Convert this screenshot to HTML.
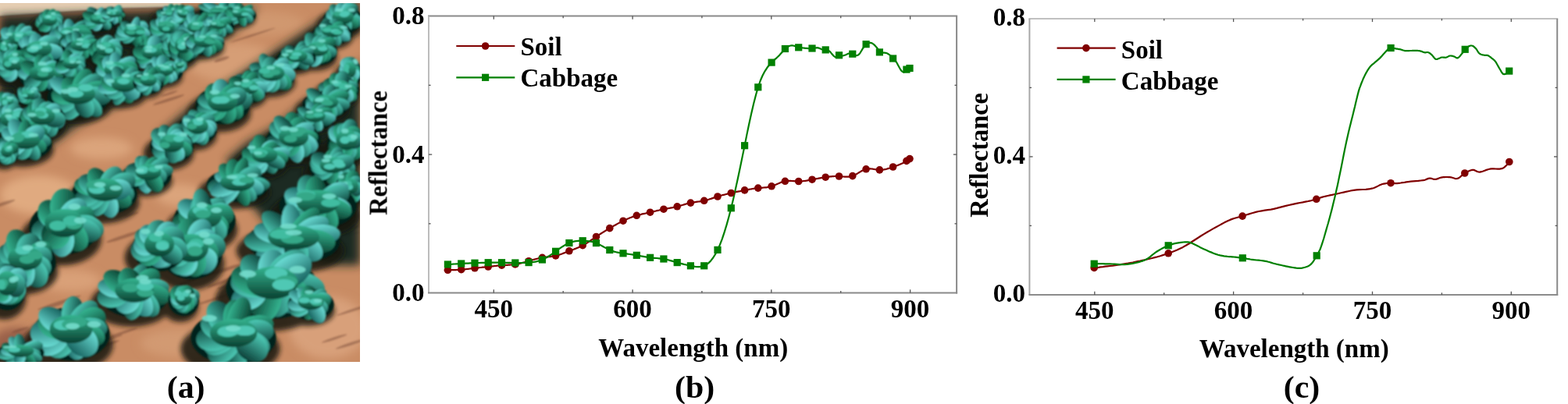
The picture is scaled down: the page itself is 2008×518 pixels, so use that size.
<!DOCTYPE html>
<html><head><meta charset="utf-8"><title>Figure</title>
<style>
html,body{margin:0;padding:0;background:#fff;}
body{width:2008px;height:518px;overflow:hidden;position:relative;}
svg{position:absolute;left:0;top:0;display:block;}
</style></head><body>
<svg width="2008" height="518" viewBox="0 0 2008 518">
<defs><filter id="soft" x="0" y="0" width="100%" height="100%" filterUnits="userSpaceOnUse"><feGaussianBlur stdDeviation="0.45"/></filter></defs>
<defs>
<clipPath id="pc"><rect x="0" y="4" width="461" height="460"/></clipPath>
<filter id="b3" x="-30%" y="-30%" width="160%" height="160%"><feGaussianBlur stdDeviation="3"/></filter>
<filter id="b2" x="-30%" y="-30%" width="160%" height="160%"><feGaussianBlur stdDeviation="1.3"/></filter>
<filter id="b6" x="-30%" y="-30%" width="160%" height="160%"><feGaussianBlur stdDeviation="6"/></filter>
<linearGradient id="lg" x1="0" y1="0" x2="0" y2="1"><stop offset="0" stop-color="#4cc8b4"/><stop offset="1" stop-color="#0c4038"/></linearGradient>
<linearGradient id="lg2" x1="0" y1="0" x2="0" y2="1"><stop offset="0" stop-color="#34b490"/><stop offset="1" stop-color="#0a4030"/></linearGradient>
<linearGradient id="lg3" x1="0" y1="0" x2="0" y2="1"><stop offset="0" stop-color="#6adcd4"/><stop offset="1" stop-color="#186460"/></linearGradient>
</defs>
<g clip-path="url(#pc)">
<rect x="0" y="4" width="461" height="460" fill="#c98c64"/>
<g filter="url(#b6)">
<ellipse cx="50" cy="250" rx="50" ry="25" fill="#e0aa80"/>
<ellipse cx="130" cy="190" rx="40" ry="14" fill="#dba47c"/>
<ellipse cx="90" cy="360" rx="40" ry="14" fill="#d9a078"/>
<ellipse cx="230" cy="250" rx="30" ry="14" fill="#dba47c"/>
<ellipse cx="420" cy="420" rx="50" ry="40" fill="#d8a07a"/>
<ellipse cx="300" cy="80" rx="60" ry="25" fill="#d69e76"/>
<ellipse cx="340" cy="30" rx="50" ry="15" fill="#d09870"/>
<ellipse cx="230" cy="440" rx="50" ry="18" fill="#d29a72"/>
<ellipse cx="60" cy="20" rx="60" ry="8" fill="#b87258"/>
<ellipse cx="20" cy="440" rx="30" ry="20" fill="#9a6048"/>
</g>
<g filter="url(#b2)" opacity="0.45">
<ellipse cx="287" cy="346" rx="26" ry="2.3" fill="#6e4232" transform="rotate(-18 287 346)"/>
<ellipse cx="340" cy="426" rx="11" ry="1.8" fill="#6e4232" transform="rotate(-18 340 426)"/>
<ellipse cx="434" cy="306" rx="28" ry="1.3" fill="#6e4232" transform="rotate(-18 434 306)"/>
<ellipse cx="216" cy="128" rx="21" ry="1.9" fill="#6e4232" transform="rotate(-18 216 128)"/>
<ellipse cx="6" cy="115" rx="16" ry="2.3" fill="#6e4232" transform="rotate(-18 6 115)"/>
<ellipse cx="352" cy="90" rx="26" ry="1.4" fill="#6e4232" transform="rotate(-18 352 90)"/>
<ellipse cx="284" cy="76" rx="10" ry="2.2" fill="#6e4232" transform="rotate(-18 284 76)"/>
<ellipse cx="96" cy="115" rx="30" ry="2.2" fill="#6e4232" transform="rotate(-18 96 115)"/>
<ellipse cx="133" cy="443" rx="21" ry="2.0" fill="#6e4232" transform="rotate(-18 133 443)"/>
<ellipse cx="94" cy="434" rx="24" ry="2.4" fill="#6e4232" transform="rotate(-18 94 434)"/>
<ellipse cx="411" cy="151" rx="17" ry="1.4" fill="#6e4232" transform="rotate(-18 411 151)"/>
<ellipse cx="67" cy="49" rx="16" ry="1.9" fill="#6e4232" transform="rotate(-18 67 49)"/>
<ellipse cx="2" cy="318" rx="17" ry="1.6" fill="#6e4232" transform="rotate(-18 2 318)"/>
<ellipse cx="377" cy="232" rx="16" ry="1.8" fill="#6e4232" transform="rotate(-18 377 232)"/>
<ellipse cx="324" cy="45" rx="30" ry="1.2" fill="#6e4232" transform="rotate(-18 324 45)"/>
<ellipse cx="345" cy="392" rx="10" ry="2.1" fill="#6e4232" transform="rotate(-18 345 392)"/>
<ellipse cx="168" cy="275" rx="10" ry="1.3" fill="#6e4232" transform="rotate(-18 168 275)"/>
<ellipse cx="83" cy="440" rx="14" ry="2.1" fill="#6e4232" transform="rotate(-18 83 440)"/>
<ellipse cx="428" cy="434" rx="17" ry="1.6" fill="#6e4232" transform="rotate(-18 428 434)"/>
<ellipse cx="241" cy="361" rx="12" ry="2.1" fill="#6e4232" transform="rotate(-18 241 361)"/>
<ellipse cx="367" cy="398" rx="11" ry="2.3" fill="#6e4232" transform="rotate(-18 367 398)"/>
<ellipse cx="42" cy="170" rx="22" ry="2.3" fill="#6e4232" transform="rotate(-18 42 170)"/>
<ellipse cx="156" cy="427" rx="21" ry="1.6" fill="#6e4232" transform="rotate(-18 156 427)"/>
<ellipse cx="146" cy="98" rx="12" ry="1.4" fill="#6e4232" transform="rotate(-18 146 98)"/>
<ellipse cx="317" cy="459" rx="13" ry="1.3" fill="#6e4232" transform="rotate(-18 317 459)"/>
<ellipse cx="454" cy="255" rx="18" ry="1.5" fill="#6e4232" transform="rotate(-18 454 255)"/>
<ellipse cx="273" cy="384" rx="19" ry="1.7" fill="#6e4232" transform="rotate(-18 273 384)"/>
<ellipse cx="26" cy="423" rx="11" ry="1.8" fill="#6e4232" transform="rotate(-18 26 423)"/>
<ellipse cx="386" cy="77" rx="25" ry="2.3" fill="#6e4232" transform="rotate(-18 386 77)"/>
<ellipse cx="290" cy="367" rx="12" ry="1.7" fill="#6e4232" transform="rotate(-18 290 367)"/>
<ellipse cx="69" cy="392" rx="16" ry="1.7" fill="#6e4232" transform="rotate(-18 69 392)"/>
<ellipse cx="460" cy="395" rx="30" ry="1.7" fill="#6e4232" transform="rotate(-18 460 395)"/>
<ellipse cx="225" cy="341" rx="20" ry="1.5" fill="#6e4232" transform="rotate(-18 225 341)"/>
<ellipse cx="186" cy="84" rx="18" ry="2.4" fill="#6e4232" transform="rotate(-18 186 84)"/>
<ellipse cx="442" cy="296" rx="20" ry="1.6" fill="#6e4232" transform="rotate(-18 442 296)"/>
<ellipse cx="41" cy="140" rx="26" ry="2.2" fill="#6e4232" transform="rotate(-18 41 140)"/>
<ellipse cx="166" cy="366" rx="25" ry="2.0" fill="#6e4232" transform="rotate(-18 166 366)"/>
<ellipse cx="305" cy="354" rx="17" ry="2.0" fill="#6e4232" transform="rotate(-18 305 354)"/>
<ellipse cx="129" cy="234" rx="25" ry="2.0" fill="#6e4232" transform="rotate(-18 129 234)"/>
<ellipse cx="135" cy="436" rx="23" ry="1.9" fill="#6e4232" transform="rotate(-18 135 436)"/>
<ellipse cx="5" cy="261" rx="15" ry="2.0" fill="#6e4232" transform="rotate(-18 5 261)"/>
<ellipse cx="213" cy="379" rx="23" ry="2.2" fill="#6e4232" transform="rotate(-18 213 379)"/>
<ellipse cx="160" cy="303" rx="25" ry="2.2" fill="#6e4232" transform="rotate(-18 160 303)"/>
<ellipse cx="161" cy="391" rx="27" ry="2.0" fill="#6e4232" transform="rotate(-18 161 391)"/>
<ellipse cx="449" cy="441" rx="20" ry="1.8" fill="#6e4232" transform="rotate(-18 449 441)"/>
<ellipse cx="76" cy="388" rx="29" ry="1.8" fill="#6e4232" transform="rotate(-18 76 388)"/>
<ellipse cx="318" cy="337" rx="25" ry="1.4" fill="#6e4232" transform="rotate(-18 318 337)"/>
<ellipse cx="359" cy="276" rx="23" ry="1.7" fill="#6e4232" transform="rotate(-18 359 276)"/>
<ellipse cx="287" cy="361" rx="23" ry="2.1" fill="#6e4232" transform="rotate(-18 287 361)"/>
<ellipse cx="13" cy="90" rx="19" ry="2.0" fill="#6e4232" transform="rotate(-18 13 90)"/>
<ellipse cx="101" cy="322" rx="23" ry="1.3" fill="#6e4232" transform="rotate(-18 101 322)"/>
<ellipse cx="217" cy="120" rx="11" ry="1.4" fill="#6e4232" transform="rotate(-18 217 120)"/>
<ellipse cx="146" cy="100" rx="14" ry="1.2" fill="#6e4232" transform="rotate(-18 146 100)"/>
<ellipse cx="214" cy="187" rx="22" ry="1.9" fill="#6e4232" transform="rotate(-18 214 187)"/>
<ellipse cx="109" cy="417" rx="10" ry="1.7" fill="#6e4232" transform="rotate(-18 109 417)"/>
</g>
<polygon points="-6,3 232,3 232,10 160,11.5 100,15 40,19 -6,22" fill="#e6cfb4" filter="url(#b2)"/>
<path d="M-6,22.4 L40,19 L100,15 L160,11.5 L232,10" stroke="#5a3a2c" stroke-width="2" fill="none" opacity="0.7" filter="url(#b2)"/>
<polygon points="-6,23 100,16 232,11 232,30 -6,40" fill="#b87050" opacity="0.8" filter="url(#b2)"/>
<g filter="url(#b6)">
<polygon points="461,78 435,102 398,125 353,162 317,182 290,205 300,240 330,272 350,300 385,330 420,340 461,340" fill="#1c2c22"/>
<polygon points="461,0 461,40 420,60 380,85 340,105 300,130 270,150 240,175 220,190 200,175 240,140 300,100 360,60 420,20" fill="#1c2c22"/>
<polygon points="0,20 330,10 300,40 250,75 200,100 150,135 100,160 60,190 0,205" fill="#1c2c22"/>
</g>
<g filter="url(#b3)" opacity="0.85">
<ellipse cx="59.5" cy="34.2" rx="20.8" ry="13.7" fill="#141810"/>
<ellipse cx="123" cy="32.2" rx="25.4" ry="13.7" fill="#141810"/>
<ellipse cx="141" cy="23.2" rx="17.3" ry="9.8" fill="#141810"/>
<ellipse cx="214" cy="23.2" rx="20.8" ry="9.8" fill="#141810"/>
<ellipse cx="20" cy="58.3" rx="27.7" ry="15.6" fill="#141810"/>
<ellipse cx="87" cy="50.8" rx="28.9" ry="14.7" fill="#141810"/>
<ellipse cx="168" cy="48.8" rx="28.9" ry="14.7" fill="#141810"/>
<ellipse cx="209" cy="43.8" rx="23.1" ry="14.7" fill="#141810"/>
<ellipse cx="1" cy="69.2" rx="13.9" ry="13.7" fill="#141810"/>
<ellipse cx="46" cy="74.3" rx="34.6" ry="19.6" fill="#141810"/>
<ellipse cx="100" cy="66.8" rx="28.9" ry="14.7" fill="#141810"/>
<ellipse cx="132" cy="73.3" rx="25.4" ry="17.6" fill="#141810"/>
<ellipse cx="191" cy="77.3" rx="28.9" ry="17.6" fill="#141810"/>
<ellipse cx="218" cy="66.8" rx="17.3" ry="14.7" fill="#141810"/>
<ellipse cx="10" cy="92.3" rx="23.1" ry="19.6" fill="#141810"/>
<ellipse cx="50" cy="105.3" rx="34.6" ry="19.6" fill="#141810"/>
<ellipse cx="87" cy="89.8" rx="23.1" ry="14.7" fill="#141810"/>
<ellipse cx="146" cy="101.3" rx="34.6" ry="19.6" fill="#141810"/>
<ellipse cx="205" cy="98.8" rx="28.9" ry="14.7" fill="#141810"/>
<ellipse cx="96" cy="134.9" rx="46.2" ry="24.4" fill="#141810"/>
<ellipse cx="155" cy="119.3" rx="34.6" ry="19.6" fill="#141810"/>
<ellipse cx="186" cy="111.8" rx="23.1" ry="14.7" fill="#141810"/>
<ellipse cx="32" cy="128.2" rx="17.3" ry="11.7" fill="#141810"/>
<ellipse cx="5" cy="139.8" rx="17.3" ry="14.7" fill="#141810"/>
<ellipse cx="10" cy="164.3" rx="28.9" ry="19.6" fill="#141810"/>
<ellipse cx="50" cy="161.4" rx="34.6" ry="21.5" fill="#141810"/>
<ellipse cx="28" cy="192.4" rx="40.4" ry="21.5" fill="#141810"/>
<ellipse cx="5" cy="202.8" rx="17.3" ry="14.7" fill="#141810"/>
<ellipse cx="231" cy="24.2" rx="17.3" ry="11.7" fill="#141810"/>
<ellipse cx="281" cy="19.2" rx="34.6" ry="9.8" fill="#141810"/>
<ellipse cx="304" cy="24.2" rx="23.1" ry="11.7" fill="#141810"/>
<ellipse cx="249" cy="43.8" rx="28.9" ry="14.7" fill="#141810"/>
<ellipse cx="276" cy="38.2" rx="23.1" ry="11.7" fill="#141810"/>
<ellipse cx="231" cy="69.3" rx="23.1" ry="19.6" fill="#141810"/>
<ellipse cx="258" cy="61.8" rx="28.9" ry="14.7" fill="#141810"/>
<ellipse cx="226" cy="88.1" rx="11.6" ry="7.8" fill="#141810"/>
<ellipse cx="435" cy="32.3" rx="28.9" ry="17.6" fill="#141810"/>
<ellipse cx="422" cy="48.8" rx="28.9" ry="14.7" fill="#141810"/>
<ellipse cx="403" cy="73.3" rx="28.9" ry="17.6" fill="#141810"/>
<ellipse cx="376" cy="80.8" rx="28.9" ry="14.7" fill="#141810"/>
<ellipse cx="344" cy="105.3" rx="34.6" ry="19.6" fill="#141810"/>
<ellipse cx="313" cy="122.3" rx="28.9" ry="17.6" fill="#141810"/>
<ellipse cx="281" cy="144.9" rx="40.4" ry="24.4" fill="#141810"/>
<ellipse cx="249" cy="173.3" rx="28.9" ry="19.6" fill="#141810"/>
<ellipse cx="216" cy="196.4" rx="32.3" ry="21.5" fill="#141810"/>
<ellipse cx="186" cy="232.3" rx="34.6" ry="19.6" fill="#141810"/>
<ellipse cx="130" cy="259.5" rx="48.5" ry="27.4" fill="#141810"/>
<ellipse cx="78" cy="306.1" rx="52.0" ry="34.2" fill="#141810"/>
<ellipse cx="28" cy="348.5" rx="46.2" ry="29.3" fill="#141810"/>
<ellipse cx="5" cy="380.5" rx="28.9" ry="29.3" fill="#141810"/>
<ellipse cx="444" cy="101.3" rx="17.3" ry="19.6" fill="#141810"/>
<ellipse cx="431" cy="122.3" rx="28.9" ry="17.6" fill="#141810"/>
<ellipse cx="413" cy="141.3" rx="34.6" ry="17.6" fill="#141810"/>
<ellipse cx="399" cy="157.8" rx="28.9" ry="14.7" fill="#141810"/>
<ellipse cx="372" cy="189.9" rx="40.4" ry="24.4" fill="#141810"/>
<ellipse cx="335" cy="210.3" rx="34.6" ry="19.6" fill="#141810"/>
<ellipse cx="300" cy="246.4" rx="46.2" ry="21.5" fill="#141810"/>
<ellipse cx="258" cy="294.5" rx="46.2" ry="29.3" fill="#141810"/>
<ellipse cx="241" cy="338.1" rx="46.2" ry="34.2" fill="#141810"/>
<ellipse cx="200" cy="330.5" rx="40.4" ry="29.3" fill="#141810"/>
<ellipse cx="168" cy="389.5" rx="52.0" ry="29.3" fill="#141810"/>
<ellipse cx="231" cy="393.4" rx="23.1" ry="19.6" fill="#141810"/>
<ellipse cx="87" cy="442.1" rx="57.8" ry="34.2" fill="#141810"/>
<ellipse cx="23" cy="458.8" rx="34.6" ry="14.7" fill="#141810"/>
<ellipse cx="440" cy="193.9" rx="28.9" ry="24.4" fill="#141810"/>
<ellipse cx="422" cy="223.3" rx="34.6" ry="19.6" fill="#141810"/>
<ellipse cx="444" cy="250.3" rx="23.1" ry="19.6" fill="#141810"/>
<ellipse cx="403" cy="276.5" rx="57.8" ry="29.3" fill="#141810"/>
<ellipse cx="372" cy="321.5" rx="69.3" ry="29.3" fill="#141810"/>
<ellipse cx="345" cy="385.7" rx="69.3" ry="39.1" fill="#141810"/>
<ellipse cx="394" cy="398.4" rx="34.6" ry="19.6" fill="#141810"/>
<ellipse cx="295" cy="447.1" rx="63.5" ry="34.2" fill="#141810"/>
</g>
<g filter="url(#b2)">
<ellipse cx="63.5" cy="28.6" rx="17.8" ry="13.7" fill="#06241a"/>
<ellipse cx="52.8" cy="29.4" rx="8.2" ry="6.5" fill="url(#lg2)" transform="rotate(167 52.8 29.4)"/>
<ellipse cx="54.3" cy="26.5" rx="8.6" ry="7.0" fill="url(#lg)" transform="rotate(-177 54.3 26.5)"/>
<ellipse cx="57.8" cy="22.9" rx="8.4" ry="7.2" fill="url(#lg)" transform="rotate(-145 57.8 22.9)"/>
<ellipse cx="61.3" cy="20.1" rx="8.2" ry="6.9" fill="url(#lg2)" transform="rotate(-108 61.3 20.1)"/>
<ellipse cx="66.5" cy="18.6" rx="7.3" ry="5.5" fill="url(#lg2)" transform="rotate(-70 66.5 18.6)"/>
<ellipse cx="71.0" cy="21.0" rx="7.9" ry="6.6" fill="url(#lg2)" transform="rotate(-39 71.0 21.0)"/>
<ellipse cx="72.9" cy="24.7" rx="8.3" ry="6.8" fill="url(#lg)" transform="rotate(-14 72.9 24.7)"/>
<ellipse cx="71.9" cy="29.1" rx="8.4" ry="7.3" fill="url(#lg)" transform="rotate(14 71.9 29.1)"/>
<ellipse cx="69.0" cy="32.1" rx="7.7" ry="6.0" fill="url(#lg)" transform="rotate(43 69.0 32.1)"/>
<ellipse cx="65.5" cy="32.8" rx="7.4" ry="6.0" fill="url(#lg)" transform="rotate(71 65.5 32.8)"/>
<ellipse cx="58.8" cy="34.9" rx="7.1" ry="5.9" fill="url(#lg)" transform="rotate(121 58.8 34.9)"/>
<ellipse cx="55.9" cy="33.9" rx="8.1" ry="5.6" fill="url(#lg2)" transform="rotate(138 55.9 33.9)"/>
<ellipse cx="63.5" cy="26.2" rx="9.9" ry="7.2" fill="url(#lg2)"/>
<ellipse cx="66.8" cy="23.1" rx="4.4" ry="2.6" fill="#40bca0"/>
<ellipse cx="61.3" cy="21.5" rx="4.4" ry="2.6" fill="#50c8b4"/>
<ellipse cx="66.6" cy="22.1" rx="4.4" ry="2.6" fill="#40bca0"/>
<ellipse cx="68.0" cy="17.4" rx="3.2" ry="1.6" fill="#74dccc" opacity="0.9"/>
<ellipse cx="62.7" cy="21.3" rx="3.2" ry="1.6" fill="#74dccc" opacity="0.9"/>
<ellipse cx="127" cy="26.6" rx="21.8" ry="13.7" fill="#06241a"/>
<ellipse cx="120.8" cy="18.7" rx="11.6" ry="7.0" fill="url(#lg)" transform="rotate(-135 120.8 18.7)"/>
<ellipse cx="128.5" cy="19.0" rx="9.9" ry="5.9" fill="url(#lg3)" transform="rotate(-76 128.5 19.0)"/>
<ellipse cx="137.0" cy="18.6" rx="10.4" ry="7.4" fill="url(#lg)" transform="rotate(-33 137.0 18.6)"/>
<ellipse cx="136.0" cy="21.1" rx="11.2" ry="6.7" fill="url(#lg)" transform="rotate(-23 136.0 21.1)"/>
<ellipse cx="136.2" cy="24.2" rx="10.0" ry="5.5" fill="url(#lg3)" transform="rotate(-5 136.2 24.2)"/>
<ellipse cx="134.5" cy="30.0" rx="8.9" ry="5.9" fill="url(#lg2)" transform="rotate(34 134.5 30.0)"/>
<ellipse cx="133.5" cy="30.5" rx="10.5" ry="5.7" fill="url(#lg)" transform="rotate(40 133.5 30.5)"/>
<ellipse cx="124.6" cy="30.9" rx="9.8" ry="6.7" fill="url(#lg3)" transform="rotate(112 124.6 30.9)"/>
<ellipse cx="117.5" cy="30.9" rx="9.4" ry="5.8" fill="url(#lg2)" transform="rotate(148 117.5 30.9)"/>
<ellipse cx="117.0" cy="27.3" rx="10.1" ry="5.6" fill="url(#lg)" transform="rotate(167 117.0 27.3)"/>
<ellipse cx="118.4" cy="25.6" rx="11.5" ry="5.9" fill="url(#lg)" transform="rotate(176 118.4 25.6)"/>
<ellipse cx="115.5" cy="20.9" rx="10.4" ry="6.0" fill="url(#lg2)" transform="rotate(-160 115.5 20.9)"/>
<ellipse cx="127" cy="24.2" rx="12.1" ry="7.2" fill="url(#lg2)"/>
<ellipse cx="133.2" cy="25.7" rx="5.3" ry="2.6" fill="#40bca0"/>
<ellipse cx="123.1" cy="23.0" rx="5.3" ry="2.6" fill="#34a888"/>
<ellipse cx="128.7" cy="21.2" rx="5.3" ry="2.6" fill="#40bca0"/>
<ellipse cx="133.6" cy="15.9" rx="3.9" ry="1.6" fill="#74dccc" opacity="0.9"/>
<ellipse cx="124.6" cy="17.3" rx="3.9" ry="1.6" fill="#74dccc" opacity="0.9"/>
<ellipse cx="145" cy="19.1" rx="14.8" ry="9.8" fill="#06241a"/>
<ellipse cx="152.7" cy="19.0" rx="7.9" ry="4.0" fill="url(#lg2)" transform="rotate(7 152.7 19.0)"/>
<ellipse cx="150.0" cy="23.6" rx="7.2" ry="4.9" fill="url(#lg2)" transform="rotate(48 150.0 23.6)"/>
<ellipse cx="146.7" cy="24.4" rx="6.9" ry="4.4" fill="url(#lg3)" transform="rotate(75 146.7 24.4)"/>
<ellipse cx="142.1" cy="21.5" rx="7.2" ry="4.6" fill="url(#lg3)" transform="rotate(130 142.1 21.5)"/>
<ellipse cx="138.7" cy="23.0" rx="6.1" ry="4.7" fill="url(#lg)" transform="rotate(142 138.7 23.0)"/>
<ellipse cx="136.4" cy="18.2" rx="7.3" ry="5.0" fill="url(#lg3)" transform="rotate(179 136.4 18.2)"/>
<ellipse cx="136.8" cy="16.7" rx="7.7" ry="5.1" fill="url(#lg)" transform="rotate(-171 136.8 16.7)"/>
<ellipse cx="142.0" cy="14.5" rx="6.9" ry="3.9" fill="url(#lg)" transform="rotate(-130 142.0 14.5)"/>
<ellipse cx="143.3" cy="14.1" rx="6.1" ry="4.0" fill="url(#lg)" transform="rotate(-113 143.3 14.1)"/>
<ellipse cx="149.7" cy="12.5" rx="7.4" ry="4.4" fill="url(#lg)" transform="rotate(-49 149.7 12.5)"/>
<ellipse cx="151.3" cy="13.6" rx="6.1" ry="4.9" fill="url(#lg)" transform="rotate(-35 151.3 13.6)"/>
<ellipse cx="150.8" cy="16.6" rx="6.0" ry="5.2" fill="url(#lg)" transform="rotate(-13 150.8 16.6)"/>
<ellipse cx="145" cy="17.4" rx="8.2" ry="5.2" fill="url(#lg2)"/>
<ellipse cx="145.0" cy="16.8" rx="3.6" ry="1.8" fill="#50c8b4"/>
<ellipse cx="142.6" cy="14.0" rx="3.6" ry="1.8" fill="#50c8b4"/>
<ellipse cx="141.5" cy="16.8" rx="3.6" ry="1.8" fill="#34a888"/>
<ellipse cx="139.0" cy="16.3" rx="2.6" ry="1.2" fill="#74dccc" opacity="0.9"/>
<ellipse cx="147.9" cy="13.6" rx="2.6" ry="1.2" fill="#74dccc" opacity="0.9"/>
<ellipse cx="218" cy="19.1" rx="17.8" ry="9.8" fill="#06241a"/>
<ellipse cx="225.2" cy="14.0" rx="7.6" ry="4.5" fill="url(#lg2)" transform="rotate(-29 225.2 14.0)"/>
<ellipse cx="226.7" cy="18.2" rx="8.5" ry="4.3" fill="url(#lg2)" transform="rotate(1 226.7 18.2)"/>
<ellipse cx="226.4" cy="18.9" rx="9.3" ry="4.0" fill="url(#lg)" transform="rotate(6 226.4 18.9)"/>
<ellipse cx="221.6" cy="22.3" rx="7.5" ry="4.5" fill="url(#lg3)" transform="rotate(50 221.6 22.3)"/>
<ellipse cx="217.4" cy="24.2" rx="8.0" ry="4.6" fill="url(#lg3)" transform="rotate(95 217.4 24.2)"/>
<ellipse cx="213.1" cy="23.6" rx="8.6" ry="4.4" fill="url(#lg)" transform="rotate(131 213.1 23.6)"/>
<ellipse cx="211.2" cy="22.0" rx="8.7" ry="4.3" fill="url(#lg3)" transform="rotate(149 211.2 22.0)"/>
<ellipse cx="207.8" cy="19.5" rx="7.2" ry="4.1" fill="url(#lg)" transform="rotate(171 207.8 19.5)"/>
<ellipse cx="207.8" cy="16.7" rx="7.8" ry="5.0" fill="url(#lg)" transform="rotate(-173 207.8 16.7)"/>
<ellipse cx="214.8" cy="14.1" rx="7.4" ry="4.6" fill="url(#lg3)" transform="rotate(-129 214.8 14.1)"/>
<ellipse cx="218.7" cy="12.2" rx="7.6" ry="4.6" fill="url(#lg2)" transform="rotate(-83 218.7 12.2)"/>
<ellipse cx="222.7" cy="12.6" rx="8.4" ry="4.0" fill="url(#lg2)" transform="rotate(-49 222.7 12.6)"/>
<ellipse cx="218" cy="17.4" rx="9.9" ry="5.2" fill="url(#lg2)"/>
<ellipse cx="215.3" cy="15.6" rx="4.4" ry="1.8" fill="#34a888"/>
<ellipse cx="223.3" cy="16.3" rx="4.4" ry="1.8" fill="#40bca0"/>
<ellipse cx="216.7" cy="17.6" rx="4.4" ry="1.8" fill="#40bca0"/>
<ellipse cx="209.0" cy="16.5" rx="3.2" ry="1.2" fill="#74dccc" opacity="0.9"/>
<ellipse cx="222.8" cy="11.8" rx="3.2" ry="1.2" fill="#74dccc" opacity="0.9"/>
<ellipse cx="24" cy="51.8" rx="23.8" ry="15.6" fill="#06241a"/>
<ellipse cx="9.6" cy="52.4" rx="10.7" ry="7.5" fill="url(#lg3)" transform="rotate(171 9.6 52.4)"/>
<ellipse cx="11.1" cy="48.1" rx="10.2" ry="7.9" fill="url(#lg)" transform="rotate(-171 11.1 48.1)"/>
<ellipse cx="12.0" cy="44.1" rx="12.6" ry="8.4" fill="url(#lg3)" transform="rotate(-154 12.0 44.1)"/>
<ellipse cx="18.5" cy="41.3" rx="9.6" ry="7.4" fill="url(#lg)" transform="rotate(-122 18.5 41.3)"/>
<ellipse cx="26.5" cy="41.4" rx="11.9" ry="7.3" fill="url(#lg)" transform="rotate(-74 26.5 41.4)"/>
<ellipse cx="32.3" cy="41.7" rx="10.9" ry="6.3" fill="url(#lg3)" transform="rotate(-45 32.3 41.7)"/>
<ellipse cx="38.5" cy="47.9" rx="11.0" ry="8.5" fill="url(#lg)" transform="rotate(-8 38.5 47.9)"/>
<ellipse cx="35.0" cy="53.7" rx="12.5" ry="6.4" fill="url(#lg2)" transform="rotate(19 35.0 53.7)"/>
<ellipse cx="33.5" cy="55.8" rx="12.1" ry="7.5" fill="url(#lg2)" transform="rotate(32 33.5 55.8)"/>
<ellipse cx="28.0" cy="59.6" rx="11.3" ry="6.9" fill="url(#lg)" transform="rotate(67 28.0 59.6)"/>
<ellipse cx="17.6" cy="59.1" rx="11.4" ry="6.9" fill="url(#lg2)" transform="rotate(125 17.6 59.1)"/>
<ellipse cx="13.6" cy="54.8" rx="11.3" ry="6.7" fill="url(#lg)" transform="rotate(155 13.6 54.8)"/>
<ellipse cx="24" cy="49.1" rx="13.2" ry="8.3" fill="url(#lg2)"/>
<ellipse cx="24.1" cy="48.0" rx="5.8" ry="2.9" fill="#40bca0"/>
<ellipse cx="24.6" cy="43.9" rx="5.8" ry="2.9" fill="#50c8b4"/>
<ellipse cx="24.7" cy="50.8" rx="5.8" ry="2.9" fill="#40bca0"/>
<ellipse cx="23.7" cy="45.3" rx="4.2" ry="1.8" fill="#74dccc" opacity="0.9"/>
<ellipse cx="11.4" cy="43.9" rx="4.2" ry="1.8" fill="#74dccc" opacity="0.9"/>
<ellipse cx="91" cy="44.7" rx="24.8" ry="14.7" fill="#06241a"/>
<ellipse cx="76.3" cy="46.0" rx="10.8" ry="6.8" fill="url(#lg2)" transform="rotate(168 76.3 46.0)"/>
<ellipse cx="75.8" cy="44.0" rx="13.0" ry="7.8" fill="url(#lg3)" transform="rotate(176 75.8 44.0)"/>
<ellipse cx="79.3" cy="40.7" rx="10.0" ry="6.4" fill="url(#lg)" transform="rotate(-169 79.3 40.7)"/>
<ellipse cx="83.6" cy="38.2" rx="9.9" ry="6.5" fill="url(#lg3)" transform="rotate(-147 83.6 38.2)"/>
<ellipse cx="89.1" cy="35.1" rx="11.5" ry="7.1" fill="url(#lg3)" transform="rotate(-103 89.1 35.1)"/>
<ellipse cx="99.1" cy="35.8" rx="12.8" ry="5.9" fill="url(#lg)" transform="rotate(-42 99.1 35.8)"/>
<ellipse cx="103.6" cy="39.8" rx="11.7" ry="7.7" fill="url(#lg2)" transform="rotate(-14 103.6 39.8)"/>
<ellipse cx="106.0" cy="43.0" rx="11.9" ry="7.6" fill="url(#lg2)" transform="rotate(-0 106.0 43.0)"/>
<ellipse cx="101.3" cy="48.6" rx="11.0" ry="6.2" fill="url(#lg3)" transform="rotate(28 101.3 48.6)"/>
<ellipse cx="94.7" cy="49.4" rx="12.5" ry="6.3" fill="url(#lg)" transform="rotate(60 94.7 49.4)"/>
<ellipse cx="93.2" cy="49.8" rx="12.3" ry="6.4" fill="url(#lg)" transform="rotate(72 93.2 49.8)"/>
<ellipse cx="83.9" cy="51.7" rx="11.7" ry="7.3" fill="url(#lg2)" transform="rotate(129 83.9 51.7)"/>
<ellipse cx="91" cy="42.1" rx="13.8" ry="7.8" fill="url(#lg2)"/>
<ellipse cx="89.4" cy="41.7" rx="6.1" ry="2.8" fill="#40bca0"/>
<ellipse cx="84.3" cy="40.9" rx="6.1" ry="2.8" fill="#50c8b4"/>
<ellipse cx="97.8" cy="43.6" rx="6.1" ry="2.8" fill="#40bca0"/>
<ellipse cx="97.2" cy="38.1" rx="4.4" ry="1.7" fill="#74dccc" opacity="0.9"/>
<ellipse cx="86.3" cy="41.3" rx="4.4" ry="1.7" fill="#74dccc" opacity="0.9"/>
<ellipse cx="172" cy="42.7" rx="24.8" ry="14.7" fill="#06241a"/>
<ellipse cx="179.9" cy="34.8" rx="10.0" ry="7.4" fill="url(#lg)" transform="rotate(-38 179.9 34.8)"/>
<ellipse cx="180.2" cy="36.6" rx="10.6" ry="7.6" fill="url(#lg3)" transform="rotate(-28 180.2 36.6)"/>
<ellipse cx="182.0" cy="42.3" rx="10.1" ry="7.8" fill="url(#lg)" transform="rotate(8 182.0 42.3)"/>
<ellipse cx="181.8" cy="42.9" rx="11.2" ry="6.7" fill="url(#lg3)" transform="rotate(11 181.8 42.9)"/>
<ellipse cx="179.2" cy="48.1" rx="9.9" ry="7.3" fill="url(#lg2)" transform="rotate(45 179.2 48.1)"/>
<ellipse cx="174.0" cy="48.7" rx="12.3" ry="6.7" fill="url(#lg2)" transform="rotate(75 174.0 48.7)"/>
<ellipse cx="166.5" cy="46.4" rx="12.5" ry="6.5" fill="url(#lg)" transform="rotate(136 166.5 46.4)"/>
<ellipse cx="158.9" cy="44.3" rx="12.7" ry="7.2" fill="url(#lg)" transform="rotate(166 158.9 44.3)"/>
<ellipse cx="161.2" cy="40.8" rx="11.8" ry="6.6" fill="url(#lg3)" transform="rotate(-179 161.2 40.8)"/>
<ellipse cx="162.5" cy="38.4" rx="12.4" ry="6.2" fill="url(#lg)" transform="rotate(-165 162.5 38.4)"/>
<ellipse cx="164.3" cy="35.4" rx="11.7" ry="6.6" fill="url(#lg)" transform="rotate(-144 164.3 35.4)"/>
<ellipse cx="173.5" cy="33.4" rx="12.3" ry="6.0" fill="url(#lg3)" transform="rotate(-78 173.5 33.4)"/>
<ellipse cx="172" cy="40.1" rx="13.8" ry="7.8" fill="url(#lg2)"/>
<ellipse cx="168.7" cy="35.7" rx="6.1" ry="2.8" fill="#50c8b4"/>
<ellipse cx="180.1" cy="41.2" rx="6.1" ry="2.8" fill="#40bca0"/>
<ellipse cx="167.6" cy="41.5" rx="6.1" ry="2.8" fill="#34a888"/>
<ellipse cx="165.9" cy="32.5" rx="4.4" ry="1.7" fill="#74dccc" opacity="0.9"/>
<ellipse cx="169.2" cy="32.2" rx="4.4" ry="1.7" fill="#74dccc" opacity="0.9"/>
<ellipse cx="213" cy="37.7" rx="19.8" ry="14.7" fill="#06241a"/>
<ellipse cx="222.0" cy="39.8" rx="8.5" ry="6.1" fill="url(#lg)" transform="rotate(23 222.0 39.8)"/>
<ellipse cx="215.5" cy="41.8" rx="9.5" ry="7.4" fill="url(#lg3)" transform="rotate(67 215.5 41.8)"/>
<ellipse cx="213.7" cy="44.0" rx="9.9" ry="7.2" fill="url(#lg)" transform="rotate(85 213.7 44.0)"/>
<ellipse cx="210.5" cy="42.8" rx="10.3" ry="7.0" fill="url(#lg)" transform="rotate(110 210.5 42.8)"/>
<ellipse cx="203.0" cy="38.7" rx="10.5" ry="7.2" fill="url(#lg)" transform="rotate(165 203.0 38.7)"/>
<ellipse cx="201.9" cy="36.1" rx="10.4" ry="6.7" fill="url(#lg2)" transform="rotate(179 201.9 36.1)"/>
<ellipse cx="201.5" cy="31.9" rx="10.2" ry="7.0" fill="url(#lg)" transform="rotate(-160 201.5 31.9)"/>
<ellipse cx="207.2" cy="29.4" rx="8.7" ry="6.7" fill="url(#lg3)" transform="rotate(-131 207.2 29.4)"/>
<ellipse cx="212.0" cy="28.9" rx="9.6" ry="7.0" fill="url(#lg3)" transform="rotate(-98 212.0 28.9)"/>
<ellipse cx="219.1" cy="28.4" rx="8.0" ry="7.5" fill="url(#lg)" transform="rotate(-51 219.1 28.4)"/>
<ellipse cx="221.6" cy="32.3" rx="9.7" ry="6.0" fill="url(#lg3)" transform="rotate(-23 221.6 32.3)"/>
<ellipse cx="220.9" cy="36.5" rx="10.5" ry="7.8" fill="url(#lg)" transform="rotate(4 220.9 36.5)"/>
<ellipse cx="213" cy="35.1" rx="11.0" ry="7.8" fill="url(#lg2)"/>
<ellipse cx="216.9" cy="31.5" rx="4.8" ry="2.8" fill="#34a888"/>
<ellipse cx="212.7" cy="36.7" rx="4.8" ry="2.8" fill="#40bca0"/>
<ellipse cx="207.0" cy="30.6" rx="4.8" ry="2.8" fill="#34a888"/>
<ellipse cx="222.9" cy="26.9" rx="3.5" ry="1.7" fill="#74dccc" opacity="0.9"/>
<ellipse cx="224.1" cy="27.8" rx="3.5" ry="1.7" fill="#74dccc" opacity="0.9"/>
<ellipse cx="5" cy="63.6" rx="11.9" ry="13.7" fill="#06241a"/>
<ellipse cx="2.2" cy="55.7" rx="4.9" ry="7.1" fill="url(#lg3)" transform="rotate(-114 2.2 55.7)"/>
<ellipse cx="6.3" cy="56.1" rx="5.5" ry="6.8" fill="url(#lg)" transform="rotate(-78 6.3 56.1)"/>
<ellipse cx="9.8" cy="56.5" rx="5.8" ry="6.2" fill="url(#lg2)" transform="rotate(-49 9.8 56.5)"/>
<ellipse cx="11.8" cy="61.6" rx="5.1" ry="5.7" fill="url(#lg3)" transform="rotate(-3 11.8 61.6)"/>
<ellipse cx="11.0" cy="65.0" rx="5.3" ry="6.0" fill="url(#lg2)" transform="rotate(27 11.0 65.0)"/>
<ellipse cx="9.6" cy="68.3" rx="5.1" ry="6.0" fill="url(#lg2)" transform="rotate(54 9.6 68.3)"/>
<ellipse cx="5.4" cy="67.8" rx="4.8" ry="6.0" fill="url(#lg)" transform="rotate(86 5.4 67.8)"/>
<ellipse cx="4.9" cy="67.8" rx="5.1" ry="6.0" fill="url(#lg)" transform="rotate(91 4.9 67.8)"/>
<ellipse cx="0.8" cy="65.5" rx="5.1" ry="7.4" fill="url(#lg)" transform="rotate(141 0.8 65.5)"/>
<ellipse cx="-0.0" cy="63.8" rx="5.3" ry="6.9" fill="url(#lg)" transform="rotate(160 -0.0 63.8)"/>
<ellipse cx="-0.5" cy="59.2" rx="6.1" ry="7.1" fill="url(#lg2)" transform="rotate(-153 -0.5 59.2)"/>
<ellipse cx="-0.1" cy="56.3" rx="5.4" ry="5.8" fill="url(#lg2)" transform="rotate(-132 -0.1 56.3)"/>
<ellipse cx="5" cy="61.2" rx="6.6" ry="7.2" fill="url(#lg2)"/>
<ellipse cx="6.2" cy="62.7" rx="2.9" ry="2.6" fill="#50c8b4"/>
<ellipse cx="3.3" cy="61.3" rx="2.9" ry="2.6" fill="#40bca0"/>
<ellipse cx="4.4" cy="58.7" rx="2.9" ry="2.6" fill="#40bca0"/>
<ellipse cx="4.4" cy="54.9" rx="2.1" ry="1.6" fill="#74dccc" opacity="0.9"/>
<ellipse cx="5.6" cy="55.8" rx="2.1" ry="1.6" fill="#74dccc" opacity="0.9"/>
<ellipse cx="50" cy="66.3" rx="29.7" ry="19.6" fill="#06241a"/>
<ellipse cx="37.4" cy="58.2" rx="15.1" ry="7.8" fill="url(#lg3)" transform="rotate(-155 37.4 58.2)"/>
<ellipse cx="38.5" cy="55.7" rx="12.2" ry="8.7" fill="url(#lg3)" transform="rotate(-144 38.5 55.7)"/>
<ellipse cx="47.4" cy="55.4" rx="13.3" ry="9.8" fill="url(#lg3)" transform="rotate(-107 47.4 55.4)"/>
<ellipse cx="58.2" cy="56.1" rx="13.6" ry="9.5" fill="url(#lg3)" transform="rotate(-44 58.2 56.1)"/>
<ellipse cx="64.0" cy="56.5" rx="13.1" ry="8.7" fill="url(#lg)" transform="rotate(-28 64.0 56.5)"/>
<ellipse cx="66.9" cy="65.6" rx="13.9" ry="8.1" fill="url(#lg3)" transform="rotate(5 66.9 65.6)"/>
<ellipse cx="66.4" cy="66.2" rx="14.2" ry="10.0" fill="url(#lg3)" transform="rotate(8 66.4 66.2)"/>
<ellipse cx="57.1" cy="73.7" rx="15.2" ry="9.4" fill="url(#lg2)" transform="rotate(54 57.1 73.7)"/>
<ellipse cx="54.5" cy="74.0" rx="15.3" ry="10.1" fill="url(#lg2)" transform="rotate(66 54.5 74.0)"/>
<ellipse cx="43.4" cy="73.9" rx="14.1" ry="10.5" fill="url(#lg)" transform="rotate(124 43.4 73.9)"/>
<ellipse cx="39.5" cy="72.1" rx="15.0" ry="8.1" fill="url(#lg)" transform="rotate(142 39.5 72.1)"/>
<ellipse cx="37.9" cy="65.8" rx="13.1" ry="7.9" fill="url(#lg2)" transform="rotate(171 37.9 65.8)"/>
<ellipse cx="50" cy="62.9" rx="16.5" ry="10.3" fill="url(#lg2)"/>
<ellipse cx="42.0" cy="63.5" rx="7.3" ry="3.7" fill="#50c8b4"/>
<ellipse cx="45.0" cy="58.0" rx="7.3" ry="3.7" fill="#34a888"/>
<ellipse cx="46.8" cy="60.2" rx="7.3" ry="3.7" fill="#50c8b4"/>
<ellipse cx="44.1" cy="61.3" rx="5.3" ry="2.3" fill="#74dccc" opacity="0.9"/>
<ellipse cx="56.3" cy="55.9" rx="5.3" ry="2.3" fill="#74dccc" opacity="0.9"/>
<ellipse cx="104" cy="60.7" rx="24.8" ry="14.7" fill="#06241a"/>
<ellipse cx="90.7" cy="56.0" rx="12.9" ry="6.7" fill="url(#lg3)" transform="rotate(-167 90.7 56.0)"/>
<ellipse cx="95.2" cy="51.6" rx="12.7" ry="7.7" fill="url(#lg)" transform="rotate(-140 95.2 51.6)"/>
<ellipse cx="100.1" cy="50.5" rx="12.5" ry="6.7" fill="url(#lg)" transform="rotate(-115 100.1 50.5)"/>
<ellipse cx="108.8" cy="52.7" rx="10.4" ry="7.2" fill="url(#lg2)" transform="rotate(-53 108.8 52.7)"/>
<ellipse cx="111.5" cy="53.0" rx="11.6" ry="6.4" fill="url(#lg)" transform="rotate(-39 111.5 53.0)"/>
<ellipse cx="117.6" cy="56.3" rx="10.9" ry="6.2" fill="url(#lg2)" transform="rotate(-11 117.6 56.3)"/>
<ellipse cx="117.0" cy="62.8" rx="10.0" ry="6.9" fill="url(#lg)" transform="rotate(16 117.0 62.8)"/>
<ellipse cx="112.6" cy="63.2" rx="11.1" ry="7.1" fill="url(#lg)" transform="rotate(26 112.6 63.2)"/>
<ellipse cx="106.7" cy="65.7" rx="10.5" ry="6.4" fill="url(#lg2)" transform="rotate(68 106.7 65.7)"/>
<ellipse cx="97.4" cy="67.8" rx="12.0" ry="7.8" fill="url(#lg)" transform="rotate(127 97.4 67.8)"/>
<ellipse cx="93.8" cy="63.7" rx="11.2" ry="7.8" fill="url(#lg)" transform="rotate(155 93.8 63.7)"/>
<ellipse cx="93.5" cy="61.0" rx="10.1" ry="7.8" fill="url(#lg)" transform="rotate(169 93.5 61.0)"/>
<ellipse cx="104" cy="58.1" rx="13.8" ry="7.8" fill="url(#lg2)"/>
<ellipse cx="111.9" cy="58.4" rx="6.1" ry="2.8" fill="#50c8b4"/>
<ellipse cx="108.7" cy="53.4" rx="6.1" ry="2.8" fill="#40bca0"/>
<ellipse cx="110.5" cy="59.0" rx="6.1" ry="2.8" fill="#50c8b4"/>
<ellipse cx="102.5" cy="50.8" rx="4.4" ry="1.7" fill="#74dccc" opacity="0.9"/>
<ellipse cx="101.6" cy="56.2" rx="4.4" ry="1.7" fill="#74dccc" opacity="0.9"/>
<ellipse cx="136" cy="66.1" rx="21.8" ry="17.6" fill="#06241a"/>
<ellipse cx="127.4" cy="67.0" rx="11.3" ry="9.1" fill="url(#lg2)" transform="rotate(160 127.4 67.0)"/>
<ellipse cx="122.0" cy="63.3" rx="9.5" ry="8.4" fill="url(#lg2)" transform="rotate(-177 122.0 63.3)"/>
<ellipse cx="127.9" cy="59.8" rx="9.3" ry="9.3" fill="url(#lg2)" transform="rotate(-152 127.9 59.8)"/>
<ellipse cx="132.8" cy="56.9" rx="9.5" ry="8.8" fill="url(#lg)" transform="rotate(-114 132.8 56.9)"/>
<ellipse cx="138.3" cy="53.6" rx="9.0" ry="8.9" fill="url(#lg3)" transform="rotate(-77 138.3 53.6)"/>
<ellipse cx="138.6" cy="56.2" rx="9.3" ry="8.7" fill="url(#lg)" transform="rotate(-72 138.6 56.2)"/>
<ellipse cx="145.0" cy="57.8" rx="10.2" ry="7.4" fill="url(#lg3)" transform="rotate(-34 145.0 57.8)"/>
<ellipse cx="146.7" cy="63.1" rx="10.3" ry="9.5" fill="url(#lg)" transform="rotate(-5 146.7 63.1)"/>
<ellipse cx="147.1" cy="68.5" rx="9.0" ry="8.0" fill="url(#lg)" transform="rotate(22 147.1 68.5)"/>
<ellipse cx="141.1" cy="74.1" rx="9.1" ry="8.1" fill="url(#lg)" transform="rotate(63 141.1 74.1)"/>
<ellipse cx="134.9" cy="73.5" rx="9.6" ry="7.3" fill="url(#lg)" transform="rotate(97 134.9 73.5)"/>
<ellipse cx="127.6" cy="72.7" rx="10.8" ry="9.3" fill="url(#lg2)" transform="rotate(134 127.6 72.7)"/>
<ellipse cx="136" cy="63.0" rx="12.1" ry="9.3" fill="url(#lg2)"/>
<ellipse cx="133.0" cy="59.9" rx="5.3" ry="3.3" fill="#34a888"/>
<ellipse cx="139.6" cy="64.7" rx="5.3" ry="3.3" fill="#50c8b4"/>
<ellipse cx="136.8" cy="57.5" rx="5.3" ry="3.3" fill="#40bca0"/>
<ellipse cx="128.0" cy="59.2" rx="3.9" ry="2.1" fill="#74dccc" opacity="0.9"/>
<ellipse cx="131.5" cy="61.4" rx="3.9" ry="2.1" fill="#74dccc" opacity="0.9"/>
<ellipse cx="195" cy="70.1" rx="24.8" ry="17.6" fill="#06241a"/>
<ellipse cx="184.7" cy="63.7" rx="12.6" ry="7.3" fill="url(#lg2)" transform="rotate(-157 184.7 63.7)"/>
<ellipse cx="189.2" cy="61.5" rx="12.0" ry="7.5" fill="url(#lg2)" transform="rotate(-132 189.2 61.5)"/>
<ellipse cx="192.3" cy="57.0" rx="11.9" ry="7.3" fill="url(#lg2)" transform="rotate(-104 192.3 57.0)"/>
<ellipse cx="197.5" cy="56.2" rx="11.3" ry="9.0" fill="url(#lg3)" transform="rotate(-78 197.5 56.2)"/>
<ellipse cx="206.1" cy="64.0" rx="11.6" ry="8.6" fill="url(#lg2)" transform="rotate(-20 206.1 64.0)"/>
<ellipse cx="207.1" cy="68.3" rx="11.0" ry="8.1" fill="url(#lg)" transform="rotate(1 207.1 68.3)"/>
<ellipse cx="206.8" cy="72.9" rx="10.9" ry="9.0" fill="url(#lg2)" transform="rotate(23 206.8 72.9)"/>
<ellipse cx="202.3" cy="76.5" rx="10.0" ry="7.9" fill="url(#lg3)" transform="rotate(49 202.3 76.5)"/>
<ellipse cx="197.8" cy="77.1" rx="11.7" ry="7.5" fill="url(#lg3)" transform="rotate(73 197.8 77.1)"/>
<ellipse cx="187.4" cy="77.6" rx="11.9" ry="7.4" fill="url(#lg3)" transform="rotate(128 187.4 77.6)"/>
<ellipse cx="185.4" cy="73.3" rx="11.6" ry="7.4" fill="url(#lg2)" transform="rotate(151 185.4 73.3)"/>
<ellipse cx="182.2" cy="66.9" rx="12.3" ry="9.1" fill="url(#lg2)" transform="rotate(-175 182.2 66.9)"/>
<ellipse cx="195" cy="67.0" rx="13.8" ry="9.3" fill="url(#lg2)"/>
<ellipse cx="196.1" cy="61.0" rx="6.1" ry="3.3" fill="#34a888"/>
<ellipse cx="190.0" cy="61.4" rx="6.1" ry="3.3" fill="#40bca0"/>
<ellipse cx="194.6" cy="64.2" rx="6.1" ry="3.3" fill="#50c8b4"/>
<ellipse cx="189.8" cy="65.2" rx="4.4" ry="2.1" fill="#74dccc" opacity="0.9"/>
<ellipse cx="190.8" cy="60.4" rx="4.4" ry="2.1" fill="#74dccc" opacity="0.9"/>
<ellipse cx="222" cy="60.7" rx="14.8" ry="14.7" fill="#06241a"/>
<ellipse cx="225.3" cy="64.6" rx="7.7" ry="7.0" fill="url(#lg)" transform="rotate(59 225.3 64.6)"/>
<ellipse cx="223.6" cy="65.9" rx="7.7" ry="7.9" fill="url(#lg3)" transform="rotate(77 223.6 65.9)"/>
<ellipse cx="220.1" cy="65.2" rx="7.6" ry="6.5" fill="url(#lg3)" transform="rotate(107 220.1 65.2)"/>
<ellipse cx="217.2" cy="65.6" rx="7.6" ry="6.2" fill="url(#lg)" transform="rotate(126 217.2 65.6)"/>
<ellipse cx="215.0" cy="61.2" rx="7.5" ry="7.8" fill="url(#lg2)" transform="rotate(163 215.0 61.2)"/>
<ellipse cx="213.8" cy="57.6" rx="7.4" ry="6.7" fill="url(#lg)" transform="rotate(-170 213.8 57.6)"/>
<ellipse cx="216.0" cy="54.6" rx="6.0" ry="7.0" fill="url(#lg)" transform="rotate(-144 216.0 54.6)"/>
<ellipse cx="220.5" cy="52.5" rx="7.0" ry="6.4" fill="url(#lg3)" transform="rotate(-103 220.5 52.5)"/>
<ellipse cx="222.3" cy="49.9" rx="7.4" ry="7.5" fill="url(#lg)" transform="rotate(-88 222.3 49.9)"/>
<ellipse cx="228.8" cy="54.5" rx="6.9" ry="6.7" fill="url(#lg)" transform="rotate(-33 228.8 54.5)"/>
<ellipse cx="229.5" cy="57.9" rx="7.9" ry="7.6" fill="url(#lg)" transform="rotate(-9 229.5 57.9)"/>
<ellipse cx="227.7" cy="61.6" rx="6.2" ry="7.8" fill="url(#lg3)" transform="rotate(25 227.7 61.6)"/>
<ellipse cx="222" cy="58.1" rx="8.2" ry="7.8" fill="url(#lg2)"/>
<ellipse cx="222.2" cy="55.9" rx="3.6" ry="2.8" fill="#40bca0"/>
<ellipse cx="220.2" cy="53.3" rx="3.6" ry="2.8" fill="#34a888"/>
<ellipse cx="223.2" cy="56.0" rx="3.6" ry="2.8" fill="#50c8b4"/>
<ellipse cx="223.8" cy="55.1" rx="2.6" ry="1.7" fill="#74dccc" opacity="0.9"/>
<ellipse cx="218.5" cy="53.8" rx="2.6" ry="1.7" fill="#74dccc" opacity="0.9"/>
<ellipse cx="14" cy="84.3" rx="19.8" ry="19.6" fill="#06241a"/>
<ellipse cx="23.7" cy="84.6" rx="9.2" ry="8.9" fill="url(#lg)" transform="rotate(15 23.7 84.6)"/>
<ellipse cx="18.8" cy="89.0" rx="10.3" ry="9.3" fill="url(#lg)" transform="rotate(56 18.8 89.0)"/>
<ellipse cx="12.4" cy="94.6" rx="10.6" ry="9.8" fill="url(#lg3)" transform="rotate(97 12.4 94.6)"/>
<ellipse cx="8.3" cy="90.4" rx="10.0" ry="8.4" fill="url(#lg)" transform="rotate(124 8.3 90.4)"/>
<ellipse cx="3.7" cy="89.0" rx="8.2" ry="10.0" fill="url(#lg)" transform="rotate(146 3.7 89.0)"/>
<ellipse cx="3.4" cy="80.8" rx="9.1" ry="8.6" fill="url(#lg3)" transform="rotate(-174 3.4 80.8)"/>
<ellipse cx="5.6" cy="80.2" rx="9.1" ry="9.1" fill="url(#lg)" transform="rotate(-168 5.6 80.2)"/>
<ellipse cx="6.1" cy="73.7" rx="8.5" ry="8.7" fill="url(#lg)" transform="rotate(-134 6.1 73.7)"/>
<ellipse cx="15.1" cy="72.4" rx="9.2" ry="10.4" fill="url(#lg)" transform="rotate(-84 15.1 72.4)"/>
<ellipse cx="19.1" cy="74.6" rx="10.2" ry="9.7" fill="url(#lg)" transform="rotate(-55 19.1 74.6)"/>
<ellipse cx="22.6" cy="73.4" rx="8.9" ry="9.1" fill="url(#lg2)" transform="rotate(-45 22.6 73.4)"/>
<ellipse cx="25.2" cy="81.8" rx="9.4" ry="9.3" fill="url(#lg2)" transform="rotate(-1 25.2 81.8)"/>
<ellipse cx="14" cy="80.8" rx="11.0" ry="10.3" fill="url(#lg2)"/>
<ellipse cx="9.9" cy="82.0" rx="4.8" ry="3.7" fill="#40bca0"/>
<ellipse cx="16.0" cy="76.8" rx="4.8" ry="3.7" fill="#50c8b4"/>
<ellipse cx="20.1" cy="76.5" rx="4.8" ry="3.7" fill="#50c8b4"/>
<ellipse cx="19.2" cy="69.8" rx="3.5" ry="2.3" fill="#74dccc" opacity="0.9"/>
<ellipse cx="18.7" cy="79.0" rx="3.5" ry="2.3" fill="#74dccc" opacity="0.9"/>
<ellipse cx="54" cy="97.3" rx="29.7" ry="19.6" fill="#06241a"/>
<ellipse cx="42.8" cy="99.9" rx="13.1" ry="9.8" fill="url(#lg2)" transform="rotate(157 42.8 99.9)"/>
<ellipse cx="37.0" cy="94.3" rx="13.9" ry="8.6" fill="url(#lg3)" transform="rotate(-178 37.0 94.3)"/>
<ellipse cx="40.7" cy="88.1" rx="15.4" ry="9.4" fill="url(#lg2)" transform="rotate(-153 40.7 88.1)"/>
<ellipse cx="52.0" cy="82.3" rx="12.6" ry="8.4" fill="url(#lg2)" transform="rotate(-99 52.0 82.3)"/>
<ellipse cx="57.0" cy="86.7" rx="15.8" ry="9.0" fill="url(#lg)" transform="rotate(-70 57.0 86.7)"/>
<ellipse cx="61.8" cy="88.7" rx="14.3" ry="8.6" fill="url(#lg3)" transform="rotate(-39 61.8 88.7)"/>
<ellipse cx="68.7" cy="90.9" rx="12.5" ry="10.5" fill="url(#lg2)" transform="rotate(-16 68.7 90.9)"/>
<ellipse cx="67.7" cy="95.5" rx="14.1" ry="8.3" fill="url(#lg2)" transform="rotate(2 67.7 95.5)"/>
<ellipse cx="60.9" cy="101.7" rx="13.7" ry="9.9" fill="url(#lg)" transform="rotate(44 60.9 101.7)"/>
<ellipse cx="64.3" cy="105.6" rx="12.1" ry="8.0" fill="url(#lg3)" transform="rotate(46 64.3 105.6)"/>
<ellipse cx="52.7" cy="105.6" rx="12.0" ry="8.6" fill="url(#lg2)" transform="rotate(97 52.7 105.6)"/>
<ellipse cx="42.2" cy="103.9" rx="12.3" ry="9.0" fill="url(#lg)" transform="rotate(143 42.2 103.9)"/>
<ellipse cx="54" cy="93.8" rx="16.5" ry="10.3" fill="url(#lg2)"/>
<ellipse cx="54.9" cy="89.3" rx="7.3" ry="3.7" fill="#34a888"/>
<ellipse cx="59.8" cy="89.1" rx="7.3" ry="3.7" fill="#50c8b4"/>
<ellipse cx="54.9" cy="94.8" rx="7.3" ry="3.7" fill="#34a888"/>
<ellipse cx="54.0" cy="81.6" rx="5.3" ry="2.3" fill="#74dccc" opacity="0.9"/>
<ellipse cx="57.5" cy="89.4" rx="5.3" ry="2.3" fill="#74dccc" opacity="0.9"/>
<ellipse cx="91" cy="83.7" rx="19.8" ry="14.7" fill="#06241a"/>
<ellipse cx="84.1" cy="78.0" rx="8.3" ry="5.9" fill="url(#lg)" transform="rotate(-150 84.1 78.0)"/>
<ellipse cx="86.6" cy="74.7" rx="9.8" ry="7.6" fill="url(#lg)" transform="rotate(-121 86.6 74.7)"/>
<ellipse cx="87.6" cy="72.7" rx="9.4" ry="7.0" fill="url(#lg2)" transform="rotate(-110 87.6 72.7)"/>
<ellipse cx="94.9" cy="76.6" rx="9.0" ry="7.3" fill="url(#lg3)" transform="rotate(-54 94.9 76.6)"/>
<ellipse cx="100.2" cy="78.4" rx="9.6" ry="6.9" fill="url(#lg)" transform="rotate(-21 100.2 78.4)"/>
<ellipse cx="99.4" cy="80.7" rx="9.7" ry="7.6" fill="url(#lg)" transform="rotate(-9 99.4 80.7)"/>
<ellipse cx="100.5" cy="83.8" rx="8.9" ry="6.3" fill="url(#lg)" transform="rotate(11 100.5 83.8)"/>
<ellipse cx="99.1" cy="88.4" rx="9.5" ry="6.1" fill="url(#lg)" transform="rotate(38 99.1 88.4)"/>
<ellipse cx="91.7" cy="91.9" rx="7.9" ry="6.7" fill="url(#lg2)" transform="rotate(86 91.7 91.9)"/>
<ellipse cx="88.4" cy="90.0" rx="9.2" ry="7.8" fill="url(#lg)" transform="rotate(108 88.4 90.0)"/>
<ellipse cx="81.1" cy="86.3" rx="10.5" ry="7.1" fill="url(#lg3)" transform="rotate(157 81.1 86.3)"/>
<ellipse cx="80.7" cy="83.6" rx="8.6" ry="6.8" fill="url(#lg2)" transform="rotate(171 80.7 83.6)"/>
<ellipse cx="91" cy="81.1" rx="11.0" ry="7.8" fill="url(#lg2)"/>
<ellipse cx="89.2" cy="78.3" rx="4.8" ry="2.8" fill="#34a888"/>
<ellipse cx="87.3" cy="77.1" rx="4.8" ry="2.8" fill="#34a888"/>
<ellipse cx="93.0" cy="76.4" rx="4.8" ry="2.8" fill="#50c8b4"/>
<ellipse cx="92.6" cy="79.5" rx="3.5" ry="1.7" fill="#74dccc" opacity="0.9"/>
<ellipse cx="100.3" cy="79.6" rx="3.5" ry="1.7" fill="#74dccc" opacity="0.9"/>
<ellipse cx="150" cy="93.3" rx="29.7" ry="19.6" fill="#06241a"/>
<ellipse cx="155.1" cy="103.5" rx="12.7" ry="8.9" fill="url(#lg)" transform="rotate(68 155.1 103.5)"/>
<ellipse cx="151.1" cy="100.9" rx="12.6" ry="9.3" fill="url(#lg2)" transform="rotate(84 151.1 100.9)"/>
<ellipse cx="142.0" cy="99.5" rx="14.2" ry="9.9" fill="url(#lg)" transform="rotate(133 142.0 99.5)"/>
<ellipse cx="133.1" cy="97.2" rx="14.6" ry="10.2" fill="url(#lg2)" transform="rotate(160 133.1 97.2)"/>
<ellipse cx="135.3" cy="90.1" rx="12.1" ry="8.6" fill="url(#lg3)" transform="rotate(-177 135.3 90.1)"/>
<ellipse cx="137.7" cy="84.5" rx="14.8" ry="9.2" fill="url(#lg2)" transform="rotate(-152 137.7 84.5)"/>
<ellipse cx="142.2" cy="82.6" rx="12.5" ry="10.4" fill="url(#lg3)" transform="rotate(-133 142.2 82.6)"/>
<ellipse cx="148.5" cy="81.7" rx="15.2" ry="8.1" fill="url(#lg3)" transform="rotate(-99 148.5 81.7)"/>
<ellipse cx="160.3" cy="83.4" rx="15.3" ry="8.9" fill="url(#lg3)" transform="rotate(-36 160.3 83.4)"/>
<ellipse cx="164.7" cy="87.6" rx="12.1" ry="8.9" fill="url(#lg2)" transform="rotate(-13 164.7 87.6)"/>
<ellipse cx="163.0" cy="91.5" rx="13.9" ry="8.2" fill="url(#lg2)" transform="rotate(2 163.0 91.5)"/>
<ellipse cx="163.0" cy="95.9" rx="14.0" ry="8.2" fill="url(#lg3)" transform="rotate(21 163.0 95.9)"/>
<ellipse cx="150" cy="89.8" rx="16.5" ry="10.3" fill="url(#lg2)"/>
<ellipse cx="146.3" cy="87.1" rx="7.3" ry="3.7" fill="#50c8b4"/>
<ellipse cx="143.0" cy="84.8" rx="7.3" ry="3.7" fill="#50c8b4"/>
<ellipse cx="150.7" cy="87.1" rx="7.3" ry="3.7" fill="#40bca0"/>
<ellipse cx="145.9" cy="87.2" rx="5.3" ry="2.3" fill="#74dccc" opacity="0.9"/>
<ellipse cx="140.1" cy="80.6" rx="5.3" ry="2.3" fill="#74dccc" opacity="0.9"/>
<ellipse cx="209" cy="92.7" rx="24.8" ry="14.7" fill="#06241a"/>
<ellipse cx="204.7" cy="96.6" rx="10.0" ry="7.2" fill="url(#lg)" transform="rotate(128 204.7 96.6)"/>
<ellipse cx="193.9" cy="93.9" rx="10.9" ry="7.3" fill="url(#lg2)" transform="rotate(169 193.9 93.9)"/>
<ellipse cx="197.2" cy="90.3" rx="10.3" ry="7.5" fill="url(#lg3)" transform="rotate(-176 197.2 90.3)"/>
<ellipse cx="196.8" cy="87.2" rx="10.2" ry="6.8" fill="url(#lg)" transform="rotate(-163 196.8 87.2)"/>
<ellipse cx="203.4" cy="83.8" rx="13.0" ry="6.5" fill="url(#lg3)" transform="rotate(-128 203.4 83.8)"/>
<ellipse cx="208.0" cy="81.3" rx="10.6" ry="7.5" fill="url(#lg3)" transform="rotate(-96 208.0 81.3)"/>
<ellipse cx="216.0" cy="85.6" rx="10.2" ry="6.6" fill="url(#lg)" transform="rotate(-38 216.0 85.6)"/>
<ellipse cx="221.1" cy="88.7" rx="10.7" ry="7.6" fill="url(#lg3)" transform="rotate(-11 221.1 88.7)"/>
<ellipse cx="218.6" cy="92.0" rx="11.2" ry="6.6" fill="url(#lg)" transform="rotate(6 218.6 92.0)"/>
<ellipse cx="216.9" cy="96.1" rx="11.1" ry="7.6" fill="url(#lg3)" transform="rotate(33 216.9 96.1)"/>
<ellipse cx="214.3" cy="97.5" rx="10.7" ry="5.9" fill="url(#lg3)" transform="rotate(51 214.3 97.5)"/>
<ellipse cx="209.2" cy="98.5" rx="10.9" ry="7.6" fill="url(#lg2)" transform="rotate(88 209.2 98.5)"/>
<ellipse cx="209" cy="90.1" rx="13.8" ry="7.8" fill="url(#lg2)"/>
<ellipse cx="211.3" cy="87.6" rx="6.1" ry="2.8" fill="#50c8b4"/>
<ellipse cx="216.5" cy="87.5" rx="6.1" ry="2.8" fill="#34a888"/>
<ellipse cx="212.4" cy="86.5" rx="6.1" ry="2.8" fill="#40bca0"/>
<ellipse cx="212.9" cy="86.0" rx="4.4" ry="1.7" fill="#74dccc" opacity="0.9"/>
<ellipse cx="206.3" cy="84.2" rx="4.4" ry="1.7" fill="#74dccc" opacity="0.9"/>
<ellipse cx="100" cy="124.9" rx="39.6" ry="24.4" fill="#06241a"/>
<ellipse cx="92.2" cy="137.0" rx="17.9" ry="12.9" fill="url(#lg)" transform="rotate(118 92.2 137.0)"/>
<ellipse cx="83.4" cy="131.7" rx="17.3" ry="11.5" fill="url(#lg)" transform="rotate(150 83.4 131.7)"/>
<ellipse cx="83.2" cy="123.3" rx="16.9" ry="10.6" fill="url(#lg2)" transform="rotate(175 83.2 123.3)"/>
<ellipse cx="84.6" cy="121.7" rx="18.7" ry="11.1" fill="url(#lg2)" transform="rotate(-179 84.6 121.7)"/>
<ellipse cx="81.8" cy="111.8" rx="19.9" ry="10.0" fill="url(#lg3)" transform="rotate(-151 81.8 111.8)"/>
<ellipse cx="92.4" cy="112.5" rx="15.9" ry="12.6" fill="url(#lg2)" transform="rotate(-128 92.4 112.5)"/>
<ellipse cx="105.8" cy="107.9" rx="20.9" ry="12.6" fill="url(#lg2)" transform="rotate(-68 105.8 107.9)"/>
<ellipse cx="112.7" cy="110.0" rx="20.1" ry="10.8" fill="url(#lg)" transform="rotate(-43 112.7 110.0)"/>
<ellipse cx="120.5" cy="115.2" rx="18.7" ry="10.6" fill="url(#lg2)" transform="rotate(-18 120.5 115.2)"/>
<ellipse cx="122.4" cy="123.4" rx="20.7" ry="12.3" fill="url(#lg)" transform="rotate(4 122.4 123.4)"/>
<ellipse cx="114.1" cy="134.4" rx="20.5" ry="10.8" fill="url(#lg)" transform="rotate(41 114.1 134.4)"/>
<ellipse cx="107.7" cy="135.7" rx="16.1" ry="11.9" fill="url(#lg)" transform="rotate(61 107.7 135.7)"/>
<ellipse cx="100" cy="120.6" rx="22.0" ry="12.9" fill="url(#lg2)"/>
<ellipse cx="109.8" cy="112.6" rx="9.7" ry="4.6" fill="#50c8b4"/>
<ellipse cx="97.3" cy="120.4" rx="9.7" ry="4.6" fill="#34a888"/>
<ellipse cx="97.2" cy="120.2" rx="9.7" ry="4.6" fill="#50c8b4"/>
<ellipse cx="93.6" cy="114.6" rx="7.0" ry="2.9" fill="#74dccc" opacity="0.9"/>
<ellipse cx="84.7" cy="117.1" rx="7.0" ry="2.9" fill="#74dccc" opacity="0.9"/>
<ellipse cx="159" cy="111.3" rx="29.7" ry="19.6" fill="#06241a"/>
<ellipse cx="162.1" cy="117.5" rx="15.8" ry="9.6" fill="url(#lg2)" transform="rotate(70 162.1 117.5)"/>
<ellipse cx="153.7" cy="120.9" rx="15.1" ry="8.2" fill="url(#lg)" transform="rotate(114 153.7 120.9)"/>
<ellipse cx="148.9" cy="115.5" rx="14.5" ry="10.5" fill="url(#lg)" transform="rotate(147 148.9 115.5)"/>
<ellipse cx="140.9" cy="112.1" rx="15.7" ry="8.2" fill="url(#lg3)" transform="rotate(170 140.9 112.1)"/>
<ellipse cx="143.0" cy="106.8" rx="13.5" ry="10.4" fill="url(#lg2)" transform="rotate(-172 143.0 106.8)"/>
<ellipse cx="144.4" cy="103.0" rx="12.3" ry="7.9" fill="url(#lg3)" transform="rotate(-157 144.4 103.0)"/>
<ellipse cx="153.5" cy="98.8" rx="15.1" ry="8.9" fill="url(#lg)" transform="rotate(-118 153.5 98.8)"/>
<ellipse cx="166.1" cy="97.4" rx="12.6" ry="8.0" fill="url(#lg)" transform="rotate(-58 166.1 97.4)"/>
<ellipse cx="173.2" cy="101.4" rx="13.0" ry="8.9" fill="url(#lg)" transform="rotate(-28 173.2 101.4)"/>
<ellipse cx="177.8" cy="107.0" rx="13.4" ry="9.7" fill="url(#lg3)" transform="rotate(-6 177.8 107.0)"/>
<ellipse cx="170.7" cy="112.3" rx="12.6" ry="8.1" fill="url(#lg3)" transform="rotate(16 170.7 112.3)"/>
<ellipse cx="167.6" cy="117.4" rx="12.5" ry="10.3" fill="url(#lg3)" transform="rotate(44 167.6 117.4)"/>
<ellipse cx="159" cy="107.8" rx="16.5" ry="10.3" fill="url(#lg2)"/>
<ellipse cx="160.3" cy="102.3" rx="7.3" ry="3.7" fill="#34a888"/>
<ellipse cx="157.0" cy="103.9" rx="7.3" ry="3.7" fill="#40bca0"/>
<ellipse cx="158.6" cy="104.3" rx="7.3" ry="3.7" fill="#50c8b4"/>
<ellipse cx="161.1" cy="96.9" rx="5.3" ry="2.3" fill="#74dccc" opacity="0.9"/>
<ellipse cx="141.1" cy="103.9" rx="5.3" ry="2.3" fill="#74dccc" opacity="0.9"/>
<ellipse cx="190" cy="105.7" rx="19.8" ry="14.7" fill="#06241a"/>
<ellipse cx="183.6" cy="98.6" rx="8.3" ry="7.5" fill="url(#lg)" transform="rotate(-140 183.6 98.6)"/>
<ellipse cx="190.1" cy="96.3" rx="10.1" ry="6.7" fill="url(#lg)" transform="rotate(-89 190.1 96.3)"/>
<ellipse cx="194.2" cy="96.2" rx="10.1" ry="6.4" fill="url(#lg2)" transform="rotate(-62 194.2 96.2)"/>
<ellipse cx="201.6" cy="101.3" rx="10.5" ry="6.8" fill="url(#lg)" transform="rotate(-13 201.6 101.3)"/>
<ellipse cx="197.8" cy="103.1" rx="8.4" ry="6.1" fill="url(#lg)" transform="rotate(-6 197.8 103.1)"/>
<ellipse cx="197.1" cy="106.6" rx="9.4" ry="6.0" fill="url(#lg)" transform="rotate(20 197.1 106.6)"/>
<ellipse cx="196.0" cy="109.0" rx="10.5" ry="5.9" fill="url(#lg3)" transform="rotate(40 196.0 109.0)"/>
<ellipse cx="188.0" cy="113.0" rx="9.9" ry="6.7" fill="url(#lg)" transform="rotate(103 188.0 113.0)"/>
<ellipse cx="183.0" cy="109.8" rx="10.1" ry="6.7" fill="url(#lg)" transform="rotate(141 183.0 109.8)"/>
<ellipse cx="183.8" cy="108.5" rx="8.8" ry="7.4" fill="url(#lg3)" transform="rotate(144 183.8 108.5)"/>
<ellipse cx="180.6" cy="102.7" rx="9.6" ry="6.6" fill="url(#lg3)" transform="rotate(-172 180.6 102.7)"/>
<ellipse cx="179.6" cy="101.2" rx="9.5" ry="6.4" fill="url(#lg2)" transform="rotate(-165 179.6 101.2)"/>
<ellipse cx="190" cy="103.1" rx="11.0" ry="7.8" fill="url(#lg2)"/>
<ellipse cx="193.2" cy="99.4" rx="4.8" ry="2.8" fill="#34a888"/>
<ellipse cx="185.1" cy="100.1" rx="4.8" ry="2.8" fill="#40bca0"/>
<ellipse cx="185.7" cy="98.7" rx="4.8" ry="2.8" fill="#40bca0"/>
<ellipse cx="186.9" cy="95.2" rx="3.5" ry="1.7" fill="#74dccc" opacity="0.9"/>
<ellipse cx="178.4" cy="97.1" rx="3.5" ry="1.7" fill="#74dccc" opacity="0.9"/>
<ellipse cx="36" cy="123.4" rx="14.8" ry="11.7" fill="#06241a"/>
<ellipse cx="45.3" cy="123.0" rx="7.6" ry="6.0" fill="url(#lg)" transform="rotate(6 45.3 123.0)"/>
<ellipse cx="39.5" cy="127.0" rx="7.4" ry="4.9" fill="url(#lg3)" transform="rotate(55 39.5 127.0)"/>
<ellipse cx="38.2" cy="129.7" rx="6.4" ry="5.4" fill="url(#lg2)" transform="rotate(74 38.2 129.7)"/>
<ellipse cx="33.2" cy="126.5" rx="6.7" ry="6.2" fill="url(#lg2)" transform="rotate(122 33.2 126.5)"/>
<ellipse cx="29.5" cy="125.6" rx="6.0" ry="5.9" fill="url(#lg)" transform="rotate(151 29.5 125.6)"/>
<ellipse cx="30.0" cy="122.0" rx="7.2" ry="5.3" fill="url(#lg)" transform="rotate(-180 30.0 122.0)"/>
<ellipse cx="28.9" cy="118.7" rx="6.9" ry="5.6" fill="url(#lg)" transform="rotate(-155 28.9 118.7)"/>
<ellipse cx="29.2" cy="117.6" rx="7.4" ry="5.4" fill="url(#lg)" transform="rotate(-147 29.2 117.6)"/>
<ellipse cx="34.3" cy="116.1" rx="6.4" ry="5.7" fill="url(#lg)" transform="rotate(-106 34.3 116.1)"/>
<ellipse cx="37.9" cy="117.3" rx="7.2" ry="5.4" fill="url(#lg)" transform="rotate(-67 37.9 117.3)"/>
<ellipse cx="43.3" cy="117.2" rx="6.2" ry="5.5" fill="url(#lg3)" transform="rotate(-34 43.3 117.2)"/>
<ellipse cx="42.9" cy="121.6" rx="7.4" ry="6.3" fill="url(#lg)" transform="rotate(-4 42.9 121.6)"/>
<ellipse cx="36" cy="121.3" rx="8.2" ry="6.2" fill="url(#lg2)"/>
<ellipse cx="31.6" cy="122.5" rx="3.6" ry="2.2" fill="#50c8b4"/>
<ellipse cx="32.1" cy="118.2" rx="3.6" ry="2.2" fill="#34a888"/>
<ellipse cx="38.9" cy="118.0" rx="3.6" ry="2.2" fill="#40bca0"/>
<ellipse cx="41.4" cy="117.3" rx="2.6" ry="1.4" fill="#74dccc" opacity="0.9"/>
<ellipse cx="45.0" cy="114.2" rx="2.6" ry="1.4" fill="#74dccc" opacity="0.9"/>
<ellipse cx="9" cy="133.7" rx="14.8" ry="14.7" fill="#06241a"/>
<ellipse cx="14.1" cy="127.4" rx="7.5" ry="6.8" fill="url(#lg)" transform="rotate(-42 14.1 127.4)"/>
<ellipse cx="15.5" cy="131.2" rx="6.5" ry="7.2" fill="url(#lg)" transform="rotate(-7 15.5 131.2)"/>
<ellipse cx="16.4" cy="132.2" rx="7.4" ry="7.7" fill="url(#lg)" transform="rotate(2 16.4 132.2)"/>
<ellipse cx="14.6" cy="139.4" rx="7.5" ry="7.0" fill="url(#lg)" transform="rotate(53 14.6 139.4)"/>
<ellipse cx="9.9" cy="138.6" rx="6.7" ry="6.1" fill="url(#lg)" transform="rotate(82 9.9 138.6)"/>
<ellipse cx="5.0" cy="140.9" rx="6.4" ry="6.5" fill="url(#lg)" transform="rotate(114 5.0 140.9)"/>
<ellipse cx="5.0" cy="138.3" rx="7.6" ry="7.1" fill="url(#lg)" transform="rotate(123 5.0 138.3)"/>
<ellipse cx="0.7" cy="136.9" rx="6.3" ry="7.2" fill="url(#lg2)" transform="rotate(150 0.7 136.9)"/>
<ellipse cx="-0.2" cy="129.5" rx="6.7" ry="7.6" fill="url(#lg3)" transform="rotate(-165 -0.2 129.5)"/>
<ellipse cx="3.4" cy="124.2" rx="7.2" ry="6.3" fill="url(#lg2)" transform="rotate(-126 3.4 124.2)"/>
<ellipse cx="6.2" cy="126.1" rx="7.3" ry="6.8" fill="url(#lg2)" transform="rotate(-115 6.2 126.1)"/>
<ellipse cx="9.8" cy="125.0" rx="6.6" ry="7.2" fill="url(#lg3)" transform="rotate(-84 9.8 125.0)"/>
<ellipse cx="9" cy="131.1" rx="8.2" ry="7.8" fill="url(#lg2)"/>
<ellipse cx="6.0" cy="132.8" rx="3.6" ry="2.8" fill="#34a888"/>
<ellipse cx="6.1" cy="130.9" rx="3.6" ry="2.8" fill="#50c8b4"/>
<ellipse cx="11.7" cy="127.3" rx="3.6" ry="2.8" fill="#40bca0"/>
<ellipse cx="11.4" cy="125.3" rx="2.6" ry="1.7" fill="#74dccc" opacity="0.9"/>
<ellipse cx="14.8" cy="125.2" rx="2.6" ry="1.7" fill="#74dccc" opacity="0.9"/>
<ellipse cx="14" cy="156.3" rx="24.8" ry="19.6" fill="#06241a"/>
<ellipse cx="-1.0" cy="157.5" rx="11.0" ry="9.8" fill="url(#lg2)" transform="rotate(167 -1.0 157.5)"/>
<ellipse cx="3.9" cy="151.9" rx="10.3" ry="10.2" fill="url(#lg)" transform="rotate(-168 3.9 151.9)"/>
<ellipse cx="5.9" cy="146.1" rx="13.0" ry="8.9" fill="url(#lg)" transform="rotate(-136 5.9 146.1)"/>
<ellipse cx="11.3" cy="143.8" rx="10.1" ry="9.0" fill="url(#lg3)" transform="rotate(-105 11.3 143.8)"/>
<ellipse cx="18.0" cy="143.0" rx="10.8" ry="9.6" fill="url(#lg)" transform="rotate(-70 18.0 143.0)"/>
<ellipse cx="22.5" cy="147.9" rx="11.3" ry="8.2" fill="url(#lg3)" transform="rotate(-36 22.5 147.9)"/>
<ellipse cx="24.8" cy="150.9" rx="10.2" ry="10.2" fill="url(#lg)" transform="rotate(-16 24.8 150.9)"/>
<ellipse cx="23.9" cy="156.3" rx="12.9" ry="8.1" fill="url(#lg3)" transform="rotate(13 23.9 156.3)"/>
<ellipse cx="22.5" cy="158.2" rx="11.8" ry="9.7" fill="url(#lg)" transform="rotate(26 22.5 158.2)"/>
<ellipse cx="16.0" cy="162.7" rx="10.1" ry="8.3" fill="url(#lg3)" transform="rotate(77 16.0 162.7)"/>
<ellipse cx="10.7" cy="165.2" rx="10.1" ry="8.4" fill="url(#lg)" transform="rotate(106 10.7 165.2)"/>
<ellipse cx="3.7" cy="159.3" rx="12.6" ry="9.6" fill="url(#lg)" transform="rotate(153 3.7 159.3)"/>
<ellipse cx="14" cy="152.8" rx="13.8" ry="10.3" fill="url(#lg2)"/>
<ellipse cx="22.2" cy="146.6" rx="6.1" ry="3.7" fill="#50c8b4"/>
<ellipse cx="16.6" cy="153.2" rx="6.1" ry="3.7" fill="#40bca0"/>
<ellipse cx="14.3" cy="151.3" rx="6.1" ry="3.7" fill="#50c8b4"/>
<ellipse cx="10.1" cy="141.8" rx="4.4" ry="2.3" fill="#74dccc" opacity="0.9"/>
<ellipse cx="10.8" cy="148.7" rx="4.4" ry="2.3" fill="#74dccc" opacity="0.9"/>
<ellipse cx="54" cy="152.5" rx="29.7" ry="21.5" fill="#06241a"/>
<ellipse cx="69.4" cy="154.4" rx="14.3" ry="10.9" fill="url(#lg3)" transform="rotate(16 69.4 154.4)"/>
<ellipse cx="62.1" cy="163.1" rx="13.8" ry="11.3" fill="url(#lg)" transform="rotate(58 62.1 163.1)"/>
<ellipse cx="54.2" cy="158.9" rx="15.3" ry="11.5" fill="url(#lg)" transform="rotate(89 54.2 158.9)"/>
<ellipse cx="49.3" cy="160.7" rx="14.1" ry="11.6" fill="url(#lg)" transform="rotate(114 49.3 160.7)"/>
<ellipse cx="41.5" cy="156.9" rx="12.4" ry="10.3" fill="url(#lg2)" transform="rotate(151 41.5 156.9)"/>
<ellipse cx="38.6" cy="149.0" rx="13.1" ry="9.7" fill="url(#lg2)" transform="rotate(-176 38.6 149.0)"/>
<ellipse cx="40.5" cy="145.6" rx="12.1" ry="9.3" fill="url(#lg)" transform="rotate(-162 40.5 145.6)"/>
<ellipse cx="46.2" cy="142.7" rx="12.4" ry="11.3" fill="url(#lg2)" transform="rotate(-137 46.2 142.7)"/>
<ellipse cx="51.2" cy="138.1" rx="12.6" ry="10.5" fill="url(#lg)" transform="rotate(-103 51.2 138.1)"/>
<ellipse cx="59.4" cy="142.1" rx="12.5" ry="11.1" fill="url(#lg)" transform="rotate(-56 59.4 142.1)"/>
<ellipse cx="66.0" cy="142.4" rx="12.0" ry="8.9" fill="url(#lg3)" transform="rotate(-33 66.0 142.4)"/>
<ellipse cx="69.3" cy="152.5" rx="14.9" ry="11.0" fill="url(#lg)" transform="rotate(9 69.3 152.5)"/>
<ellipse cx="54" cy="148.7" rx="16.5" ry="11.4" fill="url(#lg2)"/>
<ellipse cx="52.3" cy="141.9" rx="7.3" ry="4.0" fill="#50c8b4"/>
<ellipse cx="54.7" cy="147.8" rx="7.3" ry="4.0" fill="#50c8b4"/>
<ellipse cx="50.6" cy="146.1" rx="7.3" ry="4.0" fill="#34a888"/>
<ellipse cx="71.9" cy="141.9" rx="5.3" ry="2.5" fill="#74dccc" opacity="0.9"/>
<ellipse cx="40.9" cy="147.2" rx="5.3" ry="2.5" fill="#74dccc" opacity="0.9"/>
<ellipse cx="32" cy="183.5" rx="34.6" ry="21.5" fill="#06241a"/>
<ellipse cx="47.0" cy="173.3" rx="15.1" ry="10.4" fill="url(#lg2)" transform="rotate(-27 47.0 173.3)"/>
<ellipse cx="49.3" cy="181.0" rx="16.1" ry="9.7" fill="url(#lg)" transform="rotate(-0 49.3 181.0)"/>
<ellipse cx="44.7" cy="185.6" rx="15.3" ry="10.2" fill="url(#lg2)" transform="rotate(20 44.7 185.6)"/>
<ellipse cx="39.9" cy="191.9" rx="15.7" ry="9.3" fill="url(#lg)" transform="rotate(54 39.9 191.9)"/>
<ellipse cx="29.7" cy="189.9" rx="15.5" ry="11.5" fill="url(#lg)" transform="rotate(105 29.7 189.9)"/>
<ellipse cx="21.2" cy="189.4" rx="16.6" ry="8.9" fill="url(#lg3)" transform="rotate(142 21.2 189.4)"/>
<ellipse cx="15.7" cy="183.5" rx="16.6" ry="9.7" fill="url(#lg3)" transform="rotate(171 15.7 183.5)"/>
<ellipse cx="11.8" cy="182.1" rx="14.1" ry="9.2" fill="url(#lg)" transform="rotate(177 11.8 182.1)"/>
<ellipse cx="15.3" cy="173.6" rx="14.1" ry="8.9" fill="url(#lg3)" transform="rotate(-156 15.3 173.6)"/>
<ellipse cx="23.7" cy="168.6" rx="18.2" ry="10.6" fill="url(#lg3)" transform="rotate(-124 23.7 168.6)"/>
<ellipse cx="32.2" cy="170.5" rx="17.0" ry="8.9" fill="url(#lg2)" transform="rotate(-89 32.2 170.5)"/>
<ellipse cx="43.2" cy="173.1" rx="15.3" ry="11.1" fill="url(#lg3)" transform="rotate(-35 43.2 173.1)"/>
<ellipse cx="32" cy="179.7" rx="19.2" ry="11.4" fill="url(#lg2)"/>
<ellipse cx="35.3" cy="172.7" rx="8.5" ry="4.0" fill="#50c8b4"/>
<ellipse cx="21.6" cy="178.5" rx="8.5" ry="4.0" fill="#34a888"/>
<ellipse cx="23.6" cy="175.6" rx="8.5" ry="4.0" fill="#34a888"/>
<ellipse cx="11.8" cy="177.6" rx="6.2" ry="2.5" fill="#74dccc" opacity="0.9"/>
<ellipse cx="42.7" cy="173.2" rx="6.2" ry="2.5" fill="#74dccc" opacity="0.9"/>
<ellipse cx="9" cy="196.7" rx="14.8" ry="14.7" fill="#06241a"/>
<ellipse cx="16.3" cy="196.2" rx="7.3" ry="7.9" fill="url(#lg)" transform="rotate(9 16.3 196.2)"/>
<ellipse cx="14.6" cy="197.4" rx="7.3" ry="6.2" fill="url(#lg)" transform="rotate(24 14.6 197.4)"/>
<ellipse cx="12.4" cy="203.5" rx="6.8" ry="7.7" fill="url(#lg)" transform="rotate(68 12.4 203.5)"/>
<ellipse cx="7.1" cy="204.6" rx="6.6" ry="7.6" fill="url(#lg)" transform="rotate(101 7.1 204.6)"/>
<ellipse cx="4.5" cy="201.0" rx="7.3" ry="7.2" fill="url(#lg)" transform="rotate(127 4.5 201.0)"/>
<ellipse cx="2.7" cy="196.9" rx="6.8" ry="7.0" fill="url(#lg)" transform="rotate(163 2.7 196.9)"/>
<ellipse cx="2.2" cy="196.0" rx="6.7" ry="7.7" fill="url(#lg)" transform="rotate(172 2.2 196.0)"/>
<ellipse cx="1.3" cy="191.5" rx="6.9" ry="6.8" fill="url(#lg)" transform="rotate(-156 1.3 191.5)"/>
<ellipse cx="5.5" cy="188.0" rx="7.0" ry="7.6" fill="url(#lg3)" transform="rotate(-117 5.5 188.0)"/>
<ellipse cx="8.2" cy="187.6" rx="6.3" ry="6.6" fill="url(#lg)" transform="rotate(-96 8.2 187.6)"/>
<ellipse cx="13.1" cy="187.8" rx="6.9" ry="7.5" fill="url(#lg2)" transform="rotate(-60 13.1 187.8)"/>
<ellipse cx="17.3" cy="190.3" rx="6.6" ry="7.3" fill="url(#lg2)" transform="rotate(-30 17.3 190.3)"/>
<ellipse cx="9" cy="194.1" rx="8.2" ry="7.8" fill="url(#lg2)"/>
<ellipse cx="10.3" cy="191.4" rx="3.6" ry="2.8" fill="#50c8b4"/>
<ellipse cx="9.7" cy="190.7" rx="3.6" ry="2.8" fill="#40bca0"/>
<ellipse cx="12.0" cy="190.7" rx="3.6" ry="2.8" fill="#40bca0"/>
<ellipse cx="12.9" cy="188.4" rx="2.6" ry="1.7" fill="#74dccc" opacity="0.9"/>
<ellipse cx="11.1" cy="189.5" rx="2.6" ry="1.7" fill="#74dccc" opacity="0.9"/>
<ellipse cx="235" cy="19.4" rx="14.8" ry="11.7" fill="#06241a"/>
<ellipse cx="242.5" cy="18.3" rx="6.9" ry="5.1" fill="url(#lg)" transform="rotate(2 242.5 18.3)"/>
<ellipse cx="241.9" cy="20.8" rx="6.2" ry="6.3" fill="url(#lg3)" transform="rotate(22 241.9 20.8)"/>
<ellipse cx="239.7" cy="23.3" rx="6.6" ry="4.9" fill="url(#lg3)" transform="rotate(48 239.7 23.3)"/>
<ellipse cx="235.0" cy="23.1" rx="7.5" ry="5.1" fill="url(#lg2)" transform="rotate(90 235.0 23.1)"/>
<ellipse cx="230.5" cy="24.1" rx="6.6" ry="5.0" fill="url(#lg2)" transform="rotate(126 230.5 24.1)"/>
<ellipse cx="227.6" cy="22.6" rx="7.8" ry="5.8" fill="url(#lg3)" transform="rotate(148 227.6 22.6)"/>
<ellipse cx="226.8" cy="20.5" rx="7.5" ry="5.7" fill="url(#lg3)" transform="rotate(163 226.8 20.5)"/>
<ellipse cx="228.0" cy="17.0" rx="6.3" ry="6.2" fill="url(#lg3)" transform="rotate(-172 228.0 17.0)"/>
<ellipse cx="229.4" cy="13.3" rx="6.5" ry="4.8" fill="url(#lg)" transform="rotate(-140 229.4 13.3)"/>
<ellipse cx="233.2" cy="12.5" rx="6.9" ry="6.1" fill="url(#lg2)" transform="rotate(-108 233.2 12.5)"/>
<ellipse cx="239.0" cy="12.3" rx="6.2" ry="4.8" fill="url(#lg2)" transform="rotate(-55 239.0 12.3)"/>
<ellipse cx="241.5" cy="13.7" rx="7.8" ry="6.0" fill="url(#lg3)" transform="rotate(-33 241.5 13.7)"/>
<ellipse cx="235" cy="17.3" rx="8.2" ry="6.2" fill="url(#lg2)"/>
<ellipse cx="233.1" cy="15.5" rx="3.6" ry="2.2" fill="#50c8b4"/>
<ellipse cx="236.5" cy="16.2" rx="3.6" ry="2.2" fill="#50c8b4"/>
<ellipse cx="234.5" cy="15.2" rx="3.6" ry="2.2" fill="#34a888"/>
<ellipse cx="229.8" cy="14.1" rx="2.6" ry="1.4" fill="#74dccc" opacity="0.9"/>
<ellipse cx="230.8" cy="14.7" rx="2.6" ry="1.4" fill="#74dccc" opacity="0.9"/>
<ellipse cx="285" cy="15.2" rx="29.7" ry="9.8" fill="#06241a"/>
<ellipse cx="294.3" cy="9.6" rx="14.2" ry="5.2" fill="url(#lg)" transform="rotate(-25 294.3 9.6)"/>
<ellipse cx="296.1" cy="12.8" rx="15.6" ry="5.2" fill="url(#lg2)" transform="rotate(-6 296.1 12.8)"/>
<ellipse cx="296.7" cy="16.6" rx="15.3" ry="4.0" fill="url(#lg)" transform="rotate(13 296.7 16.6)"/>
<ellipse cx="296.5" cy="17.2" rx="12.4" ry="5.2" fill="url(#lg)" transform="rotate(15 296.5 17.2)"/>
<ellipse cx="288.8" cy="19.7" rx="12.2" ry="4.9" fill="url(#lg)" transform="rotate(56 288.8 19.7)"/>
<ellipse cx="275.7" cy="19.5" rx="12.3" ry="4.1" fill="url(#lg2)" transform="rotate(150 275.7 19.5)"/>
<ellipse cx="275.9" cy="18.3" rx="14.1" ry="5.3" fill="url(#lg)" transform="rotate(155 275.9 18.3)"/>
<ellipse cx="272.2" cy="15.8" rx="13.2" ry="4.9" fill="url(#lg2)" transform="rotate(172 272.2 15.8)"/>
<ellipse cx="269.1" cy="10.5" rx="15.5" ry="5.1" fill="url(#lg)" transform="rotate(-168 269.1 10.5)"/>
<ellipse cx="274.1" cy="9.2" rx="15.8" ry="4.7" fill="url(#lg3)" transform="rotate(-156 274.1 9.2)"/>
<ellipse cx="285.2" cy="9.7" rx="13.9" ry="5.2" fill="url(#lg)" transform="rotate(-87 285.2 9.7)"/>
<ellipse cx="286.8" cy="9.2" rx="13.1" ry="5.3" fill="url(#lg)" transform="rotate(-70 286.8 9.2)"/>
<ellipse cx="285" cy="13.4" rx="16.5" ry="5.2" fill="url(#lg2)"/>
<ellipse cx="275.7" cy="13.8" rx="7.3" ry="1.8" fill="#34a888"/>
<ellipse cx="287.1" cy="13.9" rx="7.3" ry="1.8" fill="#34a888"/>
<ellipse cx="291.1" cy="10.0" rx="7.3" ry="1.8" fill="#40bca0"/>
<ellipse cx="301.6" cy="8.3" rx="5.3" ry="1.2" fill="#74dccc" opacity="0.9"/>
<ellipse cx="281.2" cy="8.4" rx="5.3" ry="1.2" fill="#74dccc" opacity="0.9"/>
<ellipse cx="308" cy="19.4" rx="19.8" ry="11.7" fill="#06241a"/>
<ellipse cx="303.4" cy="23.4" rx="10.3" ry="5.1" fill="url(#lg)" transform="rotate(130 303.4 23.4)"/>
<ellipse cx="298.4" cy="20.4" rx="8.8" ry="5.8" fill="url(#lg)" transform="rotate(166 298.4 20.4)"/>
<ellipse cx="295.8" cy="16.6" rx="9.0" ry="5.0" fill="url(#lg2)" transform="rotate(-173 295.8 16.6)"/>
<ellipse cx="299.2" cy="14.9" rx="10.0" ry="5.2" fill="url(#lg2)" transform="rotate(-161 299.2 14.9)"/>
<ellipse cx="304.5" cy="11.6" rx="9.5" ry="5.6" fill="url(#lg)" transform="rotate(-118 304.5 11.6)"/>
<ellipse cx="307.6" cy="12.4" rx="8.7" ry="5.2" fill="url(#lg2)" transform="rotate(-95 307.6 12.4)"/>
<ellipse cx="315.7" cy="12.5" rx="9.3" ry="4.8" fill="url(#lg2)" transform="rotate(-36 315.7 12.5)"/>
<ellipse cx="315.2" cy="15.9" rx="9.4" ry="4.9" fill="url(#lg3)" transform="rotate(-17 315.2 15.9)"/>
<ellipse cx="316.0" cy="17.5" rx="10.1" ry="6.3" fill="url(#lg)" transform="rotate(-4 316.0 17.5)"/>
<ellipse cx="316.3" cy="23.1" rx="8.8" ry="6.0" fill="url(#lg)" transform="rotate(32 316.3 23.1)"/>
<ellipse cx="310.2" cy="24.5" rx="10.4" ry="4.8" fill="url(#lg)" transform="rotate(71 310.2 24.5)"/>
<ellipse cx="308.9" cy="22.9" rx="10.4" ry="5.4" fill="url(#lg2)" transform="rotate(79 308.9 22.9)"/>
<ellipse cx="308" cy="17.3" rx="11.0" ry="6.2" fill="url(#lg2)"/>
<ellipse cx="303.3" cy="14.3" rx="4.8" ry="2.2" fill="#50c8b4"/>
<ellipse cx="314.1" cy="18.3" rx="4.8" ry="2.2" fill="#50c8b4"/>
<ellipse cx="303.2" cy="13.9" rx="4.8" ry="2.2" fill="#34a888"/>
<ellipse cx="303.6" cy="10.0" rx="3.5" ry="1.4" fill="#74dccc" opacity="0.9"/>
<ellipse cx="301.6" cy="14.6" rx="3.5" ry="1.4" fill="#74dccc" opacity="0.9"/>
<ellipse cx="253" cy="37.7" rx="24.8" ry="14.7" fill="#06241a"/>
<ellipse cx="251.6" cy="45.5" rx="12.1" ry="6.6" fill="url(#lg)" transform="rotate(98 251.6 45.5)"/>
<ellipse cx="246.6" cy="41.3" rx="12.8" ry="7.9" fill="url(#lg3)" transform="rotate(141 246.6 41.3)"/>
<ellipse cx="244.0" cy="39.2" rx="11.0" ry="7.1" fill="url(#lg3)" transform="rotate(160 244.0 39.2)"/>
<ellipse cx="240.0" cy="36.6" rx="11.8" ry="7.4" fill="url(#lg3)" transform="rotate(178 240.0 36.6)"/>
<ellipse cx="245.0" cy="32.1" rx="10.6" ry="6.0" fill="url(#lg3)" transform="rotate(-154 245.0 32.1)"/>
<ellipse cx="247.4" cy="26.9" rx="12.1" ry="6.2" fill="url(#lg3)" transform="rotate(-122 247.4 26.9)"/>
<ellipse cx="252.9" cy="29.5" rx="11.5" ry="7.7" fill="url(#lg)" transform="rotate(-91 252.9 29.5)"/>
<ellipse cx="258.7" cy="26.7" rx="11.5" ry="5.9" fill="url(#lg2)" transform="rotate(-59 258.7 26.7)"/>
<ellipse cx="267.7" cy="32.3" rx="10.0" ry="7.4" fill="url(#lg)" transform="rotate(-14 267.7 32.3)"/>
<ellipse cx="264.4" cy="35.6" rx="10.1" ry="6.7" fill="url(#lg2)" transform="rotate(-2 264.4 35.6)"/>
<ellipse cx="260.7" cy="39.8" rx="11.3" ry="7.9" fill="url(#lg)" transform="rotate(26 260.7 39.8)"/>
<ellipse cx="259.3" cy="41.5" rx="10.0" ry="6.5" fill="url(#lg)" transform="rotate(41 259.3 41.5)"/>
<ellipse cx="253" cy="35.1" rx="13.8" ry="7.8" fill="url(#lg2)"/>
<ellipse cx="250.3" cy="35.8" rx="6.1" ry="2.8" fill="#34a888"/>
<ellipse cx="250.8" cy="33.2" rx="6.1" ry="2.8" fill="#34a888"/>
<ellipse cx="257.0" cy="31.1" rx="6.1" ry="2.8" fill="#40bca0"/>
<ellipse cx="264.6" cy="30.7" rx="4.4" ry="1.7" fill="#74dccc" opacity="0.9"/>
<ellipse cx="250.5" cy="30.3" rx="4.4" ry="1.7" fill="#74dccc" opacity="0.9"/>
<ellipse cx="280" cy="33.4" rx="19.8" ry="11.7" fill="#06241a"/>
<ellipse cx="268.4" cy="34.5" rx="8.5" ry="6.2" fill="url(#lg2)" transform="rotate(168 268.4 34.5)"/>
<ellipse cx="269.8" cy="30.3" rx="10.3" ry="6.0" fill="url(#lg3)" transform="rotate(-171 269.8 30.3)"/>
<ellipse cx="271.6" cy="27.9" rx="8.3" ry="6.3" fill="url(#lg3)" transform="rotate(-154 271.6 27.9)"/>
<ellipse cx="278.0" cy="25.3" rx="7.9" ry="5.5" fill="url(#lg)" transform="rotate(-106 278.0 25.3)"/>
<ellipse cx="283.3" cy="24.5" rx="9.3" ry="5.3" fill="url(#lg)" transform="rotate(-66 283.3 24.5)"/>
<ellipse cx="287.5" cy="28.1" rx="9.2" ry="6.1" fill="url(#lg)" transform="rotate(-28 287.5 28.1)"/>
<ellipse cx="288.3" cy="29.3" rx="9.6" ry="4.8" fill="url(#lg2)" transform="rotate(-18 288.3 29.3)"/>
<ellipse cx="288.0" cy="34.8" rx="9.1" ry="4.8" fill="url(#lg)" transform="rotate(19 288.0 34.8)"/>
<ellipse cx="289.4" cy="36.6" rx="10.0" ry="5.1" fill="url(#lg)" transform="rotate(26 289.4 36.6)"/>
<ellipse cx="283.0" cy="38.3" rx="10.4" ry="5.5" fill="url(#lg)" transform="rotate(65 283.0 38.3)"/>
<ellipse cx="279.1" cy="37.8" rx="9.7" ry="5.5" fill="url(#lg2)" transform="rotate(99 279.1 37.8)"/>
<ellipse cx="271.4" cy="36.5" rx="9.1" ry="5.2" fill="url(#lg2)" transform="rotate(152 271.4 36.5)"/>
<ellipse cx="280" cy="31.3" rx="11.0" ry="6.2" fill="url(#lg2)"/>
<ellipse cx="282.4" cy="31.6" rx="4.8" ry="2.2" fill="#34a888"/>
<ellipse cx="277.0" cy="28.8" rx="4.8" ry="2.2" fill="#40bca0"/>
<ellipse cx="275.0" cy="29.8" rx="4.8" ry="2.2" fill="#34a888"/>
<ellipse cx="273.8" cy="30.1" rx="3.5" ry="1.4" fill="#74dccc" opacity="0.9"/>
<ellipse cx="268.5" cy="27.3" rx="3.5" ry="1.4" fill="#74dccc" opacity="0.9"/>
<ellipse cx="235" cy="61.3" rx="19.8" ry="19.6" fill="#06241a"/>
<ellipse cx="227.8" cy="67.4" rx="10.3" ry="10.4" fill="url(#lg)" transform="rotate(131 227.8 67.4)"/>
<ellipse cx="226.7" cy="61.0" rx="8.6" ry="8.6" fill="url(#lg)" transform="rotate(167 226.7 61.0)"/>
<ellipse cx="226.4" cy="59.3" rx="9.8" ry="9.9" fill="url(#lg2)" transform="rotate(178 226.4 59.3)"/>
<ellipse cx="226.6" cy="51.5" rx="9.1" ry="8.9" fill="url(#lg)" transform="rotate(-138 226.6 51.5)"/>
<ellipse cx="231.2" cy="47.0" rx="9.4" ry="10.4" fill="url(#lg)" transform="rotate(-108 231.2 47.0)"/>
<ellipse cx="234.1" cy="47.2" rx="8.0" ry="10.3" fill="url(#lg)" transform="rotate(-94 234.1 47.2)"/>
<ellipse cx="240.9" cy="52.1" rx="9.6" ry="10.0" fill="url(#lg2)" transform="rotate(-49 240.9 52.1)"/>
<ellipse cx="243.4" cy="54.7" rx="8.6" ry="8.3" fill="url(#lg3)" transform="rotate(-27 243.4 54.7)"/>
<ellipse cx="247.3" cy="61.0" rx="8.8" ry="10.4" fill="url(#lg)" transform="rotate(9 247.3 61.0)"/>
<ellipse cx="246.1" cy="65.0" rx="9.6" ry="10.5" fill="url(#lg)" transform="rotate(29 246.1 65.0)"/>
<ellipse cx="239.7" cy="67.1" rx="9.3" ry="9.2" fill="url(#lg)" transform="rotate(60 239.7 67.1)"/>
<ellipse cx="236.6" cy="70.7" rx="8.1" ry="9.9" fill="url(#lg2)" transform="rotate(82 236.6 70.7)"/>
<ellipse cx="235" cy="57.9" rx="11.0" ry="10.3" fill="url(#lg2)"/>
<ellipse cx="232.2" cy="59.5" rx="4.8" ry="3.7" fill="#50c8b4"/>
<ellipse cx="231.6" cy="54.0" rx="4.8" ry="3.7" fill="#40bca0"/>
<ellipse cx="232.9" cy="59.8" rx="4.8" ry="3.7" fill="#50c8b4"/>
<ellipse cx="235.7" cy="56.1" rx="3.5" ry="2.3" fill="#74dccc" opacity="0.9"/>
<ellipse cx="238.4" cy="50.0" rx="3.5" ry="2.3" fill="#74dccc" opacity="0.9"/>
<ellipse cx="262" cy="55.7" rx="24.8" ry="14.7" fill="#06241a"/>
<ellipse cx="252.5" cy="59.2" rx="13.1" ry="6.1" fill="url(#lg)" transform="rotate(151 252.5 59.2)"/>
<ellipse cx="249.8" cy="54.6" rx="12.0" ry="7.5" fill="url(#lg3)" transform="rotate(177 249.8 54.6)"/>
<ellipse cx="251.2" cy="50.3" rx="9.9" ry="6.0" fill="url(#lg2)" transform="rotate(-161 251.2 50.3)"/>
<ellipse cx="257.6" cy="48.4" rx="10.4" ry="7.0" fill="url(#lg3)" transform="rotate(-128 257.6 48.4)"/>
<ellipse cx="263.1" cy="45.7" rx="13.0" ry="6.4" fill="url(#lg)" transform="rotate(-83 263.1 45.7)"/>
<ellipse cx="268.7" cy="47.4" rx="11.3" ry="6.1" fill="url(#lg)" transform="rotate(-45 268.7 47.4)"/>
<ellipse cx="270.3" cy="49.3" rx="12.9" ry="7.0" fill="url(#lg)" transform="rotate(-30 270.3 49.3)"/>
<ellipse cx="275.8" cy="52.4" rx="11.3" ry="6.1" fill="url(#lg)" transform="rotate(-6 275.8 52.4)"/>
<ellipse cx="275.1" cy="58.1" rx="10.7" ry="7.6" fill="url(#lg2)" transform="rotate(17 275.1 58.1)"/>
<ellipse cx="268.4" cy="61.5" rx="10.1" ry="7.3" fill="url(#lg2)" transform="rotate(49 268.4 61.5)"/>
<ellipse cx="264.5" cy="62.1" rx="11.2" ry="6.7" fill="url(#lg)" transform="rotate(73 264.5 62.1)"/>
<ellipse cx="254.6" cy="61.1" rx="10.6" ry="6.4" fill="url(#lg)" transform="rotate(136 254.6 61.1)"/>
<ellipse cx="262" cy="53.1" rx="13.8" ry="7.8" fill="url(#lg2)"/>
<ellipse cx="270.0" cy="54.0" rx="6.1" ry="2.8" fill="#34a888"/>
<ellipse cx="255.7" cy="50.1" rx="6.1" ry="2.8" fill="#40bca0"/>
<ellipse cx="267.5" cy="52.9" rx="6.1" ry="2.8" fill="#34a888"/>
<ellipse cx="259.3" cy="47.1" rx="4.4" ry="1.7" fill="#74dccc" opacity="0.9"/>
<ellipse cx="273.7" cy="45.9" rx="4.4" ry="1.7" fill="#74dccc" opacity="0.9"/>
<ellipse cx="230" cy="84.9" rx="9.9" ry="7.8" fill="#06241a"/>
<ellipse cx="231.8" cy="80.1" rx="4.4" ry="3.6" fill="url(#lg)" transform="rotate(-66 231.8 80.1)"/>
<ellipse cx="233.0" cy="81.3" rx="4.0" ry="4.1" fill="url(#lg)" transform="rotate(-42 233.0 81.3)"/>
<ellipse cx="234.8" cy="82.8" rx="5.1" ry="3.6" fill="url(#lg)" transform="rotate(-14 234.8 82.8)"/>
<ellipse cx="234.8" cy="85.5" rx="5.0" ry="4.2" fill="url(#lg)" transform="rotate(17 234.8 85.5)"/>
<ellipse cx="232.9" cy="87.0" rx="4.9" ry="4.2" fill="url(#lg)" transform="rotate(47 232.9 87.0)"/>
<ellipse cx="231.6" cy="88.4" rx="4.3" ry="4.0" fill="url(#lg3)" transform="rotate(70 231.6 88.4)"/>
<ellipse cx="228.6" cy="87.9" rx="5.1" ry="3.5" fill="url(#lg)" transform="rotate(110 228.6 87.9)"/>
<ellipse cx="226.7" cy="87.6" rx="4.3" ry="3.6" fill="url(#lg2)" transform="rotate(133 226.7 87.6)"/>
<ellipse cx="225.1" cy="84.6" rx="4.6" ry="3.2" fill="url(#lg2)" transform="rotate(173 225.1 84.6)"/>
<ellipse cx="225.6" cy="82.3" rx="4.7" ry="3.9" fill="url(#lg3)" transform="rotate(-159 225.6 82.3)"/>
<ellipse cx="226.7" cy="80.5" rx="4.3" ry="3.9" fill="url(#lg)" transform="rotate(-133 226.7 80.5)"/>
<ellipse cx="228.5" cy="78.8" rx="4.1" ry="4.0" fill="url(#lg3)" transform="rotate(-107 228.5 78.8)"/>
<ellipse cx="230" cy="83.5" rx="5.5" ry="4.1" fill="url(#lg2)"/>
<ellipse cx="232.0" cy="82.7" rx="2.4" ry="1.5" fill="#40bca0"/>
<ellipse cx="228.5" cy="82.9" rx="2.4" ry="1.5" fill="#34a888"/>
<ellipse cx="233.0" cy="82.0" rx="2.4" ry="1.5" fill="#34a888"/>
<ellipse cx="233.6" cy="80.8" rx="1.8" ry="0.9" fill="#74dccc" opacity="0.9"/>
<ellipse cx="229.8" cy="82.6" rx="1.8" ry="0.9" fill="#74dccc" opacity="0.9"/>
<ellipse cx="439" cy="25.1" rx="24.8" ry="17.6" fill="#06241a"/>
<ellipse cx="449.2" cy="22.1" rx="10.1" ry="8.2" fill="url(#lg)" transform="rotate(-5 449.2 22.1)"/>
<ellipse cx="453.7" cy="27.0" rx="11.1" ry="8.9" fill="url(#lg)" transform="rotate(15 453.7 27.0)"/>
<ellipse cx="449.8" cy="28.5" rx="10.5" ry="7.9" fill="url(#lg2)" transform="rotate(27 449.8 28.5)"/>
<ellipse cx="442.0" cy="31.2" rx="11.1" ry="8.4" fill="url(#lg)" transform="rotate(70 442.0 31.2)"/>
<ellipse cx="435.0" cy="31.6" rx="11.2" ry="9.0" fill="url(#lg2)" transform="rotate(115 435.0 31.6)"/>
<ellipse cx="432.8" cy="28.7" rx="12.9" ry="8.6" fill="url(#lg)" transform="rotate(138 432.8 28.7)"/>
<ellipse cx="427.7" cy="23.8" rx="11.5" ry="8.8" fill="url(#lg)" transform="rotate(176 427.7 23.8)"/>
<ellipse cx="428.4" cy="19.7" rx="11.0" ry="8.6" fill="url(#lg3)" transform="rotate(-162 428.4 19.7)"/>
<ellipse cx="432.0" cy="15.9" rx="12.8" ry="7.6" fill="url(#lg)" transform="rotate(-134 432.0 15.9)"/>
<ellipse cx="437.9" cy="15.7" rx="12.9" ry="9.0" fill="url(#lg3)" transform="rotate(-98 437.9 15.7)"/>
<ellipse cx="444.7" cy="11.9" rx="10.6" ry="7.6" fill="url(#lg3)" transform="rotate(-63 444.7 11.9)"/>
<ellipse cx="448.7" cy="13.7" rx="11.0" ry="8.1" fill="url(#lg)" transform="rotate(-44 448.7 13.7)"/>
<ellipse cx="439" cy="22.0" rx="13.8" ry="9.3" fill="url(#lg2)"/>
<ellipse cx="433.6" cy="17.3" rx="6.1" ry="3.3" fill="#34a888"/>
<ellipse cx="441.9" cy="17.2" rx="6.1" ry="3.3" fill="#50c8b4"/>
<ellipse cx="440.7" cy="18.6" rx="6.1" ry="3.3" fill="#50c8b4"/>
<ellipse cx="450.3" cy="12.9" rx="4.4" ry="2.1" fill="#74dccc" opacity="0.9"/>
<ellipse cx="434.9" cy="12.9" rx="4.4" ry="2.1" fill="#74dccc" opacity="0.9"/>
<ellipse cx="426" cy="42.7" rx="24.8" ry="14.7" fill="#06241a"/>
<ellipse cx="420.2" cy="33.0" rx="10.1" ry="7.6" fill="url(#lg)" transform="rotate(-126 420.2 33.0)"/>
<ellipse cx="427.2" cy="34.8" rx="11.1" ry="7.9" fill="url(#lg)" transform="rotate(-79 427.2 34.8)"/>
<ellipse cx="432.0" cy="35.8" rx="10.0" ry="7.3" fill="url(#lg2)" transform="rotate(-41 432.0 35.8)"/>
<ellipse cx="435.8" cy="39.9" rx="10.4" ry="7.3" fill="url(#lg)" transform="rotate(-6 435.8 39.9)"/>
<ellipse cx="436.9" cy="43.2" rx="11.8" ry="6.6" fill="url(#lg3)" transform="rotate(11 436.9 43.2)"/>
<ellipse cx="438.8" cy="46.5" rx="10.9" ry="5.9" fill="url(#lg3)" transform="rotate(23 438.8 46.5)"/>
<ellipse cx="429.9" cy="49.0" rx="10.8" ry="6.1" fill="url(#lg)" transform="rotate(64 429.9 49.0)"/>
<ellipse cx="422.1" cy="48.7" rx="10.9" ry="7.7" fill="url(#lg)" transform="rotate(117 422.1 48.7)"/>
<ellipse cx="415.6" cy="45.7" rx="11.3" ry="6.7" fill="url(#lg3)" transform="rotate(156 415.6 45.7)"/>
<ellipse cx="413.3" cy="42.7" rx="11.7" ry="7.5" fill="url(#lg2)" transform="rotate(172 413.3 42.7)"/>
<ellipse cx="414.8" cy="39.5" rx="11.2" ry="7.2" fill="url(#lg)" transform="rotate(-172 414.8 39.5)"/>
<ellipse cx="419.0" cy="35.4" rx="10.5" ry="7.7" fill="url(#lg)" transform="rotate(-141 419.0 35.4)"/>
<ellipse cx="426" cy="40.1" rx="13.8" ry="7.8" fill="url(#lg2)"/>
<ellipse cx="429.2" cy="40.1" rx="6.1" ry="2.8" fill="#50c8b4"/>
<ellipse cx="419.2" cy="38.4" rx="6.1" ry="2.8" fill="#40bca0"/>
<ellipse cx="432.3" cy="41.8" rx="6.1" ry="2.8" fill="#40bca0"/>
<ellipse cx="413.1" cy="32.8" rx="4.4" ry="1.7" fill="#74dccc" opacity="0.9"/>
<ellipse cx="440.2" cy="35.3" rx="4.4" ry="1.7" fill="#74dccc" opacity="0.9"/>
<ellipse cx="407" cy="66.1" rx="24.8" ry="17.6" fill="#06241a"/>
<ellipse cx="391.9" cy="64.0" rx="11.6" ry="9.5" fill="url(#lg)" transform="rotate(180 391.9 64.0)"/>
<ellipse cx="398.7" cy="59.4" rx="12.8" ry="9.0" fill="url(#lg)" transform="rotate(-151 398.7 59.4)"/>
<ellipse cx="400.0" cy="53.3" rx="12.9" ry="8.5" fill="url(#lg)" transform="rotate(-123 400.0 53.3)"/>
<ellipse cx="408.4" cy="56.0" rx="11.4" ry="9.3" fill="url(#lg)" transform="rotate(-80 408.4 56.0)"/>
<ellipse cx="412.7" cy="55.7" rx="11.7" ry="7.9" fill="url(#lg)" transform="rotate(-56 412.7 55.7)"/>
<ellipse cx="418.1" cy="57.3" rx="13.0" ry="8.5" fill="url(#lg2)" transform="rotate(-31 418.1 57.3)"/>
<ellipse cx="418.4" cy="65.9" rx="13.1" ry="8.4" fill="url(#lg)" transform="rotate(10 418.4 65.9)"/>
<ellipse cx="414.1" cy="70.1" rx="10.5" ry="9.0" fill="url(#lg2)" transform="rotate(41 414.1 70.1)"/>
<ellipse cx="410.0" cy="71.2" rx="10.0" ry="9.0" fill="url(#lg2)" transform="rotate(67 410.0 71.2)"/>
<ellipse cx="403.8" cy="74.0" rx="12.3" ry="9.2" fill="url(#lg3)" transform="rotate(108 403.8 74.0)"/>
<ellipse cx="396.4" cy="72.3" rx="12.3" ry="7.8" fill="url(#lg)" transform="rotate(142 396.4 72.3)"/>
<ellipse cx="392.5" cy="68.3" rx="10.0" ry="8.4" fill="url(#lg)" transform="rotate(164 392.5 68.3)"/>
<ellipse cx="407" cy="63.0" rx="13.8" ry="9.3" fill="url(#lg2)"/>
<ellipse cx="413.3" cy="62.2" rx="6.1" ry="3.3" fill="#50c8b4"/>
<ellipse cx="410.5" cy="58.3" rx="6.1" ry="3.3" fill="#50c8b4"/>
<ellipse cx="409.6" cy="57.0" rx="6.1" ry="3.3" fill="#34a888"/>
<ellipse cx="400.3" cy="61.1" rx="4.4" ry="2.1" fill="#74dccc" opacity="0.9"/>
<ellipse cx="412.3" cy="52.3" rx="4.4" ry="2.1" fill="#74dccc" opacity="0.9"/>
<ellipse cx="380" cy="74.7" rx="24.8" ry="14.7" fill="#06241a"/>
<ellipse cx="385.8" cy="79.2" rx="12.7" ry="7.3" fill="url(#lg)" transform="rotate(47 385.8 79.2)"/>
<ellipse cx="376.1" cy="79.9" rx="9.9" ry="6.7" fill="url(#lg)" transform="rotate(120 376.1 79.9)"/>
<ellipse cx="375.0" cy="79.3" rx="10.3" ry="6.6" fill="url(#lg3)" transform="rotate(128 375.0 79.3)"/>
<ellipse cx="368.7" cy="75.7" rx="13.0" ry="7.2" fill="url(#lg2)" transform="rotate(166 368.7 75.7)"/>
<ellipse cx="370.3" cy="73.1" rx="12.1" ry="7.2" fill="url(#lg2)" transform="rotate(179 370.3 73.1)"/>
<ellipse cx="369.7" cy="68.4" rx="10.0" ry="7.0" fill="url(#lg)" transform="rotate(-156 369.7 68.4)"/>
<ellipse cx="373.3" cy="66.7" rx="10.6" ry="6.8" fill="url(#lg)" transform="rotate(-137 373.3 66.7)"/>
<ellipse cx="383.5" cy="64.2" rx="12.3" ry="6.0" fill="url(#lg)" transform="rotate(-68 383.5 64.2)"/>
<ellipse cx="384.8" cy="67.0" rx="10.0" ry="5.9" fill="url(#lg)" transform="rotate(-51 384.8 67.0)"/>
<ellipse cx="391.8" cy="68.2" rx="10.4" ry="6.6" fill="url(#lg)" transform="rotate(-22 391.8 68.2)"/>
<ellipse cx="390.9" cy="74.2" rx="10.5" ry="6.8" fill="url(#lg)" transform="rotate(6 390.9 74.2)"/>
<ellipse cx="392.0" cy="77.1" rx="10.5" ry="6.2" fill="url(#lg)" transform="rotate(19 392.0 77.1)"/>
<ellipse cx="380" cy="72.1" rx="13.8" ry="7.8" fill="url(#lg2)"/>
<ellipse cx="378.5" cy="69.6" rx="6.1" ry="2.8" fill="#34a888"/>
<ellipse cx="380.1" cy="69.6" rx="6.1" ry="2.8" fill="#50c8b4"/>
<ellipse cx="376.8" cy="73.8" rx="6.1" ry="2.8" fill="#40bca0"/>
<ellipse cx="370.7" cy="65.5" rx="4.4" ry="1.7" fill="#74dccc" opacity="0.9"/>
<ellipse cx="365.2" cy="70.3" rx="4.4" ry="1.7" fill="#74dccc" opacity="0.9"/>
<ellipse cx="348" cy="97.3" rx="29.7" ry="19.6" fill="#06241a"/>
<ellipse cx="334.2" cy="89.8" rx="15.6" ry="8.2" fill="url(#lg)" transform="rotate(-159 334.2 89.8)"/>
<ellipse cx="341.8" cy="83.1" rx="15.5" ry="8.1" fill="url(#lg)" transform="rotate(-118 341.8 83.1)"/>
<ellipse cx="346.7" cy="85.4" rx="12.8" ry="10.6" fill="url(#lg)" transform="rotate(-98 346.7 85.4)"/>
<ellipse cx="359.2" cy="84.7" rx="12.6" ry="8.9" fill="url(#lg3)" transform="rotate(-43 359.2 84.7)"/>
<ellipse cx="359.6" cy="91.9" rx="15.8" ry="9.9" fill="url(#lg3)" transform="rotate(-15 359.6 91.9)"/>
<ellipse cx="364.6" cy="95.8" rx="14.2" ry="10.3" fill="url(#lg3)" transform="rotate(3 364.6 95.8)"/>
<ellipse cx="360.5" cy="103.9" rx="14.5" ry="10.5" fill="url(#lg2)" transform="rotate(36 360.5 103.9)"/>
<ellipse cx="356.9" cy="103.7" rx="12.2" ry="10.0" fill="url(#lg)" transform="rotate(44 356.9 103.7)"/>
<ellipse cx="348.1" cy="106.1" rx="12.7" ry="10.5" fill="url(#lg)" transform="rotate(89 348.1 106.1)"/>
<ellipse cx="342.3" cy="104.6" rx="15.3" ry="10.5" fill="url(#lg3)" transform="rotate(121 342.3 104.6)"/>
<ellipse cx="335.8" cy="101.5" rx="14.3" ry="9.3" fill="url(#lg3)" transform="rotate(152 335.8 101.5)"/>
<ellipse cx="332.3" cy="96.4" rx="13.2" ry="7.8" fill="url(#lg)" transform="rotate(175 332.3 96.4)"/>
<ellipse cx="348" cy="93.8" rx="16.5" ry="10.3" fill="url(#lg2)"/>
<ellipse cx="351.7" cy="92.7" rx="7.3" ry="3.7" fill="#34a888"/>
<ellipse cx="343.5" cy="96.1" rx="7.3" ry="3.7" fill="#34a888"/>
<ellipse cx="338.6" cy="90.9" rx="7.3" ry="3.7" fill="#40bca0"/>
<ellipse cx="358.9" cy="83.2" rx="5.3" ry="2.3" fill="#74dccc" opacity="0.9"/>
<ellipse cx="346.7" cy="86.7" rx="5.3" ry="2.3" fill="#74dccc" opacity="0.9"/>
<ellipse cx="317" cy="115.1" rx="24.8" ry="17.6" fill="#06241a"/>
<ellipse cx="309.5" cy="104.8" rx="10.7" ry="8.8" fill="url(#lg)" transform="rotate(-133 309.5 104.8)"/>
<ellipse cx="317.7" cy="102.8" rx="12.9" ry="8.7" fill="url(#lg2)" transform="rotate(-86 317.7 102.8)"/>
<ellipse cx="321.8" cy="103.6" rx="12.2" ry="8.1" fill="url(#lg2)" transform="rotate(-63 321.8 103.6)"/>
<ellipse cx="326.7" cy="109.3" rx="12.1" ry="7.9" fill="url(#lg)" transform="rotate(-21 326.7 109.3)"/>
<ellipse cx="332.5" cy="112.6" rx="10.4" ry="8.7" fill="url(#lg3)" transform="rotate(-1 332.5 112.6)"/>
<ellipse cx="327.4" cy="119.0" rx="12.7" ry="8.0" fill="url(#lg)" transform="rotate(30 327.4 119.0)"/>
<ellipse cx="326.0" cy="120.8" rx="11.5" ry="7.3" fill="url(#lg2)" transform="rotate(41 326.0 120.8)"/>
<ellipse cx="314.8" cy="120.8" rx="11.0" ry="7.3" fill="url(#lg3)" transform="rotate(106 314.8 120.8)"/>
<ellipse cx="308.7" cy="119.5" rx="12.0" ry="8.0" fill="url(#lg)" transform="rotate(142 308.7 119.5)"/>
<ellipse cx="305.1" cy="117.5" rx="12.7" ry="8.7" fill="url(#lg3)" transform="rotate(159 305.1 117.5)"/>
<ellipse cx="302.5" cy="113.8" rx="12.0" ry="8.2" fill="url(#lg)" transform="rotate(177 302.5 113.8)"/>
<ellipse cx="304.0" cy="107.3" rx="11.5" ry="9.3" fill="url(#lg2)" transform="rotate(-156 304.0 107.3)"/>
<ellipse cx="317" cy="112.0" rx="13.8" ry="9.3" fill="url(#lg2)"/>
<ellipse cx="317.2" cy="106.2" rx="6.1" ry="3.3" fill="#40bca0"/>
<ellipse cx="314.7" cy="108.8" rx="6.1" ry="3.3" fill="#40bca0"/>
<ellipse cx="325.1" cy="112.3" rx="6.1" ry="3.3" fill="#50c8b4"/>
<ellipse cx="304.1" cy="106.9" rx="4.4" ry="2.1" fill="#74dccc" opacity="0.9"/>
<ellipse cx="314.6" cy="103.5" rx="4.4" ry="2.1" fill="#74dccc" opacity="0.9"/>
<ellipse cx="285" cy="134.9" rx="34.6" ry="24.4" fill="#06241a"/>
<ellipse cx="306.4" cy="129.5" rx="17.0" ry="12.7" fill="url(#lg)" transform="rotate(-7 306.4 129.5)"/>
<ellipse cx="297.0" cy="137.2" rx="15.7" ry="10.0" fill="url(#lg2)" transform="rotate(23 297.0 137.2)"/>
<ellipse cx="298.3" cy="141.6" rx="14.3" ry="10.6" fill="url(#lg2)" transform="rotate(36 298.3 141.6)"/>
<ellipse cx="289.4" cy="143.6" rx="15.6" ry="12.8" fill="url(#lg2)" transform="rotate(69 289.4 143.6)"/>
<ellipse cx="279.9" cy="141.3" rx="14.6" ry="10.3" fill="url(#lg2)" transform="rotate(119 279.9 141.3)"/>
<ellipse cx="272.7" cy="145.0" rx="17.3" ry="10.0" fill="url(#lg2)" transform="rotate(133 272.7 145.0)"/>
<ellipse cx="268.9" cy="137.0" rx="16.7" ry="10.0" fill="url(#lg)" transform="rotate(163 268.9 137.0)"/>
<ellipse cx="270.5" cy="129.9" rx="17.5" ry="10.2" fill="url(#lg)" transform="rotate(-172 270.5 129.9)"/>
<ellipse cx="276.6" cy="121.5" rx="15.7" ry="13.0" fill="url(#lg2)" transform="rotate(-128 276.6 121.5)"/>
<ellipse cx="283.2" cy="116.0" rx="14.7" ry="11.5" fill="url(#lg3)" transform="rotate(-97 283.2 116.0)"/>
<ellipse cx="292.1" cy="121.9" rx="16.8" ry="10.0" fill="url(#lg2)" transform="rotate(-55 292.1 121.9)"/>
<ellipse cx="301.2" cy="124.6" rx="15.3" ry="12.3" fill="url(#lg)" transform="rotate(-25 301.2 124.6)"/>
<ellipse cx="285" cy="130.6" rx="19.2" ry="12.9" fill="url(#lg2)"/>
<ellipse cx="292.3" cy="124.7" rx="8.5" ry="4.6" fill="#34a888"/>
<ellipse cx="285.3" cy="128.2" rx="8.5" ry="4.6" fill="#50c8b4"/>
<ellipse cx="279.2" cy="128.3" rx="8.5" ry="4.6" fill="#50c8b4"/>
<ellipse cx="300.9" cy="123.3" rx="6.2" ry="2.9" fill="#74dccc" opacity="0.9"/>
<ellipse cx="274.9" cy="118.2" rx="6.2" ry="2.9" fill="#74dccc" opacity="0.9"/>
<ellipse cx="253" cy="165.3" rx="24.8" ry="19.6" fill="#06241a"/>
<ellipse cx="248.5" cy="150.5" rx="10.6" ry="8.0" fill="url(#lg)" transform="rotate(-110 248.5 150.5)"/>
<ellipse cx="252.0" cy="153.7" rx="11.3" ry="10.2" fill="url(#lg)" transform="rotate(-96 252.0 153.7)"/>
<ellipse cx="258.8" cy="154.2" rx="10.5" ry="10.5" fill="url(#lg2)" transform="rotate(-57 258.8 154.2)"/>
<ellipse cx="264.1" cy="155.8" rx="11.9" ry="9.5" fill="url(#lg)" transform="rotate(-33 264.1 155.8)"/>
<ellipse cx="266.7" cy="163.0" rx="11.1" ry="9.0" fill="url(#lg3)" transform="rotate(-0 266.7 163.0)"/>
<ellipse cx="263.4" cy="166.5" rx="11.4" ry="9.4" fill="url(#lg3)" transform="rotate(19 263.4 166.5)"/>
<ellipse cx="257.5" cy="174.0" rx="12.7" ry="8.9" fill="url(#lg)" transform="rotate(68 257.5 174.0)"/>
<ellipse cx="253.9" cy="172.7" rx="10.2" ry="10.0" fill="url(#lg3)" transform="rotate(85 253.9 172.7)"/>
<ellipse cx="245.1" cy="172.3" rx="12.2" ry="10.5" fill="url(#lg)" transform="rotate(130 245.1 172.3)"/>
<ellipse cx="240.0" cy="168.4" rx="11.5" ry="8.1" fill="url(#lg)" transform="rotate(157 240.0 168.4)"/>
<ellipse cx="240.4" cy="163.3" rx="10.6" ry="8.6" fill="url(#lg)" transform="rotate(179 240.4 163.3)"/>
<ellipse cx="244.3" cy="156.6" rx="11.5" ry="8.4" fill="url(#lg3)" transform="rotate(-144 244.3 156.6)"/>
<ellipse cx="253" cy="161.8" rx="13.8" ry="10.3" fill="url(#lg2)"/>
<ellipse cx="252.9" cy="155.1" rx="6.1" ry="3.7" fill="#50c8b4"/>
<ellipse cx="246.0" cy="162.2" rx="6.1" ry="3.7" fill="#34a888"/>
<ellipse cx="253.9" cy="157.2" rx="6.1" ry="3.7" fill="#50c8b4"/>
<ellipse cx="256.0" cy="152.9" rx="4.4" ry="2.3" fill="#74dccc" opacity="0.9"/>
<ellipse cx="238.9" cy="154.0" rx="4.4" ry="2.3" fill="#74dccc" opacity="0.9"/>
<ellipse cx="220" cy="187.5" rx="27.7" ry="21.5" fill="#06241a"/>
<ellipse cx="209.7" cy="191.9" rx="14.5" ry="11.2" fill="url(#lg)" transform="rotate(146 209.7 191.9)"/>
<ellipse cx="206.2" cy="192.5" rx="11.4" ry="10.3" fill="url(#lg)" transform="rotate(151 206.2 192.5)"/>
<ellipse cx="208.1" cy="183.7" rx="13.4" ry="9.5" fill="url(#lg3)" transform="rotate(-174 208.1 183.7)"/>
<ellipse cx="206.8" cy="176.1" rx="14.6" ry="10.9" fill="url(#lg)" transform="rotate(-146 206.8 176.1)"/>
<ellipse cx="213.5" cy="172.7" rx="13.6" ry="9.1" fill="url(#lg)" transform="rotate(-118 213.5 172.7)"/>
<ellipse cx="224.4" cy="172.3" rx="14.4" ry="10.4" fill="url(#lg)" transform="rotate(-71 224.4 172.3)"/>
<ellipse cx="225.1" cy="176.2" rx="11.3" ry="9.1" fill="url(#lg3)" transform="rotate(-60 225.1 176.2)"/>
<ellipse cx="229.8" cy="179.6" rx="11.7" ry="10.3" fill="url(#lg3)" transform="rotate(-29 229.8 179.6)"/>
<ellipse cx="233.1" cy="184.2" rx="12.6" ry="10.1" fill="url(#lg)" transform="rotate(-3 233.1 184.2)"/>
<ellipse cx="235.4" cy="191.0" rx="11.3" ry="9.4" fill="url(#lg2)" transform="rotate(21 235.4 191.0)"/>
<ellipse cx="226.2" cy="195.7" rx="11.8" ry="10.0" fill="url(#lg3)" transform="rotate(60 226.2 195.7)"/>
<ellipse cx="221.3" cy="196.5" rx="13.1" ry="10.4" fill="url(#lg)" transform="rotate(83 221.3 196.5)"/>
<ellipse cx="220" cy="183.7" rx="15.4" ry="11.4" fill="url(#lg2)"/>
<ellipse cx="210.8" cy="186.1" rx="6.8" ry="4.0" fill="#34a888"/>
<ellipse cx="217.8" cy="177.8" rx="6.8" ry="4.0" fill="#34a888"/>
<ellipse cx="228.8" cy="177.9" rx="6.8" ry="4.0" fill="#50c8b4"/>
<ellipse cx="234.8" cy="172.5" rx="4.9" ry="2.5" fill="#74dccc" opacity="0.9"/>
<ellipse cx="207.1" cy="171.9" rx="4.9" ry="2.5" fill="#74dccc" opacity="0.9"/>
<ellipse cx="190" cy="224.3" rx="29.7" ry="19.6" fill="#06241a"/>
<ellipse cx="188.5" cy="234.8" rx="13.8" ry="8.2" fill="url(#lg3)" transform="rotate(97 188.5 234.8)"/>
<ellipse cx="187.3" cy="231.4" rx="15.2" ry="9.3" fill="url(#lg3)" transform="rotate(106 187.3 231.4)"/>
<ellipse cx="178.3" cy="228.5" rx="13.7" ry="8.8" fill="url(#lg)" transform="rotate(151 178.3 228.5)"/>
<ellipse cx="171.4" cy="223.5" rx="15.3" ry="10.5" fill="url(#lg2)" transform="rotate(175 171.4 223.5)"/>
<ellipse cx="174.9" cy="219.5" rx="14.1" ry="10.4" fill="url(#lg)" transform="rotate(-171 174.9 219.5)"/>
<ellipse cx="182.8" cy="211.5" rx="12.8" ry="8.8" fill="url(#lg)" transform="rotate(-124 182.8 211.5)"/>
<ellipse cx="187.0" cy="212.2" rx="13.1" ry="8.2" fill="url(#lg)" transform="rotate(-107 187.0 212.2)"/>
<ellipse cx="194.1" cy="213.4" rx="13.2" ry="9.0" fill="url(#lg2)" transform="rotate(-64 194.1 213.4)"/>
<ellipse cx="202.4" cy="213.1" rx="15.6" ry="8.4" fill="url(#lg)" transform="rotate(-36 202.4 213.1)"/>
<ellipse cx="207.0" cy="219.5" rx="14.8" ry="8.7" fill="url(#lg)" transform="rotate(-8 207.0 219.5)"/>
<ellipse cx="201.3" cy="225.3" rx="12.3" ry="10.5" fill="url(#lg)" transform="rotate(16 201.3 225.3)"/>
<ellipse cx="196.7" cy="232.2" rx="15.7" ry="10.4" fill="url(#lg2)" transform="rotate(56 196.7 232.2)"/>
<ellipse cx="190" cy="220.8" rx="16.5" ry="10.3" fill="url(#lg2)"/>
<ellipse cx="197.0" cy="217.0" rx="7.3" ry="3.7" fill="#40bca0"/>
<ellipse cx="182.5" cy="216.7" rx="7.3" ry="3.7" fill="#50c8b4"/>
<ellipse cx="181.6" cy="219.4" rx="7.3" ry="3.7" fill="#50c8b4"/>
<ellipse cx="179.2" cy="218.5" rx="5.3" ry="2.3" fill="#74dccc" opacity="0.9"/>
<ellipse cx="203.3" cy="214.1" rx="5.3" ry="2.3" fill="#74dccc" opacity="0.9"/>
<ellipse cx="134" cy="248.2" rx="41.6" ry="27.4" fill="#06241a"/>
<ellipse cx="152.9" cy="247.8" rx="19.0" ry="14.6" fill="url(#lg)" transform="rotate(8 152.9 247.8)"/>
<ellipse cx="149.2" cy="252.7" rx="20.7" ry="12.3" fill="url(#lg2)" transform="rotate(27 149.2 252.7)"/>
<ellipse cx="139.0" cy="261.7" rx="18.3" ry="12.0" fill="url(#lg3)" transform="rotate(73 139.0 261.7)"/>
<ellipse cx="128.1" cy="259.9" rx="18.2" ry="11.0" fill="url(#lg)" transform="rotate(111 128.1 259.9)"/>
<ellipse cx="119.3" cy="255.8" rx="18.7" ry="12.0" fill="url(#lg)" transform="rotate(144 119.3 255.8)"/>
<ellipse cx="112.2" cy="252.4" rx="17.5" ry="11.9" fill="url(#lg)" transform="rotate(161 112.2 252.4)"/>
<ellipse cx="111.6" cy="239.0" rx="16.8" ry="11.0" fill="url(#lg2)" transform="rotate(-165 111.6 239.0)"/>
<ellipse cx="119.8" cy="238.2" rx="21.0" ry="13.1" fill="url(#lg)" transform="rotate(-154 119.8 238.2)"/>
<ellipse cx="126.0" cy="232.0" rx="18.1" ry="12.5" fill="url(#lg2)" transform="rotate(-122 126.0 232.0)"/>
<ellipse cx="142.3" cy="231.5" rx="19.6" ry="13.2" fill="url(#lg)" transform="rotate(-58 142.3 231.5)"/>
<ellipse cx="155.1" cy="235.7" rx="19.6" ry="13.1" fill="url(#lg)" transform="rotate(-24 155.1 235.7)"/>
<ellipse cx="151.4" cy="243.1" rx="16.7" ry="13.2" fill="url(#lg3)" transform="rotate(-6 151.4 243.1)"/>
<ellipse cx="134" cy="243.4" rx="23.1" ry="14.5" fill="url(#lg2)"/>
<ellipse cx="124.1" cy="243.4" rx="10.2" ry="5.2" fill="#50c8b4"/>
<ellipse cx="123.3" cy="241.9" rx="10.2" ry="5.2" fill="#50c8b4"/>
<ellipse cx="120.3" cy="236.6" rx="10.2" ry="5.2" fill="#34a888"/>
<ellipse cx="127.8" cy="236.8" rx="7.4" ry="3.2" fill="#74dccc" opacity="0.9"/>
<ellipse cx="148.1" cy="241.1" rx="7.4" ry="3.2" fill="#74dccc" opacity="0.9"/>
<ellipse cx="82" cy="292.0" rx="44.6" ry="34.2" fill="#06241a"/>
<ellipse cx="58.8" cy="300.6" rx="21.3" ry="17.1" fill="url(#lg)" transform="rotate(151 58.8 300.6)"/>
<ellipse cx="60.1" cy="293.1" rx="19.8" ry="14.2" fill="url(#lg)" transform="rotate(167 60.1 293.1)"/>
<ellipse cx="67.6" cy="278.3" rx="20.5" ry="15.0" fill="url(#lg)" transform="rotate(-146 67.6 278.3)"/>
<ellipse cx="67.5" cy="274.8" rx="20.9" ry="16.2" fill="url(#lg2)" transform="rotate(-138 67.5 274.8)"/>
<ellipse cx="82.0" cy="265.2" rx="23.4" ry="18.1" fill="url(#lg2)" transform="rotate(-90 82.0 265.2)"/>
<ellipse cx="92.7" cy="274.7" rx="23.2" ry="16.0" fill="url(#lg3)" transform="rotate(-51 92.7 274.7)"/>
<ellipse cx="100.2" cy="280.0" rx="21.7" ry="14.3" fill="url(#lg2)" transform="rotate(-24 100.2 280.0)"/>
<ellipse cx="109.6" cy="292.5" rx="23.4" ry="16.9" fill="url(#lg)" transform="rotate(9 109.6 292.5)"/>
<ellipse cx="106.7" cy="295.3" rx="23.2" ry="15.0" fill="url(#lg)" transform="rotate(16 106.7 295.3)"/>
<ellipse cx="93.5" cy="301.8" rx="23.2" ry="16.5" fill="url(#lg2)" transform="rotate(50 93.5 301.8)"/>
<ellipse cx="80.0" cy="309.1" rx="20.8" ry="15.0" fill="url(#lg3)" transform="rotate(95 80.0 309.1)"/>
<ellipse cx="71.4" cy="300.7" rx="19.3" ry="18.3" fill="url(#lg2)" transform="rotate(130 71.4 300.7)"/>
<ellipse cx="82" cy="286.0" rx="24.8" ry="18.1" fill="url(#lg2)"/>
<ellipse cx="73.9" cy="289.4" rx="10.9" ry="6.4" fill="#40bca0"/>
<ellipse cx="94.6" cy="287.5" rx="10.9" ry="6.4" fill="#34a888"/>
<ellipse cx="91.5" cy="283.0" rx="10.9" ry="6.4" fill="#40bca0"/>
<ellipse cx="102.8" cy="282.7" rx="7.9" ry="4.0" fill="#74dccc" opacity="0.9"/>
<ellipse cx="95.3" cy="265.0" rx="7.9" ry="4.0" fill="#74dccc" opacity="0.9"/>
<ellipse cx="32" cy="336.4" rx="39.6" ry="29.3" fill="#06241a"/>
<ellipse cx="13.9" cy="344.1" rx="16.1" ry="14.2" fill="url(#lg)" transform="rotate(148 13.9 344.1)"/>
<ellipse cx="14.6" cy="332.6" rx="17.5" ry="13.5" fill="url(#lg)" transform="rotate(-179 14.6 332.6)"/>
<ellipse cx="17.5" cy="327.6" rx="20.6" ry="14.7" fill="url(#lg)" transform="rotate(-160 17.5 327.6)"/>
<ellipse cx="20.9" cy="322.4" rx="18.2" ry="14.5" fill="url(#lg)" transform="rotate(-137 20.9 322.4)"/>
<ellipse cx="24.0" cy="314.1" rx="20.7" ry="15.2" fill="url(#lg2)" transform="rotate(-113 24.0 314.1)"/>
<ellipse cx="36.6" cy="318.1" rx="19.5" ry="15.5" fill="url(#lg)" transform="rotate(-73 36.6 318.1)"/>
<ellipse cx="50.8" cy="323.2" rx="16.8" ry="13.0" fill="url(#lg2)" transform="rotate(-28 50.8 323.2)"/>
<ellipse cx="50.4" cy="329.8" rx="16.2" ry="14.5" fill="url(#lg)" transform="rotate(-10 50.4 329.8)"/>
<ellipse cx="49.9" cy="341.6" rx="16.1" ry="13.7" fill="url(#lg)" transform="rotate(26 49.9 341.6)"/>
<ellipse cx="44.4" cy="350.1" rx="20.1" ry="15.8" fill="url(#lg)" transform="rotate(54 44.4 350.1)"/>
<ellipse cx="32.2" cy="349.8" rx="19.0" ry="12.4" fill="url(#lg3)" transform="rotate(89 32.2 349.8)"/>
<ellipse cx="27.3" cy="344.5" rx="20.2" ry="14.3" fill="url(#lg)" transform="rotate(112 27.3 344.5)"/>
<ellipse cx="32" cy="331.3" rx="22.0" ry="15.5" fill="url(#lg2)"/>
<ellipse cx="34.5" cy="332.7" rx="9.7" ry="5.5" fill="#34a888"/>
<ellipse cx="45.0" cy="327.3" rx="9.7" ry="5.5" fill="#34a888"/>
<ellipse cx="29.3" cy="321.1" rx="9.7" ry="5.5" fill="#50c8b4"/>
<ellipse cx="52.2" cy="313.3" rx="7.0" ry="3.5" fill="#74dccc" opacity="0.9"/>
<ellipse cx="35.4" cy="317.8" rx="7.0" ry="3.5" fill="#74dccc" opacity="0.9"/>
<ellipse cx="9" cy="368.4" rx="24.8" ry="29.3" fill="#06241a"/>
<ellipse cx="20.0" cy="374.3" rx="12.4" ry="14.8" fill="url(#lg)" transform="rotate(40 20.0 374.3)"/>
<ellipse cx="15.9" cy="377.8" rx="12.5" ry="13.1" fill="url(#lg2)" transform="rotate(62 15.9 377.8)"/>
<ellipse cx="9.9" cy="379.4" rx="11.0" ry="13.9" fill="url(#lg)" transform="rotate(86 9.9 379.4)"/>
<ellipse cx="2.5" cy="376.8" rx="11.5" ry="13.9" fill="url(#lg3)" transform="rotate(119 2.5 376.8)"/>
<ellipse cx="-1.2" cy="372.7" rx="11.2" ry="15.4" fill="url(#lg2)" transform="rotate(143 -1.2 372.7)"/>
<ellipse cx="-5.3" cy="363.8" rx="10.1" ry="12.3" fill="url(#lg)" transform="rotate(-175 -5.3 363.8)"/>
<ellipse cx="-4.3" cy="354.2" rx="12.5" ry="12.4" fill="url(#lg)" transform="rotate(-141 -4.3 354.2)"/>
<ellipse cx="1.6" cy="350.9" rx="10.3" ry="15.7" fill="url(#lg3)" transform="rotate(-118 1.6 350.9)"/>
<ellipse cx="4.9" cy="350.3" rx="12.6" ry="14.8" fill="url(#lg)" transform="rotate(-106 4.9 350.3)"/>
<ellipse cx="12.1" cy="351.8" rx="10.9" ry="14.2" fill="url(#lg3)" transform="rotate(-77 12.1 351.8)"/>
<ellipse cx="23.1" cy="356.1" rx="11.8" ry="12.6" fill="url(#lg3)" transform="rotate(-32 23.1 356.1)"/>
<ellipse cx="20.8" cy="366.2" rx="11.9" ry="15.1" fill="url(#lg)" transform="rotate(6 20.8 366.2)"/>
<ellipse cx="9" cy="363.3" rx="13.8" ry="15.5" fill="url(#lg2)"/>
<ellipse cx="2.4" cy="366.0" rx="6.1" ry="5.5" fill="#40bca0"/>
<ellipse cx="4.4" cy="362.9" rx="6.1" ry="5.5" fill="#34a888"/>
<ellipse cx="0.8" cy="363.9" rx="6.1" ry="5.5" fill="#40bca0"/>
<ellipse cx="19.4" cy="357.6" rx="4.4" ry="3.5" fill="#74dccc" opacity="0.9"/>
<ellipse cx="16.1" cy="359.1" rx="4.4" ry="3.5" fill="#74dccc" opacity="0.9"/>
<ellipse cx="448" cy="93.3" rx="14.8" ry="19.6" fill="#06241a"/>
<ellipse cx="441.2" cy="91.5" rx="7.2" ry="7.8" fill="url(#lg)" transform="rotate(175 441.2 91.5)"/>
<ellipse cx="442.8" cy="86.2" rx="7.4" ry="9.8" fill="url(#lg3)" transform="rotate(-137 442.8 86.2)"/>
<ellipse cx="444.1" cy="79.7" rx="6.2" ry="9.2" fill="url(#lg3)" transform="rotate(-109 444.1 79.7)"/>
<ellipse cx="449.3" cy="79.4" rx="6.5" ry="8.1" fill="url(#lg)" transform="rotate(-84 449.3 79.4)"/>
<ellipse cx="450.7" cy="82.8" rx="5.9" ry="10.5" fill="url(#lg)" transform="rotate(-72 450.7 82.8)"/>
<ellipse cx="452.6" cy="84.8" rx="6.0" ry="9.5" fill="url(#lg)" transform="rotate(-54 452.6 84.8)"/>
<ellipse cx="454.8" cy="92.9" rx="6.4" ry="8.4" fill="url(#lg2)" transform="rotate(16 454.8 92.9)"/>
<ellipse cx="453.0" cy="96.5" rx="7.1" ry="9.0" fill="url(#lg3)" transform="rotate(48 453.0 96.5)"/>
<ellipse cx="451.9" cy="98.2" rx="6.8" ry="9.1" fill="url(#lg3)" transform="rotate(61 451.9 98.2)"/>
<ellipse cx="447.8" cy="103.7" rx="6.0" ry="9.8" fill="url(#lg2)" transform="rotate(91 447.8 103.7)"/>
<ellipse cx="444.5" cy="102.5" rx="7.5" ry="8.4" fill="url(#lg3)" transform="rotate(107 444.5 102.5)"/>
<ellipse cx="440.9" cy="99.7" rx="7.8" ry="10.4" fill="url(#lg)" transform="rotate(129 440.9 99.7)"/>
<ellipse cx="448" cy="89.8" rx="8.2" ry="10.3" fill="url(#lg2)"/>
<ellipse cx="443.6" cy="86.3" rx="3.6" ry="3.7" fill="#40bca0"/>
<ellipse cx="443.7" cy="85.7" rx="3.6" ry="3.7" fill="#40bca0"/>
<ellipse cx="443.1" cy="91.4" rx="3.6" ry="3.7" fill="#40bca0"/>
<ellipse cx="454.7" cy="77.7" rx="2.6" ry="2.3" fill="#74dccc" opacity="0.9"/>
<ellipse cx="456.1" cy="79.9" rx="2.6" ry="2.3" fill="#74dccc" opacity="0.9"/>
<ellipse cx="435" cy="115.1" rx="24.8" ry="17.6" fill="#06241a"/>
<ellipse cx="440.8" cy="105.2" rx="10.9" ry="7.3" fill="url(#lg)" transform="rotate(-54 440.8 105.2)"/>
<ellipse cx="445.9" cy="110.9" rx="12.6" ry="7.6" fill="url(#lg)" transform="rotate(-11 445.9 110.9)"/>
<ellipse cx="445.9" cy="115.4" rx="11.7" ry="8.0" fill="url(#lg2)" transform="rotate(12 445.9 115.4)"/>
<ellipse cx="446.4" cy="121.0" rx="12.2" ry="7.6" fill="url(#lg2)" transform="rotate(35 446.4 121.0)"/>
<ellipse cx="443.3" cy="122.4" rx="10.6" ry="9.5" fill="url(#lg3)" transform="rotate(48 443.3 122.4)"/>
<ellipse cx="434.2" cy="120.5" rx="10.3" ry="9.4" fill="url(#lg)" transform="rotate(96 434.2 120.5)"/>
<ellipse cx="426.0" cy="119.1" rx="13.1" ry="7.5" fill="url(#lg)" transform="rotate(146 426.0 119.1)"/>
<ellipse cx="424.2" cy="114.5" rx="9.9" ry="7.4" fill="url(#lg)" transform="rotate(172 424.2 114.5)"/>
<ellipse cx="420.0" cy="112.5" rx="12.6" ry="8.1" fill="url(#lg)" transform="rotate(-178 420.0 112.5)"/>
<ellipse cx="425.6" cy="109.5" rx="11.9" ry="8.6" fill="url(#lg2)" transform="rotate(-159 425.6 109.5)"/>
<ellipse cx="430.6" cy="104.2" rx="11.2" ry="8.3" fill="url(#lg2)" transform="rotate(-117 430.6 104.2)"/>
<ellipse cx="438.1" cy="102.2" rx="11.5" ry="9.3" fill="url(#lg)" transform="rotate(-74 438.1 102.2)"/>
<ellipse cx="435" cy="112.0" rx="13.8" ry="9.3" fill="url(#lg2)"/>
<ellipse cx="440.4" cy="112.4" rx="6.1" ry="3.3" fill="#40bca0"/>
<ellipse cx="432.0" cy="107.4" rx="6.1" ry="3.3" fill="#50c8b4"/>
<ellipse cx="439.4" cy="109.7" rx="6.1" ry="3.3" fill="#40bca0"/>
<ellipse cx="428.6" cy="105.0" rx="4.4" ry="2.1" fill="#74dccc" opacity="0.9"/>
<ellipse cx="446.1" cy="110.6" rx="4.4" ry="2.1" fill="#74dccc" opacity="0.9"/>
<ellipse cx="417" cy="134.1" rx="29.7" ry="17.6" fill="#06241a"/>
<ellipse cx="421.3" cy="120.7" rx="13.0" ry="8.6" fill="url(#lg)" transform="rotate(-69 421.3 120.7)"/>
<ellipse cx="430.2" cy="124.1" rx="14.1" ry="8.6" fill="url(#lg)" transform="rotate(-31 430.2 124.1)"/>
<ellipse cx="433.3" cy="125.7" rx="14.9" ry="8.2" fill="url(#lg2)" transform="rotate(-21 433.3 125.7)"/>
<ellipse cx="434.8" cy="133.8" rx="13.7" ry="8.1" fill="url(#lg)" transform="rotate(6 434.8 133.8)"/>
<ellipse cx="425.8" cy="137.5" rx="14.3" ry="9.1" fill="url(#lg)" transform="rotate(32 425.8 137.5)"/>
<ellipse cx="421.6" cy="139.4" rx="13.9" ry="8.7" fill="url(#lg)" transform="rotate(58 421.6 139.4)"/>
<ellipse cx="419.5" cy="143.1" rx="14.3" ry="9.2" fill="url(#lg2)" transform="rotate(77 419.5 143.1)"/>
<ellipse cx="404.7" cy="140.7" rx="14.3" ry="9.4" fill="url(#lg)" transform="rotate(145 404.7 140.7)"/>
<ellipse cx="406.3" cy="137.9" rx="12.3" ry="8.9" fill="url(#lg2)" transform="rotate(151 406.3 137.9)"/>
<ellipse cx="403.5" cy="131.3" rx="12.1" ry="8.4" fill="url(#lg)" transform="rotate(-177 403.5 131.3)"/>
<ellipse cx="405.6" cy="125.5" rx="13.7" ry="7.6" fill="url(#lg)" transform="rotate(-150 405.6 125.5)"/>
<ellipse cx="405.4" cy="123.7" rx="15.3" ry="7.4" fill="url(#lg)" transform="rotate(-144 405.4 123.7)"/>
<ellipse cx="417" cy="131.0" rx="16.5" ry="9.3" fill="url(#lg2)"/>
<ellipse cx="414.0" cy="127.6" rx="7.3" ry="3.3" fill="#40bca0"/>
<ellipse cx="419.3" cy="132.3" rx="7.3" ry="3.3" fill="#34a888"/>
<ellipse cx="417.6" cy="130.8" rx="7.3" ry="3.3" fill="#34a888"/>
<ellipse cx="409.4" cy="127.4" rx="5.3" ry="2.1" fill="#74dccc" opacity="0.9"/>
<ellipse cx="408.2" cy="128.6" rx="5.3" ry="2.1" fill="#74dccc" opacity="0.9"/>
<ellipse cx="403" cy="151.7" rx="24.8" ry="14.7" fill="#06241a"/>
<ellipse cx="400.0" cy="142.8" rx="13.0" ry="7.1" fill="url(#lg3)" transform="rotate(-113 400.0 142.8)"/>
<ellipse cx="405.1" cy="144.0" rx="12.3" ry="7.5" fill="url(#lg2)" transform="rotate(-70 405.1 144.0)"/>
<ellipse cx="407.6" cy="144.3" rx="12.5" ry="6.2" fill="url(#lg)" transform="rotate(-51 407.6 144.3)"/>
<ellipse cx="413.1" cy="146.0" rx="13.0" ry="7.6" fill="url(#lg2)" transform="rotate(-22 413.1 146.0)"/>
<ellipse cx="418.4" cy="151.2" rx="12.0" ry="7.1" fill="url(#lg3)" transform="rotate(4 418.4 151.2)"/>
<ellipse cx="415.4" cy="153.2" rx="10.8" ry="7.9" fill="url(#lg)" transform="rotate(15 415.4 153.2)"/>
<ellipse cx="406.8" cy="158.6" rx="10.6" ry="5.9" fill="url(#lg3)" transform="rotate(66 406.8 158.6)"/>
<ellipse cx="404.3" cy="156.5" rx="12.6" ry="6.5" fill="url(#lg)" transform="rotate(79 404.3 156.5)"/>
<ellipse cx="394.7" cy="156.4" rx="11.7" ry="6.4" fill="url(#lg)" transform="rotate(142 394.7 156.4)"/>
<ellipse cx="392.4" cy="152.9" rx="10.3" ry="7.8" fill="url(#lg)" transform="rotate(165 392.4 152.9)"/>
<ellipse cx="390.2" cy="149.1" rx="11.4" ry="6.2" fill="url(#lg)" transform="rotate(-176 390.2 149.1)"/>
<ellipse cx="392.3" cy="144.4" rx="12.6" ry="5.9" fill="url(#lg)" transform="rotate(-153 392.3 144.4)"/>
<ellipse cx="403" cy="149.1" rx="13.8" ry="7.8" fill="url(#lg2)"/>
<ellipse cx="397.7" cy="148.9" rx="6.1" ry="2.8" fill="#34a888"/>
<ellipse cx="405.4" cy="148.1" rx="6.1" ry="2.8" fill="#34a888"/>
<ellipse cx="407.7" cy="147.2" rx="6.1" ry="2.8" fill="#40bca0"/>
<ellipse cx="396.8" cy="143.7" rx="4.4" ry="1.7" fill="#74dccc" opacity="0.9"/>
<ellipse cx="408.7" cy="141.5" rx="4.4" ry="1.7" fill="#74dccc" opacity="0.9"/>
<ellipse cx="376" cy="179.9" rx="34.6" ry="24.4" fill="#06241a"/>
<ellipse cx="374.6" cy="160.5" rx="16.7" ry="11.7" fill="url(#lg2)" transform="rotate(-95 374.6 160.5)"/>
<ellipse cx="381.1" cy="165.1" rx="15.9" ry="12.3" fill="url(#lg2)" transform="rotate(-67 381.1 165.1)"/>
<ellipse cx="387.3" cy="169.9" rx="16.2" ry="11.6" fill="url(#lg3)" transform="rotate(-32 387.3 169.9)"/>
<ellipse cx="392.9" cy="176.4" rx="14.3" ry="9.8" fill="url(#lg2)" transform="rotate(-2 392.9 176.4)"/>
<ellipse cx="390.7" cy="183.9" rx="17.3" ry="11.9" fill="url(#lg3)" transform="rotate(25 390.7 183.9)"/>
<ellipse cx="385.6" cy="188.8" rx="14.3" ry="12.1" fill="url(#lg)" transform="rotate(51 385.6 188.8)"/>
<ellipse cx="379.1" cy="193.3" rx="16.1" ry="10.3" fill="url(#lg3)" transform="rotate(79 379.1 193.3)"/>
<ellipse cx="371.7" cy="186.7" rx="14.6" ry="12.6" fill="url(#lg2)" transform="rotate(114 371.7 186.7)"/>
<ellipse cx="363.4" cy="186.6" rx="18.5" ry="10.1" fill="url(#lg)" transform="rotate(143 363.4 186.6)"/>
<ellipse cx="355.2" cy="182.7" rx="18.1" ry="11.3" fill="url(#lg)" transform="rotate(165 355.2 182.7)"/>
<ellipse cx="359.3" cy="167.5" rx="15.6" ry="10.8" fill="url(#lg)" transform="rotate(-150 359.3 167.5)"/>
<ellipse cx="364.0" cy="163.1" rx="17.6" ry="9.8" fill="url(#lg)" transform="rotate(-131 364.0 163.1)"/>
<ellipse cx="376" cy="175.6" rx="19.2" ry="12.9" fill="url(#lg2)"/>
<ellipse cx="371.9" cy="177.9" rx="8.5" ry="4.6" fill="#34a888"/>
<ellipse cx="380.2" cy="170.9" rx="8.5" ry="4.6" fill="#34a888"/>
<ellipse cx="384.5" cy="167.5" rx="8.5" ry="4.6" fill="#34a888"/>
<ellipse cx="364.9" cy="164.7" rx="6.2" ry="2.9" fill="#74dccc" opacity="0.9"/>
<ellipse cx="375.7" cy="166.1" rx="6.2" ry="2.9" fill="#74dccc" opacity="0.9"/>
<ellipse cx="339" cy="202.3" rx="29.7" ry="19.6" fill="#06241a"/>
<ellipse cx="344.5" cy="209.1" rx="15.4" ry="9.1" fill="url(#lg)" transform="rotate(59 344.5 209.1)"/>
<ellipse cx="333.0" cy="212.3" rx="12.6" ry="9.5" fill="url(#lg3)" transform="rotate(116 333.0 212.3)"/>
<ellipse cx="329.2" cy="207.8" rx="15.8" ry="9.2" fill="url(#lg3)" transform="rotate(141 329.2 207.8)"/>
<ellipse cx="323.1" cy="202.3" rx="13.4" ry="10.6" fill="url(#lg)" transform="rotate(172 323.1 202.3)"/>
<ellipse cx="323.4" cy="197.6" rx="14.0" ry="9.3" fill="url(#lg2)" transform="rotate(-171 323.4 197.6)"/>
<ellipse cx="329.9" cy="189.8" rx="12.2" ry="10.5" fill="url(#lg)" transform="rotate(-132 329.9 189.8)"/>
<ellipse cx="334.5" cy="187.7" rx="15.5" ry="10.5" fill="url(#lg2)" transform="rotate(-110 334.5 187.7)"/>
<ellipse cx="344.7" cy="192.4" rx="13.7" ry="10.5" fill="url(#lg3)" transform="rotate(-53 344.7 192.4)"/>
<ellipse cx="345.2" cy="192.9" rx="13.1" ry="9.2" fill="url(#lg2)" transform="rotate(-49 345.2 192.9)"/>
<ellipse cx="357.0" cy="197.3" rx="14.5" ry="8.5" fill="url(#lg3)" transform="rotate(-9 357.0 197.3)"/>
<ellipse cx="355.7" cy="202.3" rx="13.5" ry="9.0" fill="url(#lg2)" transform="rotate(8 355.7 202.3)"/>
<ellipse cx="351.3" cy="206.3" rx="15.1" ry="8.6" fill="url(#lg)" transform="rotate(27 351.3 206.3)"/>
<ellipse cx="339" cy="198.8" rx="16.5" ry="10.3" fill="url(#lg2)"/>
<ellipse cx="330.9" cy="194.2" rx="7.3" ry="3.7" fill="#40bca0"/>
<ellipse cx="335.7" cy="195.6" rx="7.3" ry="3.7" fill="#40bca0"/>
<ellipse cx="333.6" cy="198.3" rx="7.3" ry="3.7" fill="#34a888"/>
<ellipse cx="330.4" cy="196.3" rx="5.3" ry="2.3" fill="#74dccc" opacity="0.9"/>
<ellipse cx="322.0" cy="189.0" rx="5.3" ry="2.3" fill="#74dccc" opacity="0.9"/>
<ellipse cx="304" cy="237.5" rx="39.6" ry="21.5" fill="#06241a"/>
<ellipse cx="283.0" cy="238.3" rx="17.2" ry="10.9" fill="url(#lg)" transform="rotate(171 283.0 238.3)"/>
<ellipse cx="290.3" cy="229.7" rx="16.1" ry="8.7" fill="url(#lg3)" transform="rotate(-159 290.3 229.7)"/>
<ellipse cx="294.0" cy="224.2" rx="17.6" ry="10.0" fill="url(#lg2)" transform="rotate(-133 294.0 224.2)"/>
<ellipse cx="301.1" cy="223.1" rx="19.6" ry="11.1" fill="url(#lg2)" transform="rotate(-104 301.1 223.1)"/>
<ellipse cx="308.0" cy="221.6" rx="20.4" ry="8.9" fill="url(#lg2)" transform="rotate(-73 308.0 221.6)"/>
<ellipse cx="318.8" cy="226.4" rx="17.3" ry="11.5" fill="url(#lg)" transform="rotate(-30 318.8 226.4)"/>
<ellipse cx="326.7" cy="236.3" rx="19.4" ry="9.4" fill="url(#lg)" transform="rotate(3 326.7 236.3)"/>
<ellipse cx="321.9" cy="239.4" rx="16.5" ry="10.6" fill="url(#lg3)" transform="rotate(14 321.9 239.4)"/>
<ellipse cx="313.6" cy="244.2" rx="18.6" ry="9.7" fill="url(#lg)" transform="rotate(44 313.6 244.2)"/>
<ellipse cx="308.8" cy="245.6" rx="20.0" ry="9.5" fill="url(#lg2)" transform="rotate(66 308.8 245.6)"/>
<ellipse cx="295.9" cy="246.3" rx="20.5" ry="8.7" fill="url(#lg3)" transform="rotate(126 295.9 246.3)"/>
<ellipse cx="287.6" cy="241.3" rx="19.5" ry="9.9" fill="url(#lg3)" transform="rotate(159 287.6 241.3)"/>
<ellipse cx="304" cy="233.7" rx="22.0" ry="11.4" fill="url(#lg2)"/>
<ellipse cx="305.3" cy="227.2" rx="9.7" ry="4.0" fill="#50c8b4"/>
<ellipse cx="306.8" cy="233.8" rx="9.7" ry="4.0" fill="#50c8b4"/>
<ellipse cx="315.8" cy="231.0" rx="9.7" ry="4.0" fill="#34a888"/>
<ellipse cx="297.0" cy="227.1" rx="7.0" ry="2.5" fill="#74dccc" opacity="0.9"/>
<ellipse cx="323.5" cy="224.8" rx="7.0" ry="2.5" fill="#74dccc" opacity="0.9"/>
<ellipse cx="262" cy="282.4" rx="39.6" ry="29.3" fill="#06241a"/>
<ellipse cx="273.1" cy="269.1" rx="18.8" ry="13.0" fill="url(#lg)" transform="rotate(-42 273.1 269.1)"/>
<ellipse cx="281.4" cy="274.0" rx="16.7" ry="14.0" fill="url(#lg)" transform="rotate(-14 281.4 274.0)"/>
<ellipse cx="279.6" cy="277.0" rx="20.0" ry="14.9" fill="url(#lg2)" transform="rotate(-6 279.6 277.0)"/>
<ellipse cx="275.0" cy="285.7" rx="18.8" ry="12.5" fill="url(#lg2)" transform="rotate(27 275.0 285.7)"/>
<ellipse cx="274.8" cy="294.1" rx="17.4" ry="15.0" fill="url(#lg)" transform="rotate(50 274.8 294.1)"/>
<ellipse cx="260.8" cy="296.1" rx="18.8" ry="14.4" fill="url(#lg)" transform="rotate(94 260.8 296.1)"/>
<ellipse cx="249.0" cy="294.6" rx="17.8" ry="12.6" fill="url(#lg)" transform="rotate(130 249.0 294.6)"/>
<ellipse cx="239.7" cy="284.1" rx="19.5" ry="14.0" fill="url(#lg2)" transform="rotate(167 239.7 284.1)"/>
<ellipse cx="246.0" cy="277.5" rx="17.4" ry="14.4" fill="url(#lg2)" transform="rotate(-175 246.0 277.5)"/>
<ellipse cx="244.5" cy="269.1" rx="18.1" ry="12.7" fill="url(#lg3)" transform="rotate(-151 244.5 269.1)"/>
<ellipse cx="258.2" cy="267.2" rx="16.6" ry="13.7" fill="url(#lg)" transform="rotate(-108 258.2 267.2)"/>
<ellipse cx="259.0" cy="262.5" rx="20.6" ry="11.8" fill="url(#lg)" transform="rotate(-100 259.0 262.5)"/>
<ellipse cx="262" cy="277.3" rx="22.0" ry="15.5" fill="url(#lg2)"/>
<ellipse cx="260.6" cy="273.1" rx="9.7" ry="5.5" fill="#34a888"/>
<ellipse cx="256.3" cy="269.8" rx="9.7" ry="5.5" fill="#50c8b4"/>
<ellipse cx="259.8" cy="274.6" rx="9.7" ry="5.5" fill="#34a888"/>
<ellipse cx="258.6" cy="263.1" rx="7.0" ry="3.5" fill="#74dccc" opacity="0.9"/>
<ellipse cx="277.0" cy="269.6" rx="7.0" ry="3.5" fill="#74dccc" opacity="0.9"/>
<ellipse cx="245" cy="324.0" rx="39.6" ry="34.2" fill="#06241a"/>
<ellipse cx="230.0" cy="314.5" rx="21.1" ry="14.1" fill="url(#lg3)" transform="rotate(-160 230.0 314.5)"/>
<ellipse cx="231.5" cy="304.1" rx="16.7" ry="18.2" fill="url(#lg3)" transform="rotate(-130 231.5 304.1)"/>
<ellipse cx="243.6" cy="299.7" rx="20.2" ry="17.7" fill="url(#lg2)" transform="rotate(-94 243.6 299.7)"/>
<ellipse cx="255.5" cy="299.7" rx="19.8" ry="14.8" fill="url(#lg3)" transform="rotate(-63 255.5 299.7)"/>
<ellipse cx="259.6" cy="309.9" rx="19.4" ry="14.4" fill="url(#lg3)" transform="rotate(-35 259.6 309.9)"/>
<ellipse cx="270.1" cy="316.6" rx="19.0" ry="16.9" fill="url(#lg)" transform="rotate(-8 270.1 316.6)"/>
<ellipse cx="263.7" cy="324.0" rx="16.2" ry="16.4" fill="url(#lg2)" transform="rotate(12 263.7 324.0)"/>
<ellipse cx="261.4" cy="334.7" rx="16.2" ry="17.9" fill="url(#lg3)" transform="rotate(42 261.4 334.7)"/>
<ellipse cx="248.0" cy="334.2" rx="20.8" ry="15.9" fill="url(#lg2)" transform="rotate(78 248.0 334.2)"/>
<ellipse cx="236.5" cy="337.2" rx="16.6" ry="16.6" fill="url(#lg3)" transform="rotate(116 236.5 337.2)"/>
<ellipse cx="232.9" cy="334.8" rx="18.3" ry="15.4" fill="url(#lg)" transform="rotate(129 232.9 334.8)"/>
<ellipse cx="228.9" cy="327.3" rx="16.5" ry="13.8" fill="url(#lg)" transform="rotate(156 228.9 327.3)"/>
<ellipse cx="245" cy="318.0" rx="22.0" ry="18.1" fill="url(#lg2)"/>
<ellipse cx="251.3" cy="312.4" rx="9.7" ry="6.4" fill="#40bca0"/>
<ellipse cx="247.9" cy="316.5" rx="9.7" ry="6.4" fill="#50c8b4"/>
<ellipse cx="249.8" cy="321.9" rx="9.7" ry="6.4" fill="#34a888"/>
<ellipse cx="261.7" cy="300.8" rx="7.0" ry="4.0" fill="#74dccc" opacity="0.9"/>
<ellipse cx="266.9" cy="309.6" rx="7.0" ry="4.0" fill="#74dccc" opacity="0.9"/>
<ellipse cx="204" cy="318.4" rx="34.6" ry="29.3" fill="#06241a"/>
<ellipse cx="208.9" cy="327.6" rx="15.6" ry="13.3" fill="url(#lg3)" transform="rotate(69 208.9 327.6)"/>
<ellipse cx="204.4" cy="329.0" rx="14.6" ry="14.5" fill="url(#lg3)" transform="rotate(88 204.4 329.0)"/>
<ellipse cx="192.7" cy="325.9" rx="17.2" ry="13.5" fill="url(#lg2)" transform="rotate(136 192.7 325.9)"/>
<ellipse cx="184.9" cy="319.6" rx="17.7" ry="15.5" fill="url(#lg)" transform="rotate(167 184.9 319.6)"/>
<ellipse cx="185.3" cy="314.5" rx="14.2" ry="13.2" fill="url(#lg3)" transform="rotate(-178 185.3 314.5)"/>
<ellipse cx="189.8" cy="307.2" rx="18.3" ry="13.8" fill="url(#lg)" transform="rotate(-151 189.8 307.2)"/>
<ellipse cx="191.3" cy="301.3" rx="14.1" ry="12.1" fill="url(#lg3)" transform="rotate(-133 191.3 301.3)"/>
<ellipse cx="202.9" cy="298.1" rx="15.8" ry="15.7" fill="url(#lg)" transform="rotate(-94 202.9 298.1)"/>
<ellipse cx="212.2" cy="300.5" rx="17.8" ry="13.1" fill="url(#lg3)" transform="rotate(-61 212.2 300.5)"/>
<ellipse cx="219.2" cy="306.1" rx="17.0" ry="15.6" fill="url(#lg)" transform="rotate(-30 219.2 306.1)"/>
<ellipse cx="222.6" cy="319.0" rx="17.5" ry="15.1" fill="url(#lg)" transform="rotate(12 222.6 319.0)"/>
<ellipse cx="219.1" cy="325.4" rx="15.6" ry="12.7" fill="url(#lg)" transform="rotate(35 219.1 325.4)"/>
<ellipse cx="204" cy="313.3" rx="19.2" ry="15.5" fill="url(#lg2)"/>
<ellipse cx="199.1" cy="304.5" rx="8.5" ry="5.5" fill="#40bca0"/>
<ellipse cx="208.1" cy="313.3" rx="8.5" ry="5.5" fill="#40bca0"/>
<ellipse cx="208.0" cy="315.6" rx="8.5" ry="5.5" fill="#50c8b4"/>
<ellipse cx="186.2" cy="296.7" rx="6.2" ry="3.5" fill="#74dccc" opacity="0.9"/>
<ellipse cx="203.6" cy="299.4" rx="6.2" ry="3.5" fill="#74dccc" opacity="0.9"/>
<ellipse cx="172" cy="377.4" rx="44.6" ry="29.3" fill="#06241a"/>
<ellipse cx="177.1" cy="358.2" rx="20.0" ry="11.8" fill="url(#lg)" transform="rotate(-72 177.1 358.2)"/>
<ellipse cx="188.9" cy="359.6" rx="18.4" ry="13.5" fill="url(#lg2)" transform="rotate(-40 188.9 359.6)"/>
<ellipse cx="194.1" cy="370.9" rx="22.8" ry="12.8" fill="url(#lg)" transform="rotate(-8 194.1 370.9)"/>
<ellipse cx="196.9" cy="378.2" rx="21.4" ry="13.7" fill="url(#lg2)" transform="rotate(10 196.9 378.2)"/>
<ellipse cx="184.9" cy="386.9" rx="23.8" ry="13.9" fill="url(#lg)" transform="rotate(45 184.9 386.9)"/>
<ellipse cx="179.4" cy="385.9" rx="22.4" ry="13.7" fill="url(#lg3)" transform="rotate(58 179.4 385.9)"/>
<ellipse cx="170.2" cy="388.5" rx="22.3" ry="13.1" fill="url(#lg)" transform="rotate(97 170.2 388.5)"/>
<ellipse cx="163.5" cy="385.1" rx="18.0" ry="15.7" fill="url(#lg3)" transform="rotate(128 163.5 385.1)"/>
<ellipse cx="145.1" cy="379.5" rx="21.0" ry="14.6" fill="url(#lg)" transform="rotate(168 145.1 379.5)"/>
<ellipse cx="146.5" cy="369.3" rx="21.5" ry="12.1" fill="url(#lg3)" transform="rotate(-170 146.5 369.3)"/>
<ellipse cx="153.1" cy="362.6" rx="22.7" ry="13.8" fill="url(#lg2)" transform="rotate(-149 153.1 362.6)"/>
<ellipse cx="166.8" cy="362.0" rx="19.3" ry="14.7" fill="url(#lg2)" transform="rotate(-113 166.8 362.0)"/>
<ellipse cx="172" cy="372.3" rx="24.8" ry="15.5" fill="url(#lg2)"/>
<ellipse cx="186.1" cy="375.3" rx="10.9" ry="5.5" fill="#34a888"/>
<ellipse cx="167.0" cy="369.0" rx="10.9" ry="5.5" fill="#34a888"/>
<ellipse cx="185.9" cy="367.3" rx="10.9" ry="5.5" fill="#50c8b4"/>
<ellipse cx="185.9" cy="361.1" rx="7.9" ry="3.5" fill="#74dccc" opacity="0.9"/>
<ellipse cx="182.3" cy="356.2" rx="7.9" ry="3.5" fill="#74dccc" opacity="0.9"/>
<ellipse cx="235" cy="385.3" rx="19.8" ry="19.6" fill="#06241a"/>
<ellipse cx="242.3" cy="378.5" rx="8.1" ry="9.5" fill="url(#lg)" transform="rotate(-32 242.3 378.5)"/>
<ellipse cx="245.5" cy="379.4" rx="10.4" ry="9.5" fill="url(#lg)" transform="rotate(-19 245.5 379.4)"/>
<ellipse cx="242.6" cy="385.5" rx="10.3" ry="8.7" fill="url(#lg)" transform="rotate(18 242.6 385.5)"/>
<ellipse cx="239.6" cy="389.7" rx="9.5" ry="10.1" fill="url(#lg2)" transform="rotate(55 239.6 389.7)"/>
<ellipse cx="236.0" cy="391.6" rx="10.2" ry="8.3" fill="url(#lg2)" transform="rotate(83 236.0 391.6)"/>
<ellipse cx="232.8" cy="392.2" rx="8.4" ry="8.3" fill="url(#lg)" transform="rotate(104 232.8 392.2)"/>
<ellipse cx="227.7" cy="386.5" rx="8.5" ry="9.8" fill="url(#lg)" transform="rotate(154 227.7 386.5)"/>
<ellipse cx="226.6" cy="382.1" rx="8.2" ry="9.3" fill="url(#lg3)" transform="rotate(-174 226.6 382.1)"/>
<ellipse cx="227.7" cy="377.3" rx="8.1" ry="9.7" fill="url(#lg)" transform="rotate(-142 227.7 377.3)"/>
<ellipse cx="226.6" cy="374.9" rx="8.4" ry="10.0" fill="url(#lg2)" transform="rotate(-136 226.6 374.9)"/>
<ellipse cx="234.7" cy="374.6" rx="8.9" ry="9.8" fill="url(#lg)" transform="rotate(-92 234.7 374.6)"/>
<ellipse cx="239.4" cy="374.1" rx="8.2" ry="9.7" fill="url(#lg2)" transform="rotate(-64 239.4 374.1)"/>
<ellipse cx="235" cy="381.9" rx="11.0" ry="10.3" fill="url(#lg2)"/>
<ellipse cx="231.8" cy="382.0" rx="4.8" ry="3.7" fill="#50c8b4"/>
<ellipse cx="237.7" cy="376.9" rx="4.8" ry="3.7" fill="#50c8b4"/>
<ellipse cx="228.5" cy="376.5" rx="4.8" ry="3.7" fill="#50c8b4"/>
<ellipse cx="246.6" cy="378.9" rx="3.5" ry="2.3" fill="#74dccc" opacity="0.9"/>
<ellipse cx="240.8" cy="373.5" rx="3.5" ry="2.3" fill="#74dccc" opacity="0.9"/>
<ellipse cx="91" cy="428.0" rx="49.5" ry="34.2" fill="#06241a"/>
<ellipse cx="95.2" cy="439.2" rx="22.8" ry="14.1" fill="url(#lg3)" transform="rotate(75 95.2 439.2)"/>
<ellipse cx="77.0" cy="440.4" rx="20.4" ry="17.3" fill="url(#lg)" transform="rotate(131 77.0 440.4)"/>
<ellipse cx="66.7" cy="438.7" rx="22.8" ry="15.8" fill="url(#lg3)" transform="rotate(149 66.7 438.7)"/>
<ellipse cx="60.1" cy="426.9" rx="21.6" ry="18.0" fill="url(#lg3)" transform="rotate(175 60.1 426.9)"/>
<ellipse cx="70.7" cy="416.1" rx="22.9" ry="18.2" fill="url(#lg2)" transform="rotate(-159 70.7 416.1)"/>
<ellipse cx="70.0" cy="410.8" rx="22.7" ry="14.7" fill="url(#lg3)" transform="rotate(-148 70.0 410.8)"/>
<ellipse cx="93.0" cy="401.5" rx="21.7" ry="14.1" fill="url(#lg)" transform="rotate(-85 93.0 401.5)"/>
<ellipse cx="105.9" cy="406.9" rx="25.9" ry="14.4" fill="url(#lg)" transform="rotate(-49 105.9 406.9)"/>
<ellipse cx="116.5" cy="410.7" rx="20.0" ry="16.0" fill="url(#lg2)" transform="rotate(-28 116.5 410.7)"/>
<ellipse cx="114.7" cy="422.2" rx="22.7" ry="14.7" fill="url(#lg)" transform="rotate(-4 114.7 422.2)"/>
<ellipse cx="114.3" cy="430.2" rx="20.4" ry="14.3" fill="url(#lg2)" transform="rotate(15 114.3 430.2)"/>
<ellipse cx="104.8" cy="437.1" rx="23.0" ry="18.5" fill="url(#lg3)" transform="rotate(43 104.8 437.1)"/>
<ellipse cx="91" cy="422.0" rx="27.5" ry="18.1" fill="url(#lg2)"/>
<ellipse cx="80.9" cy="416.9" rx="12.1" ry="6.4" fill="#50c8b4"/>
<ellipse cx="99.1" cy="413.2" rx="12.1" ry="6.4" fill="#34a888"/>
<ellipse cx="91.2" cy="416.0" rx="12.1" ry="6.4" fill="#34a888"/>
<ellipse cx="92.9" cy="418.2" rx="8.8" ry="4.0" fill="#74dccc" opacity="0.9"/>
<ellipse cx="120.4" cy="415.8" rx="8.8" ry="4.0" fill="#74dccc" opacity="0.9"/>
<ellipse cx="27" cy="452.7" rx="29.7" ry="14.7" fill="#06241a"/>
<ellipse cx="18.3" cy="458.2" rx="12.4" ry="6.2" fill="url(#lg)" transform="rotate(141 18.3 458.2)"/>
<ellipse cx="9.0" cy="453.7" rx="14.9" ry="7.0" fill="url(#lg)" transform="rotate(172 9.0 453.7)"/>
<ellipse cx="13.1" cy="450.4" rx="12.1" ry="6.1" fill="url(#lg3)" transform="rotate(-178 13.1 450.4)"/>
<ellipse cx="17.3" cy="447.7" rx="15.8" ry="6.7" fill="url(#lg2)" transform="rotate(-161 17.3 447.7)"/>
<ellipse cx="19.8" cy="441.9" rx="12.2" ry="6.8" fill="url(#lg3)" transform="rotate(-128 19.8 441.9)"/>
<ellipse cx="25.5" cy="441.4" rx="13.2" ry="7.3" fill="url(#lg)" transform="rotate(-99 25.5 441.4)"/>
<ellipse cx="38.6" cy="444.4" rx="13.7" ry="6.2" fill="url(#lg3)" transform="rotate(-29 38.6 444.4)"/>
<ellipse cx="41.7" cy="446.1" rx="13.9" ry="7.5" fill="url(#lg)" transform="rotate(-19 41.7 446.1)"/>
<ellipse cx="39.6" cy="452.3" rx="12.4" ry="6.0" fill="url(#lg)" transform="rotate(6 39.6 452.3)"/>
<ellipse cx="40.7" cy="456.3" rx="14.3" ry="6.7" fill="url(#lg)" transform="rotate(21 40.7 456.3)"/>
<ellipse cx="33.5" cy="456.5" rx="15.5" ry="6.3" fill="url(#lg2)" transform="rotate(40 33.5 456.5)"/>
<ellipse cx="25.5" cy="458.4" rx="12.4" ry="7.3" fill="url(#lg3)" transform="rotate(102 25.5 458.4)"/>
<ellipse cx="27" cy="450.1" rx="16.5" ry="7.8" fill="url(#lg2)"/>
<ellipse cx="17.3" cy="448.3" rx="7.3" ry="2.8" fill="#34a888"/>
<ellipse cx="18.6" cy="447.9" rx="7.3" ry="2.8" fill="#50c8b4"/>
<ellipse cx="18.3" cy="449.0" rx="7.3" ry="2.8" fill="#50c8b4"/>
<ellipse cx="16.0" cy="444.6" rx="5.3" ry="1.7" fill="#74dccc" opacity="0.9"/>
<ellipse cx="9.4" cy="445.1" rx="5.3" ry="1.7" fill="#74dccc" opacity="0.9"/>
<ellipse cx="444" cy="183.9" rx="24.8" ry="24.4" fill="#06241a"/>
<ellipse cx="456.4" cy="184.4" rx="11.7" ry="10.5" fill="url(#lg3)" transform="rotate(15 456.4 184.4)"/>
<ellipse cx="453.5" cy="193.7" rx="11.5" ry="11.8" fill="url(#lg2)" transform="rotate(53 453.5 193.7)"/>
<ellipse cx="446.8" cy="192.6" rx="12.0" ry="10.1" fill="url(#lg)" transform="rotate(76 446.8 192.6)"/>
<ellipse cx="440.4" cy="193.2" rx="10.1" ry="11.3" fill="url(#lg2)" transform="rotate(106 440.4 193.2)"/>
<ellipse cx="431.4" cy="190.3" rx="10.7" ry="11.9" fill="url(#lg2)" transform="rotate(143 431.4 190.3)"/>
<ellipse cx="433.8" cy="184.7" rx="11.9" ry="11.6" fill="url(#lg2)" transform="rotate(160 433.8 184.7)"/>
<ellipse cx="432.0" cy="172.0" rx="12.7" ry="10.5" fill="url(#lg3)" transform="rotate(-143 432.0 172.0)"/>
<ellipse cx="437.5" cy="169.0" rx="11.6" ry="10.7" fill="url(#lg2)" transform="rotate(-119 437.5 169.0)"/>
<ellipse cx="442.3" cy="167.8" rx="10.7" ry="10.8" fill="url(#lg)" transform="rotate(-97 442.3 167.8)"/>
<ellipse cx="447.5" cy="165.6" rx="13.1" ry="10.3" fill="url(#lg)" transform="rotate(-77 447.5 165.6)"/>
<ellipse cx="453.8" cy="173.2" rx="10.5" ry="12.4" fill="url(#lg2)" transform="rotate(-38 453.8 173.2)"/>
<ellipse cx="453.6" cy="180.0" rx="11.9" ry="10.9" fill="url(#lg)" transform="rotate(-6 453.6 180.0)"/>
<ellipse cx="444" cy="179.6" rx="13.8" ry="12.9" fill="url(#lg2)"/>
<ellipse cx="450.4" cy="176.7" rx="6.1" ry="4.6" fill="#50c8b4"/>
<ellipse cx="441.6" cy="179.6" rx="6.1" ry="4.6" fill="#40bca0"/>
<ellipse cx="441.6" cy="179.5" rx="6.1" ry="4.6" fill="#50c8b4"/>
<ellipse cx="453.3" cy="175.4" rx="4.4" ry="2.9" fill="#74dccc" opacity="0.9"/>
<ellipse cx="441.8" cy="167.9" rx="4.4" ry="2.9" fill="#74dccc" opacity="0.9"/>
<ellipse cx="426" cy="215.3" rx="29.7" ry="19.6" fill="#06241a"/>
<ellipse cx="443.3" cy="215.3" rx="12.0" ry="9.3" fill="url(#lg)" transform="rotate(7 443.3 215.3)"/>
<ellipse cx="437.3" cy="221.7" rx="14.8" ry="9.7" fill="url(#lg)" transform="rotate(37 437.3 221.7)"/>
<ellipse cx="431.7" cy="225.4" rx="13.1" ry="8.3" fill="url(#lg3)" transform="rotate(65 431.7 225.4)"/>
<ellipse cx="425.2" cy="223.0" rx="13.8" ry="8.7" fill="url(#lg2)" transform="rotate(95 425.2 223.0)"/>
<ellipse cx="415.8" cy="220.2" rx="14.6" ry="9.1" fill="url(#lg)" transform="rotate(145 415.8 220.2)"/>
<ellipse cx="411.6" cy="214.1" rx="13.2" ry="9.3" fill="url(#lg)" transform="rotate(176 411.6 214.1)"/>
<ellipse cx="410.3" cy="210.2" rx="13.9" ry="9.2" fill="url(#lg)" transform="rotate(-170 410.3 210.2)"/>
<ellipse cx="411.1" cy="205.9" rx="13.8" ry="10.4" fill="url(#lg)" transform="rotate(-155 411.1 205.9)"/>
<ellipse cx="425.0" cy="204.8" rx="13.4" ry="9.5" fill="url(#lg2)" transform="rotate(-97 425.0 204.8)"/>
<ellipse cx="430.4" cy="200.6" rx="12.5" ry="8.4" fill="url(#lg)" transform="rotate(-70 430.4 200.6)"/>
<ellipse cx="431.8" cy="205.7" rx="12.4" ry="7.9" fill="url(#lg)" transform="rotate(-52 431.8 205.7)"/>
<ellipse cx="438.6" cy="209.0" rx="15.5" ry="10.0" fill="url(#lg)" transform="rotate(-18 438.6 209.0)"/>
<ellipse cx="426" cy="211.8" rx="16.5" ry="10.3" fill="url(#lg2)"/>
<ellipse cx="432.8" cy="207.8" rx="7.3" ry="3.7" fill="#50c8b4"/>
<ellipse cx="435.0" cy="211.6" rx="7.3" ry="3.7" fill="#50c8b4"/>
<ellipse cx="422.0" cy="213.7" rx="7.3" ry="3.7" fill="#50c8b4"/>
<ellipse cx="417.3" cy="205.8" rx="5.3" ry="2.3" fill="#74dccc" opacity="0.9"/>
<ellipse cx="419.6" cy="200.9" rx="5.3" ry="2.3" fill="#74dccc" opacity="0.9"/>
<ellipse cx="448" cy="242.3" rx="19.8" ry="19.6" fill="#06241a"/>
<ellipse cx="457.5" cy="247.4" rx="8.2" ry="9.2" fill="url(#lg3)" transform="rotate(38 457.5 247.4)"/>
<ellipse cx="453.6" cy="249.1" rx="10.1" ry="7.9" fill="url(#lg3)" transform="rotate(58 453.6 249.1)"/>
<ellipse cx="449.9" cy="252.7" rx="9.3" ry="9.2" fill="url(#lg2)" transform="rotate(81 449.9 252.7)"/>
<ellipse cx="441.2" cy="251.2" rx="8.0" ry="8.5" fill="url(#lg3)" transform="rotate(121 441.2 251.2)"/>
<ellipse cx="440.7" cy="243.4" rx="8.4" ry="9.4" fill="url(#lg)" transform="rotate(155 440.7 243.4)"/>
<ellipse cx="440.2" cy="238.3" rx="8.4" ry="10.4" fill="url(#lg2)" transform="rotate(-167 440.2 238.3)"/>
<ellipse cx="441.6" cy="235.5" rx="8.1" ry="10.1" fill="url(#lg2)" transform="rotate(-145 441.6 235.5)"/>
<ellipse cx="442.7" cy="229.7" rx="8.4" ry="9.9" fill="url(#lg2)" transform="rotate(-117 442.7 229.7)"/>
<ellipse cx="450.1" cy="231.5" rx="9.1" ry="8.1" fill="url(#lg2)" transform="rotate(-76 450.1 231.5)"/>
<ellipse cx="451.6" cy="228.0" rx="9.6" ry="9.0" fill="url(#lg2)" transform="rotate(-73 451.6 228.0)"/>
<ellipse cx="454.8" cy="234.1" rx="9.2" ry="8.1" fill="url(#lg)" transform="rotate(-41 454.8 234.1)"/>
<ellipse cx="457.4" cy="242.7" rx="8.1" ry="9.3" fill="url(#lg)" transform="rotate(16 457.4 242.7)"/>
<ellipse cx="448" cy="238.8" rx="11.0" ry="10.3" fill="url(#lg2)"/>
<ellipse cx="445.1" cy="236.1" rx="4.8" ry="3.7" fill="#34a888"/>
<ellipse cx="447.3" cy="239.8" rx="4.8" ry="3.7" fill="#50c8b4"/>
<ellipse cx="445.8" cy="235.2" rx="4.8" ry="3.7" fill="#40bca0"/>
<ellipse cx="441.7" cy="235.3" rx="3.5" ry="2.3" fill="#74dccc" opacity="0.9"/>
<ellipse cx="436.9" cy="226.5" rx="3.5" ry="2.3" fill="#74dccc" opacity="0.9"/>
<ellipse cx="407" cy="264.4" rx="49.5" ry="29.3" fill="#06241a"/>
<ellipse cx="391.2" cy="275.0" rx="23.9" ry="12.6" fill="url(#lg2)" transform="rotate(138 391.2 275.0)"/>
<ellipse cx="386.2" cy="266.3" rx="22.5" ry="14.7" fill="url(#lg)" transform="rotate(166 386.2 266.3)"/>
<ellipse cx="385.6" cy="258.1" rx="20.5" ry="11.8" fill="url(#lg)" transform="rotate(-172 385.6 258.1)"/>
<ellipse cx="383.4" cy="253.4" rx="20.1" ry="12.7" fill="url(#lg3)" transform="rotate(-162 383.4 253.4)"/>
<ellipse cx="397.5" cy="243.9" rx="20.8" ry="15.5" fill="url(#lg)" transform="rotate(-119 397.5 243.9)"/>
<ellipse cx="405.2" cy="247.5" rx="21.9" ry="13.8" fill="url(#lg2)" transform="rotate(-98 405.2 247.5)"/>
<ellipse cx="428.4" cy="247.7" rx="19.9" ry="11.8" fill="url(#lg3)" transform="rotate(-32 428.4 247.7)"/>
<ellipse cx="426.5" cy="252.9" rx="21.9" ry="14.3" fill="url(#lg)" transform="rotate(-22 426.5 252.9)"/>
<ellipse cx="428.0" cy="264.9" rx="21.9" ry="12.5" fill="url(#lg3)" transform="rotate(10 428.0 264.9)"/>
<ellipse cx="429.6" cy="267.5" rx="21.3" ry="12.7" fill="url(#lg2)" transform="rotate(16 429.6 267.5)"/>
<ellipse cx="415.9" cy="278.0" rx="22.1" ry="15.8" fill="url(#lg2)" transform="rotate(62 415.9 278.0)"/>
<ellipse cx="404.3" cy="276.2" rx="20.5" ry="12.9" fill="url(#lg2)" transform="rotate(100 404.3 276.2)"/>
<ellipse cx="407" cy="259.3" rx="27.5" ry="15.5" fill="url(#lg2)"/>
<ellipse cx="423.4" cy="260.2" rx="12.1" ry="5.5" fill="#40bca0"/>
<ellipse cx="391.8" cy="249.1" rx="12.1" ry="5.5" fill="#40bca0"/>
<ellipse cx="391.8" cy="251.8" rx="12.1" ry="5.5" fill="#34a888"/>
<ellipse cx="421.5" cy="251.7" rx="8.8" ry="3.5" fill="#74dccc" opacity="0.9"/>
<ellipse cx="378.1" cy="256.5" rx="8.8" ry="3.5" fill="#74dccc" opacity="0.9"/>
<ellipse cx="376" cy="309.4" rx="59.4" ry="29.3" fill="#06241a"/>
<ellipse cx="362.8" cy="320.8" rx="27.6" ry="13.9" fill="url(#lg)" transform="rotate(132 362.8 320.8)"/>
<ellipse cx="350.9" cy="319.5" rx="25.1" ry="13.2" fill="url(#lg3)" transform="rotate(152 350.9 319.5)"/>
<ellipse cx="341.2" cy="308.0" rx="28.8" ry="14.7" fill="url(#lg)" transform="rotate(177 341.2 308.0)"/>
<ellipse cx="348.8" cy="299.0" rx="24.2" ry="12.8" fill="url(#lg3)" transform="rotate(-166 348.8 299.0)"/>
<ellipse cx="360.7" cy="293.0" rx="31.4" ry="14.3" fill="url(#lg)" transform="rotate(-140 360.7 293.0)"/>
<ellipse cx="374.3" cy="291.3" rx="30.1" ry="13.6" fill="url(#lg3)" transform="rotate(-97 374.3 291.3)"/>
<ellipse cx="388.0" cy="291.0" rx="30.1" ry="12.8" fill="url(#lg2)" transform="rotate(-51 388.0 291.0)"/>
<ellipse cx="397.9" cy="293.8" rx="25.3" ry="13.7" fill="url(#lg3)" transform="rotate(-29 397.9 293.8)"/>
<ellipse cx="405.1" cy="302.5" rx="31.2" ry="14.1" fill="url(#lg3)" transform="rotate(-7 405.1 302.5)"/>
<ellipse cx="403.9" cy="309.5" rx="25.6" ry="15.2" fill="url(#lg2)" transform="rotate(7 403.9 309.5)"/>
<ellipse cx="391.9" cy="317.0" rx="23.9" ry="15.4" fill="url(#lg3)" transform="rotate(35 391.9 317.0)"/>
<ellipse cx="379.3" cy="320.6" rx="27.2" ry="15.1" fill="url(#lg)" transform="rotate(77 379.3 320.6)"/>
<ellipse cx="376" cy="304.3" rx="33.0" ry="15.5" fill="url(#lg2)"/>
<ellipse cx="361.0" cy="299.9" rx="14.5" ry="5.5" fill="#50c8b4"/>
<ellipse cx="374.5" cy="307.1" rx="14.5" ry="5.5" fill="#34a888"/>
<ellipse cx="359.9" cy="300.8" rx="14.5" ry="5.5" fill="#40bca0"/>
<ellipse cx="369.3" cy="290.3" rx="10.6" ry="3.5" fill="#74dccc" opacity="0.9"/>
<ellipse cx="375.9" cy="298.3" rx="10.6" ry="3.5" fill="#74dccc" opacity="0.9"/>
<ellipse cx="349" cy="369.6" rx="59.4" ry="39.1" fill="#06241a"/>
<ellipse cx="384.7" cy="368.7" rx="31.5" ry="19.7" fill="url(#lg)" transform="rotate(6 384.7 368.7)"/>
<ellipse cx="369.1" cy="374.2" rx="29.7" ry="20.7" fill="url(#lg2)" transform="rotate(24 369.1 374.2)"/>
<ellipse cx="365.1" cy="379.9" rx="24.4" ry="18.6" fill="url(#lg3)" transform="rotate(43 365.1 379.9)"/>
<ellipse cx="352.1" cy="381.8" rx="24.8" ry="20.7" fill="url(#lg)" transform="rotate(79 352.1 381.8)"/>
<ellipse cx="341.0" cy="387.7" rx="28.6" ry="18.4" fill="url(#lg2)" transform="rotate(109 341.0 387.7)"/>
<ellipse cx="319.1" cy="380.0" rx="24.2" ry="16.9" fill="url(#lg3)" transform="rotate(153 319.1 380.0)"/>
<ellipse cx="324.7" cy="363.4" rx="29.4" ry="18.4" fill="url(#lg)" transform="rotate(-176 324.7 363.4)"/>
<ellipse cx="326.6" cy="359.2" rx="31.0" ry="19.4" fill="url(#lg2)" transform="rotate(-165 326.6 359.2)"/>
<ellipse cx="329.2" cy="347.0" rx="24.6" ry="17.4" fill="url(#lg)" transform="rotate(-138 329.2 347.0)"/>
<ellipse cx="349.0" cy="344.0" rx="24.1" ry="18.6" fill="url(#lg3)" transform="rotate(-90 349.0 344.0)"/>
<ellipse cx="367.6" cy="347.3" rx="31.6" ry="21.1" fill="url(#lg)" transform="rotate(-44 367.6 347.3)"/>
<ellipse cx="371.8" cy="348.8" rx="30.7" ry="19.9" fill="url(#lg3)" transform="rotate(-35 371.8 348.8)"/>
<ellipse cx="349" cy="362.7" rx="33.0" ry="20.7" fill="url(#lg2)"/>
<ellipse cx="353.6" cy="350.5" rx="14.5" ry="7.4" fill="#50c8b4"/>
<ellipse cx="366.5" cy="360.7" rx="14.5" ry="7.4" fill="#34a888"/>
<ellipse cx="363.2" cy="365.3" rx="14.5" ry="7.4" fill="#50c8b4"/>
<ellipse cx="317.3" cy="351.2" rx="10.6" ry="4.6" fill="#74dccc" opacity="0.9"/>
<ellipse cx="380.9" cy="345.7" rx="10.6" ry="4.6" fill="#74dccc" opacity="0.9"/>
<ellipse cx="398" cy="390.3" rx="29.7" ry="19.6" fill="#06241a"/>
<ellipse cx="396.4" cy="396.4" rx="14.0" ry="8.3" fill="url(#lg2)" transform="rotate(100 396.4 396.4)"/>
<ellipse cx="387.4" cy="395.5" rx="15.0" ry="8.3" fill="url(#lg3)" transform="rotate(145 387.4 395.5)"/>
<ellipse cx="383.5" cy="395.7" rx="12.8" ry="8.8" fill="url(#lg)" transform="rotate(152 383.5 395.7)"/>
<ellipse cx="384.0" cy="389.8" rx="15.8" ry="8.9" fill="url(#lg3)" transform="rotate(173 384.0 389.8)"/>
<ellipse cx="384.0" cy="381.3" rx="15.1" ry="8.2" fill="url(#lg3)" transform="rotate(-154 384.0 381.3)"/>
<ellipse cx="391.1" cy="379.8" rx="13.0" ry="8.4" fill="url(#lg3)" transform="rotate(-130 391.1 379.8)"/>
<ellipse cx="396.1" cy="379.4" rx="13.9" ry="10.6" fill="url(#lg2)" transform="rotate(-103 396.1 379.4)"/>
<ellipse cx="406.4" cy="381.0" rx="13.9" ry="7.9" fill="url(#lg)" transform="rotate(-40 406.4 381.0)"/>
<ellipse cx="412.3" cy="384.8" rx="12.0" ry="9.8" fill="url(#lg)" transform="rotate(-13 412.3 384.8)"/>
<ellipse cx="410.1" cy="387.2" rx="12.4" ry="10.4" fill="url(#lg2)" transform="rotate(-4 410.1 387.2)"/>
<ellipse cx="407.6" cy="392.6" rx="12.8" ry="9.9" fill="url(#lg)" transform="rotate(25 407.6 392.6)"/>
<ellipse cx="405.3" cy="400.1" rx="15.5" ry="10.2" fill="url(#lg3)" transform="rotate(59 405.3 400.1)"/>
<ellipse cx="398" cy="386.9" rx="16.5" ry="10.3" fill="url(#lg2)"/>
<ellipse cx="389.7" cy="385.1" rx="7.3" ry="3.7" fill="#50c8b4"/>
<ellipse cx="405.9" cy="388.9" rx="7.3" ry="3.7" fill="#34a888"/>
<ellipse cx="403.7" cy="386.4" rx="7.3" ry="3.7" fill="#50c8b4"/>
<ellipse cx="407.2" cy="385.5" rx="5.3" ry="2.3" fill="#74dccc" opacity="0.9"/>
<ellipse cx="395.8" cy="374.6" rx="5.3" ry="2.3" fill="#74dccc" opacity="0.9"/>
<ellipse cx="299" cy="433.0" rx="54.5" ry="34.2" fill="#06241a"/>
<ellipse cx="301.7" cy="449.8" rx="23.9" ry="16.0" fill="url(#lg)" transform="rotate(82 301.7 449.8)"/>
<ellipse cx="287.6" cy="443.3" rx="26.9" ry="17.9" fill="url(#lg)" transform="rotate(129 287.6 443.3)"/>
<ellipse cx="282.1" cy="438.8" rx="22.4" ry="14.2" fill="url(#lg)" transform="rotate(150 282.1 438.8)"/>
<ellipse cx="274.4" cy="433.2" rx="23.4" ry="16.9" fill="url(#lg)" transform="rotate(170 274.4 433.2)"/>
<ellipse cx="279.8" cy="420.9" rx="23.9" ry="15.6" fill="url(#lg)" transform="rotate(-157 279.8 420.9)"/>
<ellipse cx="284.8" cy="409.0" rx="25.6" ry="17.3" fill="url(#lg)" transform="rotate(-125 284.8 409.0)"/>
<ellipse cx="299.4" cy="407.2" rx="22.9" ry="13.8" fill="url(#lg2)" transform="rotate(-89 299.4 407.2)"/>
<ellipse cx="305.7" cy="407.5" rx="27.3" ry="14.5" fill="url(#lg2)" transform="rotate(-73 305.7 407.5)"/>
<ellipse cx="322.9" cy="421.5" rx="28.7" ry="16.0" fill="url(#lg2)" transform="rotate(-17 322.9 421.5)"/>
<ellipse cx="328.7" cy="425.7" rx="21.9" ry="15.7" fill="url(#lg)" transform="rotate(-6 328.7 425.7)"/>
<ellipse cx="322.1" cy="438.8" rx="24.8" ry="14.8" fill="url(#lg)" transform="rotate(23 322.1 438.8)"/>
<ellipse cx="322.7" cy="445.1" rx="22.0" ry="18.0" fill="url(#lg)" transform="rotate(34 322.7 445.1)"/>
<ellipse cx="299" cy="427.0" rx="30.3" ry="18.1" fill="url(#lg2)"/>
<ellipse cx="291.4" cy="425.8" rx="13.3" ry="6.4" fill="#40bca0"/>
<ellipse cx="292.5" cy="424.4" rx="13.3" ry="6.4" fill="#50c8b4"/>
<ellipse cx="313.5" cy="423.9" rx="13.3" ry="6.4" fill="#50c8b4"/>
<ellipse cx="298.6" cy="421.0" rx="9.7" ry="4.0" fill="#74dccc" opacity="0.9"/>
<ellipse cx="268.1" cy="408.1" rx="9.7" ry="4.0" fill="#74dccc" opacity="0.9"/>
</g>
</g>
<g filter="url(#soft)">
<line x1="548" y1="20.6" x2="1226.1" y2="20.6" stroke="#8a8a8a" stroke-width="2"/>
<line x1="549" y1="20.6" x2="549" y2="375.5" stroke="#bcbcbc" stroke-width="2"/>
<line x1="1225.1" y1="20.6" x2="1225.1" y2="376.5" stroke="#8a8a8a" stroke-width="2"/>
<line x1="548" y1="375.5" x2="1226.1" y2="375.5" stroke="#8a8a8a" stroke-width="2"/>
<line x1="632.3" y1="375.5" x2="632.3" y2="371.3" stroke="#555" stroke-width="1.3"/>
<line x1="632.3" y1="20.6" x2="632.3" y2="24.8" stroke="#555" stroke-width="1.3"/>
<line x1="721.2" y1="375.5" x2="721.2" y2="372.9" stroke="#555" stroke-width="1.3"/>
<line x1="721.2" y1="20.6" x2="721.2" y2="23.2" stroke="#555" stroke-width="1.3"/>
<line x1="810.1" y1="375.5" x2="810.1" y2="371.3" stroke="#555" stroke-width="1.3"/>
<line x1="810.1" y1="20.6" x2="810.1" y2="24.8" stroke="#555" stroke-width="1.3"/>
<line x1="898.9" y1="375.5" x2="898.9" y2="372.9" stroke="#555" stroke-width="1.3"/>
<line x1="898.9" y1="20.6" x2="898.9" y2="23.2" stroke="#555" stroke-width="1.3"/>
<line x1="987.8" y1="375.5" x2="987.8" y2="371.3" stroke="#555" stroke-width="1.3"/>
<line x1="987.8" y1="20.6" x2="987.8" y2="24.8" stroke="#555" stroke-width="1.3"/>
<line x1="1076.7" y1="375.5" x2="1076.7" y2="372.9" stroke="#555" stroke-width="1.3"/>
<line x1="1076.7" y1="20.6" x2="1076.7" y2="23.2" stroke="#555" stroke-width="1.3"/>
<line x1="1165.6" y1="375.5" x2="1165.6" y2="371.3" stroke="#555" stroke-width="1.3"/>
<line x1="1165.6" y1="20.6" x2="1165.6" y2="24.8" stroke="#555" stroke-width="1.3"/>
<line x1="549" y1="286.8" x2="551.6" y2="286.8" stroke="#555" stroke-width="1.3"/>
<line x1="1225.1" y1="286.8" x2="1222.5" y2="286.8" stroke="#555" stroke-width="1.3"/>
<line x1="549" y1="198.1" x2="553.2" y2="198.1" stroke="#555" stroke-width="1.3"/>
<line x1="1225.1" y1="198.1" x2="1220.9" y2="198.1" stroke="#555" stroke-width="1.3"/>
<line x1="549" y1="109.3" x2="551.6" y2="109.3" stroke="#555" stroke-width="1.3"/>
<line x1="1225.1" y1="109.3" x2="1222.5" y2="109.3" stroke="#555" stroke-width="1.3"/>
<text x="543.5" y="31" text-anchor="end" font-size="33" font-family="Liberation Serif, Times New Roman, serif" font-weight="bold">0.8</text>
<text x="543.5" y="208.5" text-anchor="end" font-size="33" font-family="Liberation Serif, Times New Roman, serif" font-weight="bold">0.4</text>
<text x="543.5" y="385.9" text-anchor="end" font-size="33" font-family="Liberation Serif, Times New Roman, serif" font-weight="bold">0.0</text>
<text x="632.3" y="406.7" text-anchor="middle" font-size="33" font-family="Liberation Serif, Times New Roman, serif" font-weight="bold">450</text>
<text x="810.1" y="406.7" text-anchor="middle" font-size="33" font-family="Liberation Serif, Times New Roman, serif" font-weight="bold">600</text>
<text x="987.8" y="406.7" text-anchor="middle" font-size="33" font-family="Liberation Serif, Times New Roman, serif" font-weight="bold">750</text>
<text x="1165.6" y="406.7" text-anchor="middle" font-size="33" font-family="Liberation Serif, Times New Roman, serif" font-weight="bold">900</text>
<line x1="1317.4" y1="23.9" x2="1995.2" y2="23.9" stroke="#c0c0c0" stroke-width="2"/>
<line x1="1318.4" y1="23.9" x2="1318.4" y2="377.9" stroke="#a8a8a8" stroke-width="2"/>
<line x1="1994.2" y1="23.9" x2="1994.2" y2="378.9" stroke="#8a8a8a" stroke-width="2"/>
<line x1="1317.4" y1="377.9" x2="1995.2" y2="377.9" stroke="#8c8c8c" stroke-width="2"/>
<line x1="1401.8" y1="377.9" x2="1401.8" y2="373.7" stroke="#555" stroke-width="1.3"/>
<line x1="1401.8" y1="23.9" x2="1401.8" y2="28.1" stroke="#555" stroke-width="1.3"/>
<line x1="1490.7" y1="377.9" x2="1490.7" y2="375.3" stroke="#555" stroke-width="1.3"/>
<line x1="1490.7" y1="23.9" x2="1490.7" y2="26.5" stroke="#555" stroke-width="1.3"/>
<line x1="1579.6" y1="377.9" x2="1579.6" y2="373.7" stroke="#555" stroke-width="1.3"/>
<line x1="1579.6" y1="23.9" x2="1579.6" y2="28.1" stroke="#555" stroke-width="1.3"/>
<line x1="1668.6" y1="377.9" x2="1668.6" y2="375.3" stroke="#555" stroke-width="1.3"/>
<line x1="1668.6" y1="23.9" x2="1668.6" y2="26.5" stroke="#555" stroke-width="1.3"/>
<line x1="1757.5" y1="377.9" x2="1757.5" y2="373.7" stroke="#555" stroke-width="1.3"/>
<line x1="1757.5" y1="23.9" x2="1757.5" y2="28.1" stroke="#555" stroke-width="1.3"/>
<line x1="1846.4" y1="377.9" x2="1846.4" y2="375.3" stroke="#555" stroke-width="1.3"/>
<line x1="1846.4" y1="23.9" x2="1846.4" y2="26.5" stroke="#555" stroke-width="1.3"/>
<line x1="1935.3" y1="377.9" x2="1935.3" y2="373.7" stroke="#555" stroke-width="1.3"/>
<line x1="1935.3" y1="23.9" x2="1935.3" y2="28.1" stroke="#555" stroke-width="1.3"/>
<line x1="1318.4" y1="289.4" x2="1321" y2="289.4" stroke="#555" stroke-width="1.3"/>
<line x1="1994.2" y1="289.4" x2="1991.6" y2="289.4" stroke="#555" stroke-width="1.3"/>
<line x1="1318.4" y1="200.9" x2="1322.6" y2="200.9" stroke="#555" stroke-width="1.3"/>
<line x1="1994.2" y1="200.9" x2="1990" y2="200.9" stroke="#555" stroke-width="1.3"/>
<line x1="1318.4" y1="112.4" x2="1321" y2="112.4" stroke="#555" stroke-width="1.3"/>
<line x1="1994.2" y1="112.4" x2="1991.6" y2="112.4" stroke="#555" stroke-width="1.3"/>
<text x="1312.9" y="33.2" text-anchor="end" font-size="33" font-family="Liberation Serif, Times New Roman, serif" font-weight="bold">0.8</text>
<text x="1312.9" y="210.2" text-anchor="end" font-size="33" font-family="Liberation Serif, Times New Roman, serif" font-weight="bold">0.4</text>
<text x="1312.9" y="387.2" text-anchor="end" font-size="33" font-family="Liberation Serif, Times New Roman, serif" font-weight="bold">0.0</text>
<text x="1401.8" y="409.1" text-anchor="middle" font-size="33" font-family="Liberation Serif, Times New Roman, serif" font-weight="bold">450</text>
<text x="1579.6" y="409.1" text-anchor="middle" font-size="33" font-family="Liberation Serif, Times New Roman, serif" font-weight="bold">600</text>
<text x="1757.5" y="409.1" text-anchor="middle" font-size="33" font-family="Liberation Serif, Times New Roman, serif" font-weight="bold">750</text>
<text x="1935.3" y="409.1" text-anchor="middle" font-size="33" font-family="Liberation Serif, Times New Roman, serif" font-weight="bold">900</text>
<text x="887.7" y="456.5" text-anchor="middle" font-size="33" font-family="Liberation Serif, Times New Roman, serif" font-weight="bold">Wavelength (nm)</text>
<text x="1657.2" y="458" text-anchor="middle" font-size="33" font-family="Liberation Serif, Times New Roman, serif" font-weight="bold">Wavelength (nm)</text>
<text transform="translate(495.5,196) rotate(-90) scale(0.98,1)" text-anchor="middle" font-size="33" font-family="Liberation Serif, Times New Roman, serif" font-weight="bold">Reflectance</text>
<text transform="translate(1264.8,199) rotate(-90) scale(0.98,1)" text-anchor="middle" font-size="33" font-family="Liberation Serif, Times New Roman, serif" font-weight="bold">Reflectance</text>
<line x1="584.3" y1="59" x2="659.3" y2="59" stroke="#800000" stroke-width="2.2"/>
<circle cx="621.6" cy="59" r="4.8" fill="#800000"/>
<line x1="584.3" y1="99.3" x2="659.3" y2="99.3" stroke="#008000" stroke-width="2.2"/>
<rect x="617" y="94.7" width="9.2" height="9.2" fill="#008000"/>
<text x="666.5" y="71.1" font-size="33" font-family="Liberation Serif, Times New Roman, serif" font-weight="bold">Soil</text>
<text x="666.5" y="111.1" font-size="33" font-family="Liberation Serif, Times New Roman, serif" font-weight="bold">Cabbage</text>
<line x1="1353.6" y1="61.6" x2="1428.6" y2="61.6" stroke="#800000" stroke-width="2.2"/>
<circle cx="1390.9" cy="61.6" r="4.8" fill="#800000"/>
<line x1="1353.6" y1="101.9" x2="1428.6" y2="101.9" stroke="#008000" stroke-width="2.2"/>
<rect x="1386.3" y="97.3" width="9.2" height="9.2" fill="#008000"/>
<text x="1435.8" y="74.6" font-size="33" font-family="Liberation Serif, Times New Roman, serif" font-weight="bold">Soil</text>
<text x="1435.8" y="114.6" font-size="33" font-family="Liberation Serif, Times New Roman, serif" font-weight="bold">Cabbage</text>
<path d="M573.4,346.3 L574.8,346.3 L576.3,346.3 L577.7,346.2 L579.2,346.2 L580.6,346.2 L582,346.1 L583.5,346.1 L584.9,346 L586.4,346 L587.8,345.9 L589.2,345.8 L590.7,345.7 L592.1,345.6 L593.6,345.5 L595,345.3 L596.4,345.2 L597.9,345 L599.3,344.8 L600.8,344.7 L602.2,344.5 L603.6,344.3 L605.1,344.1 L606.5,344 L608,343.8 L609.4,343.6 L610.8,343.5 L612.3,343.3 L613.7,343.2 L615.2,343 L616.6,342.9 L618,342.7 L619.5,342.6 L620.9,342.5 L622.4,342.3 L623.8,342.2 L625.2,342 L626.7,341.8 L628.1,341.7 L629.6,341.5 L631,341.3 L632.4,341.2 L633.9,341 L635.3,340.9 L636.8,340.7 L638.2,340.6 L639.6,340.4 L641.1,340.3 L642.5,340.2 L644,340.1 L645.4,340 L646.8,339.9 L648.3,339.9 L649.7,339.8 L651.2,339.7 L652.6,339.6 L654,339.5 L655.5,339.4 L656.9,339.3 L658.4,339.1 L659.8,338.9 L661.2,338.7 L662.7,338.4 L664.1,338.1 L665.6,337.8 L667,337.5 L668.4,337.1 L669.9,336.7 L671.3,336.4 L672.8,336 L674.2,335.5 L675.6,335.1 L677.1,334.7 L678.5,334.3 L680,333.8 L681.4,333.4 L682.8,333 L684.3,332.6 L685.7,332.2 L687.2,331.8 L688.6,331.5 L690,331.1 L691.5,330.8 L692.9,330.6 L694.4,330.3 L695.8,330.1 L697.2,329.9 L698.7,329.7 L700.1,329.6 L701.6,329.4 L703,329.2 L704.4,329.1 L705.9,328.9 L707.3,328.7 L708.8,328.5 L710.2,328.2 L711.6,327.9 L713.1,327.5 L714.5,327.1 L716,326.7 L717.4,326.2 L718.8,325.7 L720.3,325.2 L721.7,324.6 L723.2,324.1 L724.6,323.5 L726,322.9 L727.5,322.4 L728.9,321.8 L730.4,321.3 L731.8,320.7 L733.2,320.2 L734.7,319.7 L736.1,319.1 L737.6,318.6 L739,318 L740.4,317.4 L741.9,316.8 L743.3,316.1 L744.8,315.4 L746.2,314.7 L747.6,313.9 L749.1,313.1 L750.5,312.2 L752,311.3 L753.4,310.4 L754.8,309.4 L756.3,308.5 L757.7,307.5 L759.2,306.5 L760.6,305.5 L762,304.5 L763.5,303.5 L764.9,302.5 L766.4,301.6 L767.8,300.6 L769.2,299.7 L770.7,298.8 L772.1,297.9 L773.6,297 L775,296.1 L776.4,295.2 L777.9,294.3 L779.3,293.5 L780.8,292.6 L782.2,291.8 L783.6,290.9 L785.1,290.1 L786.5,289.3 L788,288.5 L789.4,287.7 L790.8,286.9 L792.3,286.1 L793.7,285.4 L795.2,284.6 L796.6,283.9 L798,283.2 L799.5,282.5 L800.9,281.8 L802.4,281.2 L803.8,280.6 L805.2,279.9 L806.7,279.3 L808.1,278.8 L809.6,278.2 L811,277.7 L812.4,277.2 L813.9,276.7 L815.3,276.3 L816.8,275.9 L818.2,275.5 L819.6,275.1 L821.1,274.8 L822.5,274.4 L824,274.1 L825.4,273.8 L826.8,273.5 L828.3,273.1 L829.7,272.8 L831.2,272.5 L832.6,272.2 L834,271.9 L835.5,271.5 L836.9,271.2 L838.4,270.8 L839.8,270.5 L841.2,270.1 L842.7,269.8 L844.1,269.5 L845.6,269.1 L847,268.8 L848.4,268.5 L849.9,268.2 L851.3,267.9 L852.8,267.6 L854.2,267.4 L855.6,267.1 L857.1,266.9 L858.5,266.6 L860,266.3 L861.4,266.1 L862.8,265.8 L864.3,265.5 L865.7,265.1 L867.2,264.8 L868.6,264.4 L870,264 L871.5,263.6 L872.9,263.2 L874.4,262.8 L875.8,262.4 L877.2,261.9 L878.7,261.5 L880.1,261.1 L881.6,260.8 L883,260.4 L884.4,260.1 L885.9,259.8 L887.3,259.6 L888.8,259.3 L890.2,259.1 L891.6,258.9 L893.1,258.7 L894.5,258.5 L896,258.3 L897.4,258.1 L898.8,257.9 L900.3,257.6 L901.7,257.3 L903.2,257 L904.6,256.6 L906,256.2 L907.5,255.8 L908.9,255.3 L910.4,254.9 L911.8,254.4 L913.2,253.9 L914.7,253.4 L916.1,252.9 L917.6,252.5 L919,252 L920.4,251.6 L921.9,251.1 L923.3,250.7 L924.8,250.3 L926.2,249.9 L927.6,249.6 L929.1,249.2 L930.5,248.8 L932,248.5 L933.4,248.2 L934.8,247.8 L936.3,247.5 L937.7,247.2 L939.2,246.9 L940.6,246.6 L942,246.2 L943.5,245.9 L944.9,245.6 L946.4,245.3 L947.8,245.1 L949.2,244.8 L950.7,244.5 L952.1,244.2 L953.6,243.9 L955,243.6 L956.4,243.3 L957.9,243.1 L959.3,242.8 L960.8,242.5 L962.2,242.3 L963.6,242 L965.1,241.8 L966.5,241.6 L968,241.4 L969.4,241.2 L970.8,241.1 L972.3,241 L973.7,240.9 L975.2,240.8 L976.6,240.7 L978,240.5 L979.5,240.4 L980.9,240.3 L982.4,240.1 L983.8,239.8 L985.2,239.6 L986.7,239.2 L988.1,238.8 L989.6,238.3 L991,237.8 L992.4,237.2 L993.9,236.6 L995.3,235.9 L996.8,235.3 L998.2,234.7 L999.6,234.1 L1001.1,233.5 L1002.5,233.1 L1004,232.6 L1005.4,232.3 L1006.8,232.1 L1008.3,231.9 L1009.7,231.8 L1011.2,231.8 L1012.6,231.9 L1014,232 L1015.5,232.1 L1016.9,232.2 L1018.4,232.3 L1019.8,232.4 L1021.2,232.5 L1022.7,232.5 L1024.1,232.5 L1025.6,232.4 L1027,232.3 L1028.4,232.2 L1029.9,232 L1031.3,231.8 L1032.8,231.6 L1034.2,231.3 L1035.6,231 L1037.1,230.8 L1038.5,230.5 L1040,230.2 L1041.4,229.9 L1042.8,229.6 L1044.3,229.4 L1045.7,229.1 L1047.2,228.9 L1048.6,228.6 L1050,228.3 L1051.5,228.1 L1052.9,227.9 L1054.4,227.6 L1055.8,227.4 L1057.2,227.2 L1058.7,227 L1060.1,226.8 L1061.6,226.6 L1063,226.4 L1064.4,226.3 L1065.9,226.2 L1067.3,226.1 L1068.8,226 L1070.2,225.9 L1071.6,225.9 L1073.1,225.9 L1074.5,226 L1076,226.1 L1077.4,226.2 L1078.8,226.4 L1080.3,226.5 L1081.7,226.6 L1083.2,226.7 L1084.6,226.7 L1086,226.7 L1087.5,226.6 L1088.9,226.4 L1090.4,226 L1091.8,225.6 L1093.2,225 L1094.7,224.4 L1096.1,223.6 L1097.6,222.7 L1099,221.9 L1100.4,221 L1101.9,220.1 L1103.3,219.3 L1104.8,218.5 L1106.2,217.8 L1107.6,217.2 L1109.1,216.8 L1110.5,216.5 L1112,216.4 L1113.4,216.3 L1114.8,216.4 L1116.3,216.5 L1117.7,216.7 L1119.2,217 L1120.6,217.2 L1122,217.5 L1123.5,217.7 L1124.9,217.8 L1126.4,217.9 L1127.8,217.9 L1129.2,217.8 L1130.7,217.6 L1132.1,217.4 L1133.6,217.1 L1135,216.8 L1136.4,216.4 L1137.9,215.9 L1139.3,215.5 L1140.8,215 L1142.2,214.5 L1143.6,214 L1145.1,213.5 L1146.5,213 L1148,212.5 L1149.4,212 L1150.8,211.4 L1152.3,210.8 L1153.7,210.2 L1155.2,209.6 L1156.6,208.9 L1158,208.1 L1159.5,207.3 L1160.9,206.4 L1161.3,206.2 L1161.6,206 L1161.9,205.7 L1162.3,205.5 L1162.6,205.3 L1163,205 L1163.3,204.8 L1163.6,204.6 L1164,204.3 L1164.3,204.1 L1164.7,203.8 L1165,203.6" fill="none" stroke="#800000" stroke-width="2.2" stroke-linejoin="round"/>
<path d="M573.4,339 L576.3,338.8 L579.2,338.7 L582,338.5 L584.9,338.3 L587.8,338.2 L590.7,338 L593.6,337.8 L596.4,337.7 L599.3,337.6 L602.2,337.4 L605.1,337.3 L608,337.2 L610.8,337.1 L613.7,337 L616.6,336.9 L619.5,336.8 L622.4,336.8 L625.2,336.7 L628.1,336.7 L631,336.6 L633.9,336.6 L636.8,336.6 L639.6,336.7 L642.5,336.7 L645.4,336.7 L648.3,336.8 L651.2,336.9 L654,336.9 L656.9,337 L659.8,337 L662.7,337 L665.6,337 L668.4,337 L671.3,336.9 L674.2,336.8 L677.1,336.6 L680,336.4 L682.8,336 L685.7,335.6 L688.6,334.9 L691.5,334.1 L694.4,333 L697.2,331.7 L700.1,330.1 L703,328.3 L705.9,326.4 L708.8,324.4 L711.6,322.3 L714.5,320.2 L717.4,318.2 L720.3,316.2 L723.2,314.4 L726,312.8 L728.9,311.5 L731.8,310.5 L734.7,309.7 L737.6,309.2 L740.4,308.9 L743.3,308.7 L746.2,308.7 L749.1,308.8 L752,309 L754.8,309.3 L757.7,309.8 L760.6,310.6 L763.5,311.6 L766.4,312.9 L769.2,314.4 L772.1,316 L775,317.6 L777.9,319.1 L780.8,320.5 L783.6,321.6 L786.5,322.6 L789.4,323.3 L792.3,323.9 L795.2,324.4 L798,324.8 L800.9,325.2 L803.8,325.6 L806.7,326 L809.6,326.4 L812.4,326.8 L815.3,327.3 L818.2,327.8 L821.1,328.4 L824,328.9 L826.8,329.4 L829.7,329.9 L832.6,330.3 L835.5,330.6 L838.4,330.8 L841.2,331 L844.1,331.3 L847,331.6 L849.9,332 L852.8,332.6 L855.6,333.3 L858.5,334.1 L861.4,334.9 L864.3,335.8 L867.2,336.6 L870,337.4 L872.9,338.1 L875.8,338.9 L878.7,339.5 L881.6,340.2 L884.4,340.8 L887.3,341.4 L890.2,341.9 L893.1,342.2 L896,342.1 L898.8,341.7 L901.7,340.8 L904.6,339.3 L907.5,337.1 L910.4,334.2 L913.2,330.5 L916.1,325.9 L919,320.4 L921.9,313.9 L924.8,306.3 L927.6,297.8 L930.5,288.4 L933.4,278 L936.3,266.8 L939.2,254.7 L942,242 L944.9,228.7 L947.8,214.9 L950.7,200.9 L953.6,186.7 L956.4,172.6 L959.3,158.7 L962.2,145.4 L965.1,133 L968,121.7 L970.8,111.8 L973.7,103.5 L976.6,96.8 L979.5,91.3 L982.4,86.8 L985.2,83.2 L988.1,80.1 L989.7,78.6 L991.3,77.1 L992.9,75.7 L994.5,74.3 L996.1,72.8 L997.7,71.2 L999,69.8 L1000.3,68.3 L1001.7,66.9 L1003,65.4 L1004.3,64 L1005.6,62.7 L1006.8,61.7 L1007.9,60.7 L1009,60 L1010.2,59.3 L1011.4,58.8 L1012.5,58.5 L1013.3,58.4 L1014.1,58.4 L1015,58.4 L1015.8,58.5 L1016.6,58.7 L1017.4,58.9 L1018.3,59.2 L1019.2,59.5 L1020.1,59.9 L1021.1,60.2 L1022,60.5 L1022.9,60.8 L1024.1,61.1 L1025.3,61.2 L1026.5,61.4 L1027.6,61.4 L1028.8,61.5 L1030,61.6 L1031.7,61.8 L1033.4,61.9 L1035.1,62.1 L1036.8,62.2 L1038.5,62.2 L1040.2,62.1 L1041.5,61.9 L1042.7,61.6 L1044,61.4 L1045.3,61.3 L1046.5,61.2 L1047.8,61.4 L1048.6,61.6 L1049.3,61.9 L1050.1,62.2 L1050.9,62.6 L1051.6,62.9 L1052.4,63.2 L1053.3,63.5 L1054.1,63.7 L1055,63.9 L1055.9,64 L1056.7,64.1 L1057.6,64.2 L1058.4,64.3 L1059.2,64.4 L1060,64.6 L1060.8,64.8 L1061.6,65.2 L1062.4,65.8 L1063.1,66.4 L1063.7,67.1 L1064.3,67.9 L1065,68.7 L1065.7,69.5 L1066.3,70.3 L1067,71 L1067.6,71.7 L1068.2,72.2 L1068.9,72.7 L1069.5,73.1 L1070.2,73.3 L1071,73.4 L1071.8,73.4 L1072.6,73.2 L1073.4,73 L1074.2,72.7 L1075,72.4 L1076.2,72 L1077.5,71.8 L1078.8,71.5 L1080,71.3 L1081.2,70.9 L1082.5,70.5 L1083.3,70.2 L1084,69.8 L1084.8,69.5 L1085.6,69.1 L1086.3,68.8 L1087.1,68.6 L1087.9,68.5 L1088.8,68.4 L1089.7,68.5 L1090.5,68.7 L1091.3,69 L1092.2,69.3 L1093.2,69.8 L1094.1,70.3 L1095.1,70.7 L1096.1,71 L1097,71.1 L1098,71 L1098.5,70.8 L1099,70.5 L1099.5,70.1 L1100,69.7 L1100.5,69.1 L1101,68.5 L1101.5,67.8 L1102,67 L1102.5,66.1 L1103.1,65.3 L1103.6,64.4 L1104.1,63.5 L1104.6,62.6 L1105.1,61.8 L1105.7,61 L1106.2,60.3 L1106.7,59.6 L1107.2,58.9 L1107.7,58.4 L1108.1,57.9 L1108.6,57.4 L1109.1,57 L1109.5,56.6 L1110,56.3 L1111.2,55.6 L1112.3,55.1 L1113.5,54.9 L1114.7,54.9 L1115.8,55.1 L1117,55.6 L1118.2,56.4 L1119.5,57.4 L1120.7,58.6 L1121.9,60 L1123.2,61.5 L1124.4,63.1 L1124.9,63.7 L1125.4,64.4 L1125.9,65 L1126.4,65.6 L1126.9,66.1 L1127.4,66.5 L1128.5,67.2 L1129.6,67.5 L1130.7,67.7 L1131.8,67.7 L1132.9,67.7 L1134,67.8 L1134.9,68 L1135.8,68.3 L1136.7,68.7 L1137.5,69.2 L1138.4,69.8 L1139.3,70.5 L1140.2,71.2 L1141,71.9 L1141.8,72.7 L1142.7,73.6 L1143.6,74.4 L1144.4,75.3 L1145,75.9 L1145.5,76.5 L1146.1,77.2 L1146.7,77.9 L1147.2,78.7 L1147.8,79.5 L1148.9,81.3 L1149.9,83.3 L1151,85.3 L1152.1,87.3 L1153.1,89 L1154.2,90.5 L1154.7,91.1 L1155.3,91.5 L1155.8,91.9 L1156.3,92.1 L1156.9,92.3 L1157.4,92.3 L1158.1,92.2 L1158.8,91.9 L1159.5,91.5 L1160.2,91 L1160.9,90.4 L1161.6,89.8 L1162.2,89.3 L1162.7,88.9 L1163.3,88.4 L1163.9,87.9 L1164.4,87.5 L1165,87" fill="none" stroke="#008000" stroke-width="2.2" stroke-linejoin="round"/>
<circle cx="573.4" cy="346.3" r="4.8" fill="#800000"/>
<circle cx="590.7" cy="345.7" r="4.8" fill="#800000"/>
<circle cx="608" cy="343.8" r="4.8" fill="#800000"/>
<circle cx="625.2" cy="342" r="4.8" fill="#800000"/>
<circle cx="642.5" cy="340.2" r="4.8" fill="#800000"/>
<circle cx="659.8" cy="338.9" r="4.8" fill="#800000"/>
<circle cx="677.1" cy="334.7" r="4.8" fill="#800000"/>
<circle cx="694.4" cy="330.3" r="4.8" fill="#800000"/>
<circle cx="711.6" cy="327.9" r="4.8" fill="#800000"/>
<circle cx="728.9" cy="321.8" r="4.8" fill="#800000"/>
<circle cx="746.2" cy="314.7" r="4.8" fill="#800000"/>
<circle cx="763.5" cy="303.5" r="4.8" fill="#800000"/>
<circle cx="780.8" cy="292.6" r="4.8" fill="#800000"/>
<circle cx="798" cy="283.2" r="4.8" fill="#800000"/>
<circle cx="815.3" cy="276.3" r="4.8" fill="#800000"/>
<circle cx="832.6" cy="272.2" r="4.8" fill="#800000"/>
<circle cx="849.9" cy="268.2" r="4.8" fill="#800000"/>
<circle cx="867.2" cy="264.8" r="4.8" fill="#800000"/>
<circle cx="884.4" cy="260.1" r="4.8" fill="#800000"/>
<circle cx="901.7" cy="257.3" r="4.8" fill="#800000"/>
<circle cx="919" cy="252" r="4.8" fill="#800000"/>
<circle cx="936.3" cy="247.5" r="4.8" fill="#800000"/>
<circle cx="953.6" cy="243.9" r="4.8" fill="#800000"/>
<circle cx="970.8" cy="241.1" r="4.8" fill="#800000"/>
<circle cx="988.1" cy="238.8" r="4.8" fill="#800000"/>
<circle cx="1005.4" cy="232.3" r="4.8" fill="#800000"/>
<circle cx="1022.7" cy="232.5" r="4.8" fill="#800000"/>
<circle cx="1040" cy="230.2" r="4.8" fill="#800000"/>
<circle cx="1057.2" cy="227.2" r="4.8" fill="#800000"/>
<circle cx="1074.5" cy="226" r="4.8" fill="#800000"/>
<circle cx="1091.8" cy="225.6" r="4.8" fill="#800000"/>
<circle cx="1109.1" cy="216.8" r="4.8" fill="#800000"/>
<circle cx="1126.4" cy="217.9" r="4.8" fill="#800000"/>
<circle cx="1143.6" cy="214" r="4.8" fill="#800000"/>
<circle cx="1160.9" cy="206.4" r="4.8" fill="#800000"/>
<circle cx="1165" cy="203.6" r="4.8" fill="#800000"/>
<rect x="568.8" y="334.4" width="9.2" height="9.2" fill="#008000"/>
<rect x="586.1" y="333.4" width="9.2" height="9.2" fill="#008000"/>
<rect x="603.4" y="332.6" width="9.2" height="9.2" fill="#008000"/>
<rect x="620.6" y="332.1" width="9.2" height="9.2" fill="#008000"/>
<rect x="637.9" y="332.1" width="9.2" height="9.2" fill="#008000"/>
<rect x="655.2" y="332.4" width="9.2" height="9.2" fill="#008000"/>
<rect x="672.5" y="332" width="9.2" height="9.2" fill="#008000"/>
<rect x="689.8" y="328.4" width="9.2" height="9.2" fill="#008000"/>
<rect x="707" y="317.7" width="9.2" height="9.2" fill="#008000"/>
<rect x="724.3" y="306.9" width="9.2" height="9.2" fill="#008000"/>
<rect x="741.6" y="304.1" width="9.2" height="9.2" fill="#008000"/>
<rect x="758.9" y="307" width="9.2" height="9.2" fill="#008000"/>
<rect x="776.2" y="315.9" width="9.2" height="9.2" fill="#008000"/>
<rect x="793.4" y="320.2" width="9.2" height="9.2" fill="#008000"/>
<rect x="810.7" y="322.7" width="9.2" height="9.2" fill="#008000"/>
<rect x="828" y="325.7" width="9.2" height="9.2" fill="#008000"/>
<rect x="845.3" y="327.4" width="9.2" height="9.2" fill="#008000"/>
<rect x="862.6" y="332" width="9.2" height="9.2" fill="#008000"/>
<rect x="879.8" y="336.2" width="9.2" height="9.2" fill="#008000"/>
<rect x="897.1" y="336.2" width="9.2" height="9.2" fill="#008000"/>
<rect x="914.4" y="315.8" width="9.2" height="9.2" fill="#008000"/>
<rect x="931.7" y="262.2" width="9.2" height="9.2" fill="#008000"/>
<rect x="949" y="182.1" width="9.2" height="9.2" fill="#008000"/>
<rect x="966.2" y="107.2" width="9.2" height="9.2" fill="#008000"/>
<rect x="983.5" y="75.5" width="9.2" height="9.2" fill="#008000"/>
<rect x="1000.8" y="57.9" width="9.2" height="9.2" fill="#008000"/>
<rect x="1018.1" y="56.2" width="9.2" height="9.2" fill="#008000"/>
<rect x="1035.4" y="57.4" width="9.2" height="9.2" fill="#008000"/>
<rect x="1052.6" y="59.3" width="9.2" height="9.2" fill="#008000"/>
<rect x="1069.9" y="66.2" width="9.2" height="9.2" fill="#008000"/>
<rect x="1087.2" y="64.6" width="9.2" height="9.2" fill="#008000"/>
<rect x="1104.5" y="52.1" width="9.2" height="9.2" fill="#008000"/>
<rect x="1121.8" y="62.3" width="9.2" height="9.2" fill="#008000"/>
<rect x="1139" y="70.4" width="9.2" height="9.2" fill="#008000"/>
<rect x="1156.3" y="84.5" width="9.2" height="9.2" fill="#008000"/>
<rect x="1160.4" y="82.9" width="9.2" height="9.2" fill="#008000"/>
<path d="M1401.2,343.4 L1404,343.1 L1406.9,342.8 L1409.7,342.4 L1412.5,342.1 L1415.4,341.7 L1418.2,341.4 L1421.5,341 L1424.9,340.6 L1428.2,340.1 L1431.6,339.7 L1435,339.2 L1438.3,338.7 L1441.4,338.2 L1444.5,337.7 L1447.5,337.1 L1450.6,336.5 L1453.7,335.8 L1456.8,335.2 L1459.9,334.6 L1463,333.9 L1466,333.2 L1469.1,332.5 L1472.2,331.7 L1475.3,331 L1478.8,330.1 L1482.3,329.2 L1485.8,328.2 L1489.2,327.1 L1492.7,326 L1496.2,324.8 L1499.9,323.5 L1503.7,322 L1507.4,320.5 L1511.1,318.7 L1514.9,316.9 L1518.6,314.8 L1522.5,312.5 L1526.3,310 L1530.2,307.5 L1534.1,305 L1537.9,302.5 L1541.8,300.1 L1545.7,297.8 L1549.5,295.6 L1553.3,293.4 L1557.2,291.2 L1561.1,289.1 L1564.9,287 L1567.5,285.6 L1570.1,284.3 L1572.7,283.1 L1575.2,281.9 L1577.8,280.9 L1580.4,280 L1582.2,279.5 L1584,279 L1585.8,278.5 L1587.5,278.1 L1589.3,277.6 L1591.1,277.1 L1593.9,276.2 L1596.8,275.3 L1599.7,274.4 L1602.5,273.5 L1605.3,272.7 L1608.2,271.9 L1612,271 L1615.9,270.3 L1619.8,269.7 L1623.6,269.2 L1627.5,268.6 L1631.3,267.8 L1635.2,266.9 L1639,265.9 L1642.9,264.9 L1646.8,263.9 L1650.6,263 L1654.5,262.1 L1658,261.4 L1661.4,260.7 L1664.9,260 L1668.4,259.4 L1671.8,258.7 L1675.3,258 L1677,257.6 L1678.8,257.2 L1680.5,256.7 L1682.3,256.3 L1684,255.8 L1685.8,255.3 L1687.3,254.8 L1688.9,254.3 L1690.4,253.7 L1691.9,253.1 L1693.5,252.6 L1695,252.2 L1697.7,251.6 L1700.4,251 L1703.1,250.4 L1705.8,249.9 L1708.5,249.3 L1711.2,248.7 L1714.3,248 L1717.4,247.3 L1720.5,246.6 L1723.6,245.9 L1726.7,245.2 L1729.8,244.5 L1733.7,243.8 L1737.5,243.4 L1741.3,243.2 L1745.2,243 L1749.1,242.8 L1752.9,242.4 L1753.9,242.3 L1754.8,242.1 L1755.8,241.9 L1756.8,241.7 L1757.7,241.5 L1758.7,241.2 L1760.6,240.5 L1762.6,239.6 L1764.5,238.6 L1766.4,237.6 L1768.4,236.7 L1770.3,236 L1772.1,235.6 L1773.9,235.3 L1775.7,235 L1777.4,234.9 L1779.2,234.7 L1781,234.7 L1782.3,234.7 L1783.7,234.8 L1785,235 L1786.3,235.1 L1787.7,235.2 L1789,235.1 L1791.4,234.8 L1793.8,234.5 L1796.2,234.1 L1798.6,233.8 L1801,233.4 L1803.4,233.1 L1806.6,232.7 L1809.8,232.4 L1813.1,232.1 L1816.3,231.9 L1819.5,231.5 L1822.7,231.2 L1824,230.9 L1825.3,230.5 L1826.6,229.9 L1827.9,229.4 L1829.2,228.9 L1830.5,228.6 L1831.8,228.6 L1833.1,228.8 L1834.3,229.2 L1835.6,229.6 L1836.9,229.9 L1838.2,229.9 L1839.7,229.6 L1841.1,229.1 L1842.6,228.6 L1844,228 L1845.5,227.6 L1846.9,227.3 L1848.5,227.2 L1850.1,227.1 L1851.7,227 L1853.3,227 L1854.9,227.1 L1856.5,227.1 L1858.1,227.3 L1859.7,227.8 L1861.3,228.3 L1863,228.8 L1864.6,229.1 L1866.2,229 L1867.8,228.4 L1869.4,227.3 L1871,225.9 L1872.6,224.5 L1874.2,223.1 L1875.8,222 L1877.4,221.1 L1879,220.3 L1880.7,219.5 L1882.3,218.8 L1883.9,218.3 L1885.5,217.9 L1887.1,217.9 L1888.7,218.4 L1890.3,219.2 L1891.9,220 L1893.5,220.5 L1895.1,220.6 L1897.2,220.2 L1899.3,219.5 L1901.4,218.7 L1903.5,217.9 L1905.6,217.2 L1907.7,216.7 L1910.3,216.4 L1912.8,216.4 L1915.4,216.5 L1918,216.7 L1920.5,216.6 L1923.1,216.2 L1924.7,215.6 L1926.3,214.6 L1927.9,213.2 L1929.6,211.5 L1931.2,209.6 L1932.8,207.5" fill="none" stroke="#800000" stroke-width="2.2" stroke-linejoin="round"/>
<path d="M1401.2,338.2 L1404,338.2 L1406.9,338.2 L1409.7,338.2 L1412.5,338.2 L1415.4,338.3 L1418.2,338.3 L1421.3,338.4 L1424.4,338.5 L1427.5,338.7 L1430.5,338.9 L1433.6,339.1 L1436.7,339.2 L1440,339.1 L1443.4,338.9 L1446.8,338.4 L1450.1,337.8 L1453.5,337.1 L1456.8,336.4 L1458.9,335.9 L1460.9,335.3 L1463,334.6 L1465.1,333.8 L1467.1,332.9 L1469.2,331.8 L1471.2,330.5 L1473.3,328.9 L1475.3,327.2 L1477.4,325.5 L1479.5,323.9 L1481.5,322.5 L1484,321 L1486.4,319.6 L1488.8,318.2 L1491.3,317 L1493.8,315.8 L1496.2,314.8 L1499.4,313.6 L1502.6,312.6 L1505.8,311.9 L1509.1,311.3 L1512.3,310.8 L1515.5,310.5 L1517.3,310.4 L1519.1,310.3 L1520.9,310.4 L1522.7,310.6 L1524.5,311.1 L1526.3,311.7 L1528.9,312.9 L1531.5,314.2 L1534,315.5 L1536.6,316.9 L1539.2,318.2 L1541.8,319.4 L1544.4,320.6 L1546.9,321.7 L1549.5,322.9 L1552.1,323.9 L1554.6,325 L1557.2,325.9 L1559.8,326.7 L1562.4,327.4 L1565,327.9 L1567.5,328.4 L1570.1,328.7 L1572.7,329 L1573.9,329.1 L1575.1,329.2 L1576.3,329.2 L1577.6,329.3 L1578.8,329.4 L1580,329.5 L1581.9,329.7 L1583.8,329.9 L1585.7,330.1 L1587.5,330.3 L1589.4,330.5 L1591.3,330.8 L1593.3,331.1 L1595.3,331.4 L1597.2,331.8 L1599.2,332.1 L1601.2,332.5 L1603.2,332.8 L1606.1,333.2 L1609,333.5 L1611.8,333.7 L1614.7,334 L1617.6,334.3 L1620.5,334.8 L1622.4,335.2 L1624.4,335.8 L1626.3,336.3 L1628.2,336.9 L1630.2,337.5 L1632.1,338 L1635,338.7 L1637.9,339.4 L1640.8,340 L1643.7,340.7 L1646.6,341.3 L1649.5,341.9 L1651.6,342.3 L1653.7,342.7 L1655.8,343 L1658,343.3 L1660.1,343.6 L1662.2,343.8 L1664,343.9 L1665.7,343.8 L1667.5,343.6 L1669.2,343.2 L1671,342.8 L1672.7,342.3 L1674,341.8 L1675.4,341.2 L1676.8,340.4 L1678.1,339.4 L1679.5,338.1 L1680.8,336.5 L1681.7,335.3 L1682.6,333.9 L1683.5,332.5 L1684.4,331 L1685.3,329.4 L1686.2,327.8 L1687,326.4 L1687.9,324.9 L1688.7,323.4 L1689.5,321.8 L1690.4,320 L1691.2,318 L1692.2,315.2 L1693.2,312.2 L1694.2,309 L1695.3,305.5 L1696.3,302 L1697.3,298.5 L1698.4,294.6 L1699.5,290.7 L1700.7,286.8 L1701.8,282.7 L1702.9,278.7 L1704,274.5 L1705.1,270.4 L1706.2,266.1 L1707.2,261.8 L1708.3,257.3 L1709.4,252.7 L1710.5,248 L1711.6,243.1 L1712.7,238.2 L1713.8,233.1 L1714.8,228 L1715.9,222.8 L1717,217.5 L1717.9,213 L1718.8,208.5 L1719.7,203.9 L1720.6,199.3 L1721.5,194.7 L1722.4,190.3 L1723.3,186 L1724.2,181.8 L1725.1,177.7 L1726,173.7 L1726.9,169.8 L1727.8,166 L1728.7,162.3 L1729.6,158.7 L1730.5,155.1 L1731.4,151.5 L1732.3,147.9 L1733.2,144.3 L1734.1,140.5 L1735.1,136.6 L1736,132.6 L1736.9,128.7 L1737.9,124.8 L1738.8,121 L1739.6,117.9 L1740.4,115.1 L1741.2,112.6 L1742.1,110.3 L1742.9,108.1 L1743.7,106 L1744.7,103.6 L1745.6,101.3 L1746.6,99.2 L1747.6,97.1 L1748.5,95.2 L1749.5,93.4 L1750.5,91.7 L1751.4,90.1 L1752.4,88.6 L1753.4,87.1 L1754.3,85.9 L1755.3,84.8 L1757.2,82.9 L1759.2,81.3 L1761.1,79.7 L1763,78.1 L1765,76.4 L1766.9,74.6 L1768.6,72.9 L1770.3,71 L1772,69.1 L1773.6,67.2 L1775.3,65.4 L1777,63.7 L1777.7,63.1 L1778.4,62.5 L1779,62 L1779.7,61.7 L1780.4,61.5 L1781.1,61.5 L1782.1,61.6 L1783.2,61.8 L1784.2,61.9 L1785.3,62.1 L1786.4,62.2 L1787.4,62.4 L1788.4,62.6 L1789.4,62.7 L1790.5,62.9 L1791.5,63.1 L1792.5,63.2 L1793.5,63.4 L1794.7,63.7 L1795.8,64.1 L1797,64.5 L1798.1,64.8 L1799.2,65.1 L1800.4,65.2 L1801.4,65.2 L1802.4,65.1 L1803.5,65.1 L1804.5,65.1 L1805.5,65 L1806.5,65 L1807.7,65 L1808.8,64.9 L1810,64.9 L1811.1,64.9 L1812.2,64.8 L1813.4,64.8 L1814.3,64.8 L1815.2,64.9 L1816.1,65 L1816.9,65.1 L1817.8,65.2 L1818.7,65.4 L1819.6,65.6 L1820.4,65.9 L1821.3,66.2 L1822.2,66.6 L1823,66.9 L1823.9,67.2 L1824.8,67.3 L1825.6,67.3 L1826.5,67.2 L1827.4,67 L1828.2,67 L1829.1,67.2 L1829.8,67.5 L1830.5,67.9 L1831.2,68.4 L1832,69 L1832.7,69.6 L1833.4,70.2 L1834.3,71.1 L1835.1,72.2 L1836,73.3 L1836.9,74.4 L1837.7,75.3 L1838.6,75.8 L1839.9,76 L1841.2,75.6 L1842.5,75 L1843.9,74.4 L1845.2,73.8 L1846.5,73.5 L1847.4,73.5 L1848.2,73.6 L1849.1,73.7 L1850,73.7 L1850.8,73.8 L1851.7,73.7 L1852.6,73.5 L1853.4,73.1 L1854.3,72.6 L1855.2,72.1 L1856,71.7 L1856.9,71.5 L1857.8,71.5 L1858.6,71.6 L1859.5,71.7 L1860.4,71.9 L1861.2,72.2 L1862.1,72.4 L1862.8,72.7 L1863.5,73.1 L1864.2,73.6 L1865,74.1 L1865.7,74.4 L1866.4,74.4 L1867.4,74 L1868.3,73.3 L1869.3,72.3 L1870.3,71.2 L1871.2,69.9 L1872.2,68.7 L1872.9,67.8 L1873.5,66.9 L1874.2,66 L1874.9,65 L1875.5,64.1 L1876.2,63.3 L1877,62.5 L1877.7,61.7 L1878.5,61.1 L1879.3,60.5 L1880,60 L1880.8,59.5 L1881.6,59.1 L1882.4,58.8 L1883.2,58.5 L1883.9,58.5 L1884.7,58.5 L1885.5,58.7 L1886.3,59 L1887,59.5 L1887.8,60.1 L1888.6,60.8 L1889.3,61.6 L1890.1,62.4 L1890.9,63.4 L1891.6,64.5 L1892.4,65.8 L1893.2,67 L1893.9,68 L1894.7,68.7 L1895.7,69.3 L1896.6,69.7 L1897.6,70.1 L1898.6,70.3 L1899.5,70.5 L1900.5,70.7 L1901.3,70.8 L1902.1,70.8 L1902.8,70.8 L1903.6,70.8 L1904.4,70.9 L1905.2,71.1 L1906.2,71.5 L1907.1,72.1 L1908.1,72.8 L1909.1,73.5 L1910,74.3 L1911,75.1 L1911.8,75.7 L1912.5,76.3 L1913.3,77 L1914.1,77.7 L1914.8,78.6 L1915.6,79.7 L1916.4,81 L1917.1,82.3 L1917.9,83.7 L1918.7,85.1 L1919.4,86.4 L1920.2,87.8 L1920.8,88.8 L1921.4,89.8 L1922,90.8 L1922.5,91.8 L1923.1,92.7 L1923.7,93.6 L1924.5,94.5 L1925.2,95 L1926,95.2 L1926.8,95.1 L1927.5,94.9 L1928.3,94.6 L1929,94.3 L1929.8,93.9 L1930.5,93.4 L1931.2,92.7 L1932,92 L1932.7,91.1" fill="none" stroke="#008000" stroke-width="2.2" stroke-linejoin="round"/>
<circle cx="1401.2" cy="343.4" r="4.8" fill="#800000"/>
<circle cx="1496.2" cy="324.8" r="4.8" fill="#800000"/>
<circle cx="1591.1" cy="277.1" r="4.8" fill="#800000"/>
<circle cx="1685.8" cy="255.3" r="4.8" fill="#800000"/>
<circle cx="1781" cy="234.7" r="4.8" fill="#800000"/>
<circle cx="1875.8" cy="222" r="4.8" fill="#800000"/>
<circle cx="1932.8" cy="207.5" r="4.8" fill="#800000"/>
<rect x="1396.6" y="333.6" width="9.2" height="9.2" fill="#008000"/>
<rect x="1491.6" y="310.2" width="9.2" height="9.2" fill="#008000"/>
<rect x="1586.7" y="326.2" width="9.2" height="9.2" fill="#008000"/>
<rect x="1681.6" y="323.2" width="9.2" height="9.2" fill="#008000"/>
<rect x="1776.5" y="56.9" width="9.2" height="9.2" fill="#008000"/>
<rect x="1871.6" y="58.7" width="9.2" height="9.2" fill="#008000"/>
<rect x="1928.1" y="86.5" width="9.2" height="9.2" fill="#008000"/>
<text transform="translate(238.1,509.9) scale(1.06,1)" text-anchor="middle" font-size="39.5" font-family="Liberation Serif, Times New Roman, serif" font-weight="bold">(a)</text>
<text transform="translate(889.6,509.9) scale(1.06,1)" text-anchor="middle" font-size="39.5" font-family="Liberation Serif, Times New Roman, serif" font-weight="bold">(b)</text>
<text transform="translate(1667,509.9) scale(1.06,1)" text-anchor="middle" font-size="39.5" font-family="Liberation Serif, Times New Roman, serif" font-weight="bold">(c)</text>
</g>
</svg>
</body></html>
